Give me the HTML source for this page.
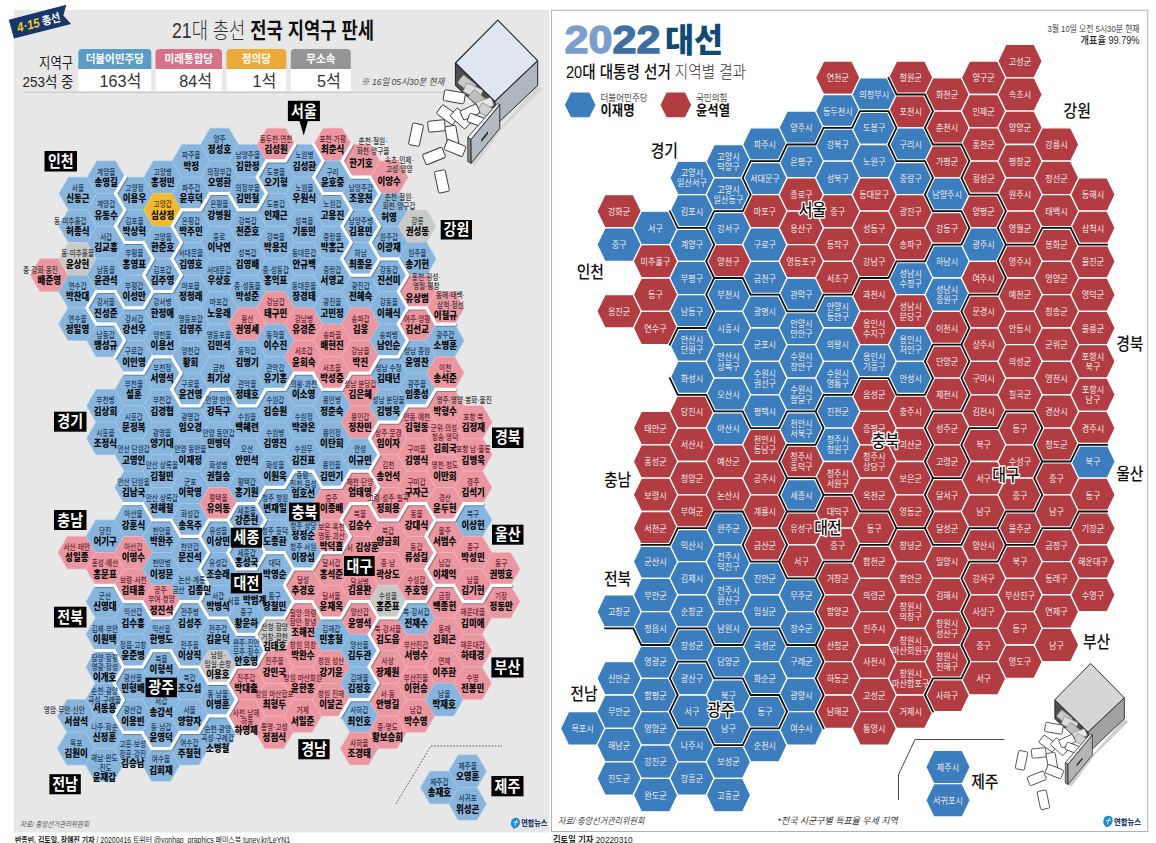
<!DOCTYPE html>
<html lang="ko"><head><meta charset="utf-8"><title>21대 총선 전국 지역구 판세 · 2022 대선 지역별 결과</title>
<style>html,body{margin:0;padding:0;background:#fff}body{width:1156px;height:843px;overflow:hidden;position:relative}svg{display:block;font-family:"Liberation Sans","Noto Sans CJK KR",sans-serif}</style>
</head><body>
<svg width="1156" height="843" viewBox="0 0 1156 843">
<rect width="1156" height="843" fill="#fff"/>
<g id="left">
<rect x="13.8" y="10" width="535.5" height="822.5" fill="#e7e7e7"/>
<g transform="translate(8.8 19.7) rotate(-14.6)">
<polygon points="0,0 59.5,0 53.8,9.8 59.2,19.8 0.3,19.4" fill="#17386d"/>
<text x="6" y="14.6" font-size="13" font-weight="900" fill="#f6c927" font-style="italic" textLength="23" lengthAdjust="spacingAndGlyphs">4·15</text>
<text x="31.5" y="14.3" font-size="11.5" font-weight="700" fill="#fff" textLength="19" lengthAdjust="spacingAndGlyphs">총선</text>
</g>
<text x="172" y="37.5" font-size="21.5" fill="#333" textLength="202" lengthAdjust="spacingAndGlyphs"><tspan font-weight="300">21대 총선 </tspan><tspan font-weight="700" fill="#111">전국 지역구 판세</tspan></text>
<text transform="translate(73.0 67.9) scale(0.82 1)" font-size="15" font-weight="400" fill="#222" text-anchor="end">지역구</text>
<text transform="translate(73.5 86.9) scale(0.9 1)" font-size="15" font-weight="400" fill="#222" text-anchor="end">253석 중</text>
<path d="M78.3 69 V53 a4 4 0 0 1 4 -4 H147.3 a4 4 0 0 1 4 4 V69 Z" fill="#5b9bc6"/>
<rect x="78.3" y="69" width="73.0" height="22" fill="#fff"/>
<text transform="translate(114.8 63.4) scale(0.92 1)" font-size="11.5" font-weight="700" fill="#fff" text-anchor="middle">더불어민주당</text>
<text transform="translate(141.3 86.6) scale(0.95 1)" font-size="17" font-weight="400" fill="#333" text-anchor="end">163석</text>
<path d="M155.5 69 V53 a4 4 0 0 1 4 -4 H218.0 a4 4 0 0 1 4 4 V69 Z" fill="#d7728b"/>
<rect x="155.5" y="69" width="66.5" height="22" fill="#fff"/>
<text transform="translate(188.8 63.4) scale(0.92 1)" font-size="11.5" font-weight="700" fill="#fff" text-anchor="middle">미래통합당</text>
<text transform="translate(212.0 86.6) scale(0.95 1)" font-size="17" font-weight="400" fill="#333" text-anchor="end">84석</text>
<path d="M226.5 69 V53 a4 4 0 0 1 4 -4 H282.3 a4 4 0 0 1 4 4 V69 Z" fill="#eaaa3c"/>
<rect x="226.5" y="69" width="59.8" height="22" fill="#fff"/>
<text transform="translate(256.4 63.4) scale(0.92 1)" font-size="11.5" font-weight="700" fill="#fff" text-anchor="middle">정의당</text>
<text transform="translate(276.3 86.6) scale(0.95 1)" font-size="17" font-weight="400" fill="#333" text-anchor="end">1석</text>
<path d="M290.8 69 V53 a4 4 0 0 1 4 -4 H346.8 a4 4 0 0 1 4 4 V69 Z" fill="#959595"/>
<rect x="290.8" y="69" width="60.0" height="22" fill="#fff"/>
<text transform="translate(320.8 63.4) scale(0.92 1)" font-size="11.5" font-weight="700" fill="#fff" text-anchor="middle">무소속</text>
<text transform="translate(340.8 86.6) scale(0.95 1)" font-size="17" font-weight="400" fill="#333" text-anchor="end">5석</text>
<line x1="24" y1="92.3" x2="443" y2="92.3" stroke="#bdbdbd" stroke-width="0.8"/>
<text transform="translate(361.0 85.4) scale(0.9 1)" font-size="9.5" font-weight="400" fill="#444" text-anchor="start" font-style="italic">※ 16일 05시30분 현재</text>
<g transform="" stroke-linejoin="round">
<polygon points="537.7,85.5 542.5,89 503,128 475,166 471.2,163.3 499.8,128.4" fill="#d6d6d6"/>
<polygon points="455.4,63 494.8,101.3 496,123 455.4,85.5" fill="#4d4d4d" stroke="#222" stroke-width="1"/>
<rect x="458.5" y="79.0" width="17.0" height="10.0" rx="1.2" transform="rotate(38 467.0 84.0)" fill="#c9c9c9" stroke="#777" stroke-width="0.6"/>
<rect x="464.0" y="86.0" width="18.0" height="10.0" rx="1.2" transform="rotate(25 473.0 91.0)" fill="#dcdcdc" stroke="#777" stroke-width="0.6"/>
<rect x="469.0" y="94.0" width="18.0" height="10.0" rx="1.2" transform="rotate(40 478.0 99.0)" fill="#bdbdbd" stroke="#777" stroke-width="0.6"/>
<rect x="477.0" y="99.5" width="16.0" height="9.0" rx="1.2" transform="rotate(-20 485.0 104.0)" fill="#e6e6e6" stroke="#777" stroke-width="0.6"/>
<rect x="478.5" y="106.0" width="17.0" height="10.0" rx="1.2" transform="rotate(30 487.0 111.0)" fill="#d0d0d0" stroke="#777" stroke-width="0.6"/>
<polygon points="537.7,60.7 537.7,85.5 497.5,123.5 494.8,101.3" fill="#aeb6bf" stroke="#222" stroke-width="1"/>
<polygon points="497.8,20.1 537.7,60.7 494.8,101.3 455.4,63" fill="#dfe6f1" stroke="#222" stroke-width="1.1"/>
<rect x="443.8" y="91.3" width="21.0" height="11.0" rx="1.5" transform="rotate(10 454.3 96.8)" fill="#fff" stroke="#333" stroke-width="0.9"/>
<rect x="437.5" y="109.3" width="20.0" height="11.0" rx="1.5" transform="rotate(36 447.5 114.8)" fill="#fff" stroke="#333" stroke-width="0.9"/>
<rect x="451.0" y="113.0" width="20.0" height="11.0" rx="1.5" transform="rotate(42 461.0 118.5)" fill="#fff" stroke="#333" stroke-width="0.9"/>
<rect x="428.0" y="120.5" width="17.0" height="11.0" rx="1.5" transform="rotate(-6 436.5 126.0)" fill="#fff" stroke="#333" stroke-width="0.9"/>
<rect x="446.5" y="125.8" width="11.0" height="21.0" rx="1.5" transform="rotate(-10 452.0 136.3)" fill="#fff" stroke="#333" stroke-width="0.9"/>
<rect x="445.0" y="142.5" width="20.0" height="11.0" rx="1.5" transform="rotate(22 455.0 148.0)" fill="#fff" stroke="#333" stroke-width="0.9"/>
<rect x="410.5" y="123.7" width="11.0" height="22.0" rx="1.5" transform="rotate(12 416.0 134.7)" fill="#fff" stroke="#333" stroke-width="0.9"/>
<rect x="423.5" y="150.5" width="21.0" height="11.0" rx="1.5" transform="rotate(-22 434.0 156.0)" fill="#fff" stroke="#333" stroke-width="0.9"/>
<rect x="436.4" y="170.4" width="11.0" height="22.0" rx="1.5" transform="rotate(-12 441.9 181.4)" fill="#fff" stroke="#333" stroke-width="0.9"/>
<rect x="461.0" y="107.0" width="18.0" height="10.0" rx="1.5" transform="rotate(-25 470.0 112.0)" fill="#fff" stroke="#333" stroke-width="0.9"/>
<rect x="468.0" y="115.5" width="16.0" height="9.0" rx="1.5" transform="rotate(20 476.0 120.0)" fill="#fff" stroke="#333" stroke-width="0.9"/>
<polygon points="467.8,137.4 497.1,103.6 499.8,104.7 471,139.5" fill="#eef1f5" stroke="#222" stroke-width="0.8"/>
<polygon points="467.8,137.4 471,139.5 471.2,163.3 467.8,161.5" fill="#8d8d8d" stroke="#222" stroke-width="0.8"/>
<polygon points="471,139.5 499.8,104.7 499.8,128.4 471.2,163.3" fill="#b3bac2" stroke="#222" stroke-width="0.9"/>
<polygon points="481.3,139.5 488,131.3 488,133.8 481.3,142" fill="#222"/>
</g>
<g stroke-width="0.7">
<polygon points="30.4,275.1 39.9,258.8 58.7,258.8 68.2,275.1 58.7,291.5 39.9,291.5" fill="#ea97a2" stroke="#f4b4bd"/>
<polygon points="59.0,193.6 68.4,177.2 87.3,177.2 96.7,193.6 87.3,209.9 68.4,209.9" fill="#88b5dd" stroke="#a5c9e8"/>
<polygon points="58.9,226.2 68.3,209.9 87.2,209.9 96.6,226.2 87.2,242.5 68.3,242.5" fill="#88b5dd" stroke="#a5c9e8"/>
<polygon points="58.8,258.9 68.2,242.5 87.1,242.5 96.5,258.9 87.1,275.2 68.2,275.2" fill="#c9c9c9" stroke="#d9d9d9"/>
<polygon points="58.7,291.5 68.1,275.2 87.0,275.2 96.4,291.5 87.0,307.8 68.1,307.8" fill="#88b5dd" stroke="#a5c9e8"/>
<polygon points="58.6,324.1 68.0,307.8 86.9,307.8 96.3,324.1 86.9,340.5 68.0,340.5" fill="#88b5dd" stroke="#a5c9e8"/>
<polygon points="57.9,552.7 67.3,536.4 86.2,536.4 95.7,552.7 86.2,569.0 67.3,569.0" fill="#ea97a2" stroke="#f4b4bd"/>
<polygon points="57.4,715.9 66.9,699.6 85.7,699.6 95.2,715.9 85.7,732.3 66.9,732.3" fill="#88b5dd" stroke="#a5c9e8"/>
<polygon points="57.3,748.6 66.8,732.3 85.6,732.3 95.1,748.6 85.6,764.9 66.8,764.9" fill="#88b5dd" stroke="#a5c9e8"/>
<polygon points="87.3,177.2 96.8,160.9 115.6,160.9 125.1,177.2 115.6,193.5 96.8,193.5" fill="#88b5dd" stroke="#a5c9e8"/>
<polygon points="87.2,209.9 96.7,193.5 115.5,193.5 125.0,209.9 115.5,226.2 96.7,226.2" fill="#88b5dd" stroke="#a5c9e8"/>
<polygon points="87.1,242.5 96.6,226.2 115.4,226.2 124.9,242.5 115.4,258.8 96.6,258.8" fill="#88b5dd" stroke="#a5c9e8"/>
<polygon points="87.0,275.1 96.5,258.8 115.3,258.8 124.8,275.1 115.3,291.5 96.5,291.5" fill="#88b5dd" stroke="#a5c9e8"/>
<polygon points="86.9,307.8 96.4,291.5 115.3,291.5 124.7,307.8 115.3,324.1 96.4,324.1" fill="#88b5dd" stroke="#a5c9e8"/>
<polygon points="86.8,340.4 96.3,324.1 115.2,324.1 124.6,340.4 115.2,356.8 96.3,356.8" fill="#88b5dd" stroke="#a5c9e8"/>
<polygon points="86.7,405.8 96.1,389.4 115.0,389.4 124.4,405.8 115.0,422.1 96.1,422.1" fill="#88b5dd" stroke="#a5c9e8"/>
<polygon points="86.6,438.4 96.0,422.1 114.9,422.1 124.3,438.4 114.9,454.7 96.0,454.7" fill="#88b5dd" stroke="#a5c9e8"/>
<polygon points="86.3,536.3 95.7,520.0 114.6,520.0 124.0,536.3 114.6,552.7 95.7,552.7" fill="#88b5dd" stroke="#a5c9e8"/>
<polygon points="86.2,569.0 95.6,552.7 114.5,552.7 123.9,569.0 114.5,585.3 95.6,585.3" fill="#ea97a2" stroke="#f4b4bd"/>
<polygon points="86.1,601.6 95.5,585.3 114.4,585.3 123.8,601.6 114.4,618.0 95.5,618.0" fill="#88b5dd" stroke="#a5c9e8"/>
<polygon points="86.0,634.3 95.4,618.0 114.3,618.0 123.7,634.3 114.3,650.6 95.4,650.6" fill="#88b5dd" stroke="#a5c9e8"/>
<polygon points="85.9,667.0 95.3,650.6 114.2,650.6 123.6,667.0 114.2,683.3 95.3,683.3" fill="#88b5dd" stroke="#a5c9e8"/>
<polygon points="85.8,699.6 95.2,683.3 114.1,683.3 123.5,699.6 114.1,715.9 95.2,715.9" fill="#88b5dd" stroke="#a5c9e8"/>
<polygon points="85.7,732.2 95.1,715.9 114.0,715.9 123.4,732.2 114.0,748.6 95.1,748.6" fill="#88b5dd" stroke="#a5c9e8"/>
<polygon points="85.6,764.9 95.0,748.6 113.9,748.6 123.3,764.9 113.9,781.2 95.0,781.2" fill="#88b5dd" stroke="#a5c9e8"/>
<polygon points="115.6,193.6 125.0,177.2 143.9,177.2 153.3,193.6 143.9,209.9 125.0,209.9" fill="#88b5dd" stroke="#a5c9e8"/>
<polygon points="115.5,226.2 124.9,209.9 143.8,209.9 153.2,226.2 143.8,242.5 124.9,242.5" fill="#88b5dd" stroke="#a5c9e8"/>
<polygon points="115.4,258.9 124.8,242.5 143.7,242.5 153.1,258.9 143.7,275.2 124.8,275.2" fill="#88b5dd" stroke="#a5c9e8"/>
<polygon points="115.3,291.5 124.7,275.2 143.6,275.2 153.0,291.5 143.6,307.8 124.7,307.8" fill="#88b5dd" stroke="#a5c9e8"/>
<polygon points="115.2,324.1 124.6,307.8 143.5,307.8 152.9,324.1 143.5,340.5 124.6,340.5" fill="#88b5dd" stroke="#a5c9e8"/>
<polygon points="115.1,356.8 124.5,340.5 143.4,340.5 152.8,356.8 143.4,373.1 124.5,373.1" fill="#88b5dd" stroke="#a5c9e8"/>
<polygon points="115.0,389.4 124.4,373.1 143.3,373.1 152.7,389.4 143.3,405.8 124.4,405.8" fill="#88b5dd" stroke="#a5c9e8"/>
<polygon points="114.9,422.1 124.3,405.8 143.2,405.8 152.6,422.1 143.2,438.4 124.3,438.4" fill="#88b5dd" stroke="#a5c9e8"/>
<polygon points="114.8,454.8 124.2,438.4 143.1,438.4 152.5,454.8 143.1,471.1 124.2,471.1" fill="#88b5dd" stroke="#a5c9e8"/>
<polygon points="114.7,487.4 124.1,471.1 143.0,471.1 152.4,487.4 143.0,503.7 124.1,503.7" fill="#88b5dd" stroke="#a5c9e8"/>
<polygon points="114.6,520.0 124.0,503.7 142.9,503.7 152.3,520.0 142.9,536.4 124.0,536.4" fill="#88b5dd" stroke="#a5c9e8"/>
<polygon points="114.5,552.7 123.9,536.4 142.8,536.4 152.3,552.7 142.8,569.0 123.9,569.0" fill="#ea97a2" stroke="#f4b4bd"/>
<polygon points="114.4,585.4 123.8,569.0 142.7,569.0 152.2,585.4 142.7,601.7 123.8,601.7" fill="#ea97a2" stroke="#f4b4bd"/>
<polygon points="114.3,618.0 123.8,601.7 142.6,601.7 152.1,618.0 142.6,634.3 123.8,634.3" fill="#88b5dd" stroke="#a5c9e8"/>
<polygon points="114.2,650.6 123.7,634.3 142.5,634.3 152.0,650.6 142.5,667.0 123.7,667.0" fill="#88b5dd" stroke="#a5c9e8"/>
<polygon points="114.1,683.3 123.6,667.0 142.4,667.0 151.9,683.3 142.4,699.6 123.6,699.6" fill="#88b5dd" stroke="#a5c9e8"/>
<polygon points="114.0,715.9 123.5,699.6 142.3,699.6 151.8,715.9 142.3,732.3 123.5,732.3" fill="#88b5dd" stroke="#a5c9e8"/>
<polygon points="113.9,748.6 123.4,732.3 142.2,732.3 151.7,748.6 142.2,764.9 123.4,764.9" fill="#88b5dd" stroke="#a5c9e8"/>
<polygon points="143.9,177.2 153.4,160.9 172.2,160.9 181.7,177.2 172.2,193.5 153.4,193.5" fill="#88b5dd" stroke="#a5c9e8"/>
<polygon points="143.8,209.9 153.3,193.5 172.1,193.5 181.6,209.9 172.1,226.2 153.3,226.2" fill="#f2b92f" stroke="#f6cd68"/>
<polygon points="143.7,242.5 153.2,226.2 172.0,226.2 181.5,242.5 172.0,258.8 153.2,258.8" fill="#88b5dd" stroke="#a5c9e8"/>
<polygon points="143.6,275.1 153.1,258.8 171.9,258.8 181.4,275.1 171.9,291.5 153.1,291.5" fill="#88b5dd" stroke="#a5c9e8"/>
<polygon points="143.5,307.8 153.0,291.5 171.9,291.5 181.3,307.8 171.9,324.1 153.0,324.1" fill="#88b5dd" stroke="#a5c9e8"/>
<polygon points="143.4,340.4 152.9,324.1 171.8,324.1 181.2,340.4 171.8,356.8 152.9,356.8" fill="#88b5dd" stroke="#a5c9e8"/>
<polygon points="143.4,373.1 152.8,356.8 171.7,356.8 181.1,373.1 171.7,389.4 152.8,389.4" fill="#88b5dd" stroke="#a5c9e8"/>
<polygon points="143.3,405.8 152.7,389.4 171.6,389.4 181.0,405.8 171.6,422.1 152.7,422.1" fill="#88b5dd" stroke="#a5c9e8"/>
<polygon points="143.2,438.4 152.6,422.1 171.5,422.1 180.9,438.4 171.5,454.7 152.6,454.7" fill="#88b5dd" stroke="#a5c9e8"/>
<polygon points="143.1,471.1 152.5,454.7 171.4,454.7 180.8,471.1 171.4,487.4 152.5,487.4" fill="#88b5dd" stroke="#a5c9e8"/>
<polygon points="143.0,503.7 152.4,487.4 171.3,487.4 180.7,503.7 171.3,520.0 152.4,520.0" fill="#88b5dd" stroke="#a5c9e8"/>
<polygon points="142.9,536.3 152.3,520.0 171.2,520.0 180.6,536.3 171.2,552.7 152.3,552.7" fill="#88b5dd" stroke="#a5c9e8"/>
<polygon points="142.8,569.0 152.2,552.7 171.1,552.7 180.5,569.0 171.1,585.3 152.2,585.3" fill="#88b5dd" stroke="#a5c9e8"/>
<polygon points="142.7,601.6 152.1,585.3 171.0,585.3 180.4,601.6 171.0,618.0 152.1,618.0" fill="#ea97a2" stroke="#f4b4bd"/>
<polygon points="142.6,634.3 152.0,618.0 170.9,618.0 180.3,634.3 170.9,650.6 152.0,650.6" fill="#88b5dd" stroke="#a5c9e8"/>
<polygon points="142.5,667.0 151.9,650.6 170.8,650.6 180.2,667.0 170.8,683.3 151.9,683.3" fill="#88b5dd" stroke="#a5c9e8"/>
<polygon points="142.4,699.6 151.8,683.3 170.7,683.3 180.1,699.6 170.7,715.9 151.8,715.9" fill="#88b5dd" stroke="#a5c9e8"/>
<polygon points="142.3,732.2 151.7,715.9 170.6,715.9 180.0,732.2 170.6,748.6 151.7,748.6" fill="#88b5dd" stroke="#a5c9e8"/>
<polygon points="142.2,764.9 151.6,748.6 170.5,748.6 179.9,764.9 170.5,781.2 151.6,781.2" fill="#88b5dd" stroke="#a5c9e8"/>
<polygon points="172.3,160.9 181.7,144.6 200.6,144.6 210.0,160.9 200.6,177.2 181.7,177.2" fill="#88b5dd" stroke="#a5c9e8"/>
<polygon points="172.2,193.6 181.6,177.2 200.5,177.2 209.9,193.6 200.5,209.9 181.6,209.9" fill="#88b5dd" stroke="#a5c9e8"/>
<polygon points="172.1,226.2 181.5,209.9 200.4,209.9 209.8,226.2 200.4,242.5 181.5,242.5" fill="#88b5dd" stroke="#a5c9e8"/>
<polygon points="172.0,258.9 181.4,242.5 200.3,242.5 209.7,258.9 200.3,275.2 181.4,275.2" fill="#88b5dd" stroke="#a5c9e8"/>
<polygon points="171.9,291.5 181.3,275.2 200.2,275.2 209.6,291.5 200.2,307.8 181.3,307.8" fill="#88b5dd" stroke="#a5c9e8"/>
<polygon points="171.8,324.1 181.2,307.8 200.1,307.8 209.5,324.1 200.1,340.5 181.2,340.5" fill="#88b5dd" stroke="#a5c9e8"/>
<polygon points="171.7,356.8 181.1,340.5 200.0,340.5 209.4,356.8 200.0,373.1 181.1,373.1" fill="#88b5dd" stroke="#a5c9e8"/>
<polygon points="171.6,389.4 181.0,373.1 199.9,373.1 209.3,389.4 199.9,405.8 181.0,405.8" fill="#88b5dd" stroke="#a5c9e8"/>
<polygon points="171.5,422.1 180.9,405.8 199.8,405.8 209.2,422.1 199.8,438.4 180.9,438.4" fill="#88b5dd" stroke="#a5c9e8"/>
<polygon points="171.4,454.8 180.8,438.4 199.7,438.4 209.1,454.8 199.7,471.1 180.8,471.1" fill="#88b5dd" stroke="#a5c9e8"/>
<polygon points="171.3,487.4 180.7,471.1 199.6,471.1 209.0,487.4 199.6,503.7 180.7,503.7" fill="#88b5dd" stroke="#a5c9e8"/>
<polygon points="171.2,520.0 180.6,503.7 199.5,503.7 208.9,520.0 199.5,536.4 180.6,536.4" fill="#88b5dd" stroke="#a5c9e8"/>
<polygon points="171.1,552.7 180.5,536.4 199.4,536.4 208.9,552.7 199.4,569.0 180.5,569.0" fill="#88b5dd" stroke="#a5c9e8"/>
<polygon points="171.0,585.4 180.4,569.0 199.3,569.0 208.8,585.4 199.3,601.7 180.4,601.7" fill="#88b5dd" stroke="#a5c9e8"/>
<polygon points="170.9,618.0 180.4,601.7 199.2,601.7 208.7,618.0 199.2,634.3 180.4,634.3" fill="#88b5dd" stroke="#a5c9e8"/>
<polygon points="170.8,650.6 180.3,634.3 199.1,634.3 208.6,650.6 199.1,667.0 180.3,667.0" fill="#88b5dd" stroke="#a5c9e8"/>
<polygon points="170.7,683.3 180.2,667.0 199.0,667.0 208.5,683.3 199.0,699.6 180.2,699.6" fill="#88b5dd" stroke="#a5c9e8"/>
<polygon points="170.6,715.9 180.1,699.6 198.9,699.6 208.4,715.9 198.9,732.3 180.1,732.3" fill="#88b5dd" stroke="#a5c9e8"/>
<polygon points="170.5,748.6 180.0,732.3 198.8,732.3 208.3,748.6 198.8,764.9 180.0,764.9" fill="#88b5dd" stroke="#a5c9e8"/>
<polygon points="200.6,144.6 210.1,128.2 228.9,128.2 238.4,144.6 228.9,160.9 210.1,160.9" fill="#88b5dd" stroke="#a5c9e8"/>
<polygon points="200.5,177.2 210.0,160.9 228.8,160.9 238.3,177.2 228.8,193.5 210.0,193.5" fill="#88b5dd" stroke="#a5c9e8"/>
<polygon points="200.4,209.9 209.9,193.5 228.7,193.5 238.2,209.9 228.7,226.2 209.9,226.2" fill="#88b5dd" stroke="#a5c9e8"/>
<polygon points="200.3,242.5 209.8,226.2 228.6,226.2 238.1,242.5 228.6,258.8 209.8,258.8" fill="#88b5dd" stroke="#a5c9e8"/>
<polygon points="200.2,275.1 209.7,258.8 228.5,258.8 238.0,275.1 228.5,291.5 209.7,291.5" fill="#88b5dd" stroke="#a5c9e8"/>
<polygon points="200.1,307.8 209.6,291.5 228.5,291.5 237.9,307.8 228.5,324.1 209.6,324.1" fill="#88b5dd" stroke="#a5c9e8"/>
<polygon points="200.0,340.4 209.5,324.1 228.4,324.1 237.8,340.4 228.4,356.8 209.5,356.8" fill="#88b5dd" stroke="#a5c9e8"/>
<polygon points="200.0,373.1 209.4,356.8 228.3,356.8 237.7,373.1 228.3,389.4 209.4,389.4" fill="#88b5dd" stroke="#a5c9e8"/>
<polygon points="199.9,405.8 209.3,389.4 228.2,389.4 237.6,405.8 228.2,422.1 209.3,422.1" fill="#88b5dd" stroke="#a5c9e8"/>
<polygon points="199.8,438.4 209.2,422.1 228.1,422.1 237.5,438.4 228.1,454.7 209.2,454.7" fill="#88b5dd" stroke="#a5c9e8"/>
<polygon points="199.7,471.1 209.1,454.7 228.0,454.7 237.4,471.1 228.0,487.4 209.1,487.4" fill="#88b5dd" stroke="#a5c9e8"/>
<polygon points="199.6,503.7 209.0,487.4 227.9,487.4 237.3,503.7 227.9,520.0 209.0,520.0" fill="#ea97a2" stroke="#f4b4bd"/>
<polygon points="199.5,536.3 208.9,520.0 227.8,520.0 237.2,536.3 227.8,552.7 208.9,552.7" fill="#88b5dd" stroke="#a5c9e8"/>
<polygon points="199.4,569.0 208.8,552.7 227.7,552.7 237.1,569.0 227.7,585.3 208.8,585.3" fill="#88b5dd" stroke="#a5c9e8"/>
<polygon points="199.3,601.6 208.7,585.3 227.6,585.3 237.0,601.6 227.6,618.0 208.7,618.0" fill="#88b5dd" stroke="#a5c9e8"/>
<polygon points="199.2,634.3 208.6,618.0 227.5,618.0 236.9,634.3 227.5,650.6 208.6,650.6" fill="#88b5dd" stroke="#a5c9e8"/>
<polygon points="199.1,667.0 208.5,650.6 227.4,650.6 236.8,667.0 227.4,683.3 208.5,683.3" fill="#c9c9c9" stroke="#d9d9d9"/>
<polygon points="199.0,699.6 208.4,683.3 227.3,683.3 236.7,699.6 227.3,715.9 208.4,715.9" fill="#88b5dd" stroke="#a5c9e8"/>
<polygon points="198.9,732.2 208.3,715.9 227.2,715.9 236.6,732.2 227.2,748.6 208.3,748.6" fill="#88b5dd" stroke="#a5c9e8"/>
<polygon points="228.9,160.9 238.3,144.6 257.2,144.6 266.6,160.9 257.2,177.2 238.3,177.2" fill="#88b5dd" stroke="#a5c9e8"/>
<polygon points="228.8,193.6 238.2,177.2 257.1,177.2 266.5,193.6 257.1,209.9 238.2,209.9" fill="#88b5dd" stroke="#a5c9e8"/>
<polygon points="228.7,226.2 238.1,209.9 257.0,209.9 266.4,226.2 257.0,242.5 238.1,242.5" fill="#88b5dd" stroke="#a5c9e8"/>
<polygon points="228.6,258.9 238.0,242.5 256.9,242.5 266.3,258.9 256.9,275.2 238.0,275.2" fill="#88b5dd" stroke="#a5c9e8"/>
<polygon points="228.5,291.5 237.9,275.2 256.8,275.2 266.2,291.5 256.8,307.8 237.9,307.8" fill="#88b5dd" stroke="#a5c9e8"/>
<polygon points="228.4,324.1 237.8,307.8 256.7,307.8 266.1,324.1 256.7,340.5 237.8,340.5" fill="#ea97a2" stroke="#f4b4bd"/>
<polygon points="228.3,356.8 237.7,340.5 256.6,340.5 266.0,356.8 256.6,373.1 237.7,373.1" fill="#88b5dd" stroke="#a5c9e8"/>
<polygon points="228.2,389.4 237.6,373.1 256.5,373.1 265.9,389.4 256.5,405.8 237.6,405.8" fill="#88b5dd" stroke="#a5c9e8"/>
<polygon points="228.1,422.1 237.5,405.8 256.4,405.8 265.8,422.1 256.4,438.4 237.5,438.4" fill="#88b5dd" stroke="#a5c9e8"/>
<polygon points="228.0,454.8 237.4,438.4 256.3,438.4 265.7,454.8 256.3,471.1 237.4,471.1" fill="#88b5dd" stroke="#a5c9e8"/>
<polygon points="227.9,487.4 237.3,471.1 256.2,471.1 265.6,487.4 256.2,503.7 237.3,503.7" fill="#88b5dd" stroke="#a5c9e8"/>
<polygon points="227.8,520.0 237.2,503.7 256.1,503.7 265.5,520.0 256.1,536.4 237.2,536.4" fill="#88b5dd" stroke="#a5c9e8"/>
<polygon points="227.7,552.7 237.1,536.4 256.0,536.4 265.5,552.7 256.0,569.0 237.1,569.0" fill="#88b5dd" stroke="#a5c9e8"/>
<polygon points="227.6,585.4 237.0,569.0 255.9,569.0 265.4,585.4 255.9,601.7 237.0,601.7" fill="#88b5dd" stroke="#a5c9e8"/>
<polygon points="227.5,618.0 237.0,601.7 255.8,601.7 265.3,618.0 255.8,634.3 237.0,634.3" fill="#88b5dd" stroke="#a5c9e8"/>
<polygon points="227.4,650.6 236.9,634.3 255.7,634.3 265.2,650.6 255.7,667.0 236.9,667.0" fill="#88b5dd" stroke="#a5c9e8"/>
<polygon points="227.3,683.3 236.8,667.0 255.6,667.0 265.1,683.3 255.6,699.6 236.8,699.6" fill="#ea97a2" stroke="#f4b4bd"/>
<polygon points="227.2,715.9 236.7,699.6 255.5,699.6 265.0,715.9 255.5,732.3 236.7,732.3" fill="#ea97a2" stroke="#f4b4bd"/>
<polygon points="257.2,144.6 266.7,128.2 285.5,128.2 295.0,144.6 285.5,160.9 266.7,160.9" fill="#ea97a2" stroke="#f4b4bd"/>
<polygon points="257.1,177.2 266.6,160.9 285.4,160.9 294.9,177.2 285.4,193.5 266.6,193.5" fill="#88b5dd" stroke="#a5c9e8"/>
<polygon points="257.0,209.9 266.5,193.5 285.3,193.5 294.8,209.9 285.3,226.2 266.5,226.2" fill="#88b5dd" stroke="#a5c9e8"/>
<polygon points="256.9,242.5 266.4,226.2 285.2,226.2 294.7,242.5 285.2,258.8 266.4,258.8" fill="#88b5dd" stroke="#a5c9e8"/>
<polygon points="256.8,275.1 266.3,258.8 285.1,258.8 294.6,275.1 285.1,291.5 266.3,291.5" fill="#88b5dd" stroke="#a5c9e8"/>
<polygon points="256.7,307.8 266.2,291.5 285.1,291.5 294.5,307.8 285.1,324.1 266.2,324.1" fill="#ea97a2" stroke="#f4b4bd"/>
<polygon points="256.6,340.4 266.1,324.1 285.0,324.1 294.4,340.4 285.0,356.8 266.1,356.8" fill="#88b5dd" stroke="#a5c9e8"/>
<polygon points="256.6,373.1 266.0,356.8 284.9,356.8 294.3,373.1 284.9,389.4 266.0,389.4" fill="#88b5dd" stroke="#a5c9e8"/>
<polygon points="256.5,405.8 265.9,389.4 284.8,389.4 294.2,405.8 284.8,422.1 265.9,422.1" fill="#88b5dd" stroke="#a5c9e8"/>
<polygon points="256.4,438.4 265.8,422.1 284.7,422.1 294.1,438.4 284.7,454.7 265.8,454.7" fill="#88b5dd" stroke="#a5c9e8"/>
<polygon points="256.3,471.1 265.7,454.7 284.6,454.7 294.0,471.1 284.6,487.4 265.7,487.4" fill="#88b5dd" stroke="#a5c9e8"/>
<polygon points="256.2,503.7 265.6,487.4 284.5,487.4 293.9,503.7 284.5,520.0 265.6,520.0" fill="#88b5dd" stroke="#a5c9e8"/>
<polygon points="256.1,536.3 265.5,520.0 284.4,520.0 293.8,536.3 284.4,552.7 265.5,552.7" fill="#88b5dd" stroke="#a5c9e8"/>
<polygon points="256.0,569.0 265.4,552.7 284.3,552.7 293.7,569.0 284.3,585.3 265.4,585.3" fill="#88b5dd" stroke="#a5c9e8"/>
<polygon points="255.9,601.6 265.3,585.3 284.2,585.3 293.6,601.6 284.2,618.0 265.3,618.0" fill="#88b5dd" stroke="#a5c9e8"/>
<polygon points="255.8,634.3 265.2,618.0 284.1,618.0 293.5,634.3 284.1,650.6 265.2,650.6" fill="#c9c9c9" stroke="#d9d9d9"/>
<polygon points="255.7,667.0 265.1,650.6 284.0,650.6 293.4,667.0 284.0,683.3 265.1,683.3" fill="#ea97a2" stroke="#f4b4bd"/>
<polygon points="255.6,699.6 265.0,683.3 283.9,683.3 293.3,699.6 283.9,715.9 265.0,715.9" fill="#ea97a2" stroke="#f4b4bd"/>
<polygon points="255.5,732.2 264.9,715.9 283.8,715.9 293.2,732.2 283.8,748.6 264.9,748.6" fill="#ea97a2" stroke="#f4b4bd"/>
<polygon points="285.5,160.9 294.9,144.6 313.8,144.6 323.2,160.9 313.8,177.2 294.9,177.2" fill="#88b5dd" stroke="#a5c9e8"/>
<polygon points="285.4,193.6 294.8,177.2 313.7,177.2 323.1,193.6 313.7,209.9 294.8,209.9" fill="#88b5dd" stroke="#a5c9e8"/>
<polygon points="285.3,226.2 294.7,209.9 313.6,209.9 323.0,226.2 313.6,242.5 294.7,242.5" fill="#88b5dd" stroke="#a5c9e8"/>
<polygon points="285.2,258.9 294.6,242.5 313.5,242.5 322.9,258.9 313.5,275.2 294.6,275.2" fill="#88b5dd" stroke="#a5c9e8"/>
<polygon points="285.1,291.5 294.5,275.2 313.4,275.2 322.8,291.5 313.4,307.8 294.5,307.8" fill="#88b5dd" stroke="#a5c9e8"/>
<polygon points="285.0,324.1 294.4,307.8 313.3,307.8 322.7,324.1 313.3,340.5 294.4,340.5" fill="#ea97a2" stroke="#f4b4bd"/>
<polygon points="284.9,356.8 294.3,340.5 313.2,340.5 322.6,356.8 313.2,373.1 294.3,373.1" fill="#ea97a2" stroke="#f4b4bd"/>
<polygon points="284.8,389.4 294.2,373.1 313.1,373.1 322.5,389.4 313.1,405.8 294.2,405.8" fill="#88b5dd" stroke="#a5c9e8"/>
<polygon points="284.7,422.1 294.1,405.8 313.0,405.8 322.4,422.1 313.0,438.4 294.1,438.4" fill="#88b5dd" stroke="#a5c9e8"/>
<polygon points="284.6,454.8 294.0,438.4 312.9,438.4 322.3,454.8 312.9,471.1 294.0,471.1" fill="#88b5dd" stroke="#a5c9e8"/>
<polygon points="284.5,487.4 293.9,471.1 312.8,471.1 322.2,487.4 312.8,503.7 293.9,503.7" fill="#88b5dd" stroke="#a5c9e8"/>
<polygon points="284.4,520.0 293.8,503.7 312.7,503.7 322.1,520.0 312.7,536.4 293.8,536.4" fill="#88b5dd" stroke="#a5c9e8"/>
<polygon points="284.3,552.7 293.7,536.4 312.6,536.4 322.1,552.7 312.6,569.0 293.7,569.0" fill="#88b5dd" stroke="#a5c9e8"/>
<polygon points="284.2,585.4 293.6,569.0 312.5,569.0 322.0,585.4 312.5,601.7 293.6,601.7" fill="#ea97a2" stroke="#f4b4bd"/>
<polygon points="284.1,618.0 293.6,601.7 312.4,601.7 321.9,618.0 312.4,634.3 293.6,634.3" fill="#ea97a2" stroke="#f4b4bd"/>
<polygon points="284.0,650.6 293.5,634.3 312.3,634.3 321.8,650.6 312.3,667.0 293.5,667.0" fill="#ea97a2" stroke="#f4b4bd"/>
<polygon points="283.9,683.3 293.4,667.0 312.2,667.0 321.7,683.3 312.2,699.6 293.4,699.6" fill="#ea97a2" stroke="#f4b4bd"/>
<polygon points="283.8,715.9 293.3,699.6 312.1,699.6 321.6,715.9 312.1,732.3 293.3,732.3" fill="#ea97a2" stroke="#f4b4bd"/>
<polygon points="313.8,144.6 323.3,128.2 342.1,128.2 351.6,144.6 342.1,160.9 323.3,160.9" fill="#ea97a2" stroke="#f4b4bd"/>
<polygon points="313.7,177.2 323.2,160.9 342.0,160.9 351.5,177.2 342.0,193.5 323.2,193.5" fill="#88b5dd" stroke="#a5c9e8"/>
<polygon points="313.6,209.9 323.1,193.5 341.9,193.5 351.4,209.9 341.9,226.2 323.1,226.2" fill="#88b5dd" stroke="#a5c9e8"/>
<polygon points="313.5,242.5 323.0,226.2 341.8,226.2 351.3,242.5 341.8,258.8 323.0,258.8" fill="#88b5dd" stroke="#a5c9e8"/>
<polygon points="313.4,275.1 322.9,258.8 341.7,258.8 351.2,275.1 341.7,291.5 322.9,291.5" fill="#88b5dd" stroke="#a5c9e8"/>
<polygon points="313.3,307.8 322.8,291.5 341.7,291.5 351.1,307.8 341.7,324.1 322.8,324.1" fill="#88b5dd" stroke="#a5c9e8"/>
<polygon points="313.2,340.4 322.7,324.1 341.6,324.1 351.0,340.4 341.6,356.8 322.7,356.8" fill="#ea97a2" stroke="#f4b4bd"/>
<polygon points="313.2,373.1 322.6,356.8 341.5,356.8 350.9,373.1 341.5,389.4 322.6,389.4" fill="#ea97a2" stroke="#f4b4bd"/>
<polygon points="313.1,405.8 322.5,389.4 341.4,389.4 350.8,405.8 341.4,422.1 322.5,422.1" fill="#88b5dd" stroke="#a5c9e8"/>
<polygon points="313.0,438.4 322.4,422.1 341.3,422.1 350.7,438.4 341.3,454.7 322.4,454.7" fill="#88b5dd" stroke="#a5c9e8"/>
<polygon points="312.9,471.1 322.3,454.7 341.2,454.7 350.6,471.1 341.2,487.4 322.3,487.4" fill="#88b5dd" stroke="#a5c9e8"/>
<polygon points="312.8,503.7 322.2,487.4 341.1,487.4 350.5,503.7 341.1,520.0 322.2,520.0" fill="#ea97a2" stroke="#f4b4bd"/>
<polygon points="312.7,536.3 322.1,520.0 341.0,520.0 350.4,536.3 341.0,552.7 322.1,552.7" fill="#ea97a2" stroke="#f4b4bd"/>
<polygon points="312.6,569.0 322.0,552.7 340.9,552.7 350.3,569.0 340.9,585.3 322.0,585.3" fill="#ea97a2" stroke="#f4b4bd"/>
<polygon points="312.5,601.6 321.9,585.3 340.8,585.3 350.2,601.6 340.8,618.0 321.9,618.0" fill="#ea97a2" stroke="#f4b4bd"/>
<polygon points="312.4,634.3 321.8,618.0 340.7,618.0 350.1,634.3 340.7,650.6 321.8,650.6" fill="#88b5dd" stroke="#a5c9e8"/>
<polygon points="312.3,667.0 321.7,650.6 340.6,650.6 350.0,667.0 340.6,683.3 321.7,683.3" fill="#ea97a2" stroke="#f4b4bd"/>
<polygon points="312.2,699.6 321.6,683.3 340.5,683.3 349.9,699.6 340.5,715.9 321.6,715.9" fill="#ea97a2" stroke="#f4b4bd"/>
<polygon points="342.1,160.9 351.5,144.6 370.4,144.6 379.8,160.9 370.4,177.2 351.5,177.2" fill="#ea97a2" stroke="#f4b4bd"/>
<polygon points="342.0,193.6 351.4,177.2 370.3,177.2 379.7,193.6 370.3,209.9 351.4,209.9" fill="#88b5dd" stroke="#a5c9e8"/>
<polygon points="341.9,226.2 351.3,209.9 370.2,209.9 379.6,226.2 370.2,242.5 351.3,242.5" fill="#88b5dd" stroke="#a5c9e8"/>
<polygon points="341.8,258.9 351.2,242.5 370.1,242.5 379.5,258.9 370.1,275.2 351.2,275.2" fill="#88b5dd" stroke="#a5c9e8"/>
<polygon points="341.7,291.5 351.1,275.2 370.0,275.2 379.4,291.5 370.0,307.8 351.1,307.8" fill="#88b5dd" stroke="#a5c9e8"/>
<polygon points="341.6,324.1 351.0,307.8 369.9,307.8 379.3,324.1 369.9,340.5 351.0,340.5" fill="#ea97a2" stroke="#f4b4bd"/>
<polygon points="341.5,356.8 350.9,340.5 369.8,340.5 379.2,356.8 369.8,373.1 350.9,373.1" fill="#ea97a2" stroke="#f4b4bd"/>
<polygon points="341.4,389.4 350.8,373.1 369.7,373.1 379.1,389.4 369.7,405.8 350.8,405.8" fill="#ea97a2" stroke="#f4b4bd"/>
<polygon points="341.3,422.1 350.7,405.8 369.6,405.8 379.0,422.1 369.6,438.4 350.7,438.4" fill="#ea97a2" stroke="#f4b4bd"/>
<polygon points="341.2,454.8 350.6,438.4 369.5,438.4 378.9,454.8 369.5,471.1 350.6,471.1" fill="#88b5dd" stroke="#a5c9e8"/>
<polygon points="341.1,487.4 350.5,471.1 369.4,471.1 378.8,487.4 369.4,503.7 350.5,503.7" fill="#ea97a2" stroke="#f4b4bd"/>
<polygon points="341.0,520.0 350.4,503.7 369.3,503.7 378.7,520.0 369.3,536.4 350.4,536.4" fill="#ea97a2" stroke="#f4b4bd"/>
<polygon points="340.9,552.7 350.3,536.4 369.2,536.4 378.7,552.7 369.2,569.0 350.3,569.0" fill="#ea97a2" stroke="#f4b4bd"/>
<polygon points="340.8,585.4 350.2,569.0 369.1,569.0 378.6,585.4 369.1,601.7 350.2,601.7" fill="#ea97a2" stroke="#f4b4bd"/>
<polygon points="340.7,618.0 350.2,601.7 369.0,601.7 378.5,618.0 369.0,634.3 350.2,634.3" fill="#ea97a2" stroke="#f4b4bd"/>
<polygon points="340.6,650.6 350.1,634.3 368.9,634.3 378.4,650.6 368.9,667.0 350.1,667.0" fill="#88b5dd" stroke="#a5c9e8"/>
<polygon points="340.5,683.3 350.0,667.0 368.8,667.0 378.3,683.3 368.8,699.6 350.0,699.6" fill="#88b5dd" stroke="#a5c9e8"/>
<polygon points="340.4,715.9 349.9,699.6 368.7,699.6 378.2,715.9 368.7,732.3 349.9,732.3" fill="#88b5dd" stroke="#a5c9e8"/>
<polygon points="340.3,748.6 349.8,732.3 368.6,732.3 378.1,748.6 368.6,764.9 349.8,764.9" fill="#ea97a2" stroke="#f4b4bd"/>
<polygon points="370.3,177.2 379.8,160.9 398.6,160.9 408.1,177.2 398.6,193.5 379.8,193.5" fill="#ea97a2" stroke="#f4b4bd"/>
<polygon points="370.2,209.9 379.7,193.5 398.5,193.5 408.0,209.9 398.5,226.2 379.7,226.2" fill="#88b5dd" stroke="#a5c9e8"/>
<polygon points="370.1,242.5 379.6,226.2 398.4,226.2 407.9,242.5 398.4,258.8 379.6,258.8" fill="#88b5dd" stroke="#a5c9e8"/>
<polygon points="370.0,275.1 379.5,258.8 398.3,258.8 407.8,275.1 398.3,291.5 379.5,291.5" fill="#88b5dd" stroke="#a5c9e8"/>
<polygon points="369.9,307.8 379.4,291.5 398.3,291.5 407.7,307.8 398.3,324.1 379.4,324.1" fill="#88b5dd" stroke="#a5c9e8"/>
<polygon points="369.8,340.4 379.3,324.1 398.2,324.1 407.6,340.4 398.2,356.8 379.3,356.8" fill="#88b5dd" stroke="#a5c9e8"/>
<polygon points="369.8,373.1 379.2,356.8 398.1,356.8 407.5,373.1 398.1,389.4 379.2,389.4" fill="#88b5dd" stroke="#a5c9e8"/>
<polygon points="369.7,405.8 379.1,389.4 398.0,389.4 407.4,405.8 398.0,422.1 379.1,422.1" fill="#88b5dd" stroke="#a5c9e8"/>
<polygon points="369.6,438.4 379.0,422.1 397.9,422.1 407.3,438.4 397.9,454.7 379.0,454.7" fill="#ea97a2" stroke="#f4b4bd"/>
<polygon points="369.5,471.1 378.9,454.7 397.8,454.7 407.2,471.1 397.8,487.4 378.9,487.4" fill="#ea97a2" stroke="#f4b4bd"/>
<polygon points="369.4,503.7 378.8,487.4 397.7,487.4 407.1,503.7 397.7,520.0 378.8,520.0" fill="#ea97a2" stroke="#f4b4bd"/>
<polygon points="369.3,536.3 378.7,520.0 397.6,520.0 407.0,536.3 397.6,552.7 378.7,552.7" fill="#ea97a2" stroke="#f4b4bd"/>
<polygon points="369.2,569.0 378.6,552.7 397.5,552.7 406.9,569.0 397.5,585.3 378.6,585.3" fill="#ea97a2" stroke="#f4b4bd"/>
<polygon points="369.1,601.6 378.5,585.3 397.4,585.3 406.8,601.6 397.4,618.0 378.5,618.0" fill="#c9c9c9" stroke="#d9d9d9"/>
<polygon points="369.0,634.3 378.4,618.0 397.3,618.0 406.7,634.3 397.3,650.6 378.4,650.6" fill="#ea97a2" stroke="#f4b4bd"/>
<polygon points="368.9,667.0 378.3,650.6 397.2,650.6 406.6,667.0 397.2,683.3 378.3,683.3" fill="#ea97a2" stroke="#f4b4bd"/>
<polygon points="368.8,699.6 378.2,683.3 397.1,683.3 406.5,699.6 397.1,715.9 378.2,715.9" fill="#ea97a2" stroke="#f4b4bd"/>
<polygon points="368.7,732.2 378.1,715.9 397.0,715.9 406.4,732.2 397.0,748.6 378.1,748.6" fill="#ea97a2" stroke="#f4b4bd"/>
<polygon points="398.5,226.2 407.9,209.9 426.8,209.9 436.2,226.2 426.8,242.5 407.9,242.5" fill="#c9c9c9" stroke="#d9d9d9"/>
<polygon points="398.4,258.9 407.8,242.5 426.7,242.5 436.1,258.9 426.7,275.2 407.8,275.2" fill="#88b5dd" stroke="#a5c9e8"/>
<polygon points="398.3,291.5 407.7,275.2 426.6,275.2 436.0,291.5 426.6,307.8 407.7,307.8" fill="#ea97a2" stroke="#f4b4bd"/>
<polygon points="398.2,324.1 407.6,307.8 426.5,307.8 435.9,324.1 426.5,340.5 407.6,340.5" fill="#ea97a2" stroke="#f4b4bd"/>
<polygon points="398.1,356.8 407.5,340.5 426.4,340.5 435.8,356.8 426.4,373.1 407.5,373.1" fill="#88b5dd" stroke="#a5c9e8"/>
<polygon points="398.0,389.4 407.4,373.1 426.3,373.1 435.7,389.4 426.3,405.8 407.4,405.8" fill="#88b5dd" stroke="#a5c9e8"/>
<polygon points="397.9,422.1 407.3,405.8 426.2,405.8 435.6,422.1 426.2,438.4 407.3,438.4" fill="#ea97a2" stroke="#f4b4bd"/>
<polygon points="397.8,454.8 407.2,438.4 426.1,438.4 435.5,454.8 426.1,471.1 407.2,471.1" fill="#ea97a2" stroke="#f4b4bd"/>
<polygon points="397.7,487.4 407.1,471.1 426.0,471.1 435.4,487.4 426.0,503.7 407.1,503.7" fill="#ea97a2" stroke="#f4b4bd"/>
<polygon points="397.6,520.0 407.0,503.7 425.9,503.7 435.3,520.0 425.9,536.4 407.0,536.4" fill="#ea97a2" stroke="#f4b4bd"/>
<polygon points="397.5,552.7 406.9,536.4 425.8,536.4 435.3,552.7 425.8,569.0 406.9,569.0" fill="#ea97a2" stroke="#f4b4bd"/>
<polygon points="397.4,585.4 406.8,569.0 425.7,569.0 435.2,585.4 425.7,601.7 406.8,601.7" fill="#ea97a2" stroke="#f4b4bd"/>
<polygon points="397.3,618.0 406.8,601.7 425.6,601.7 435.1,618.0 425.6,634.3 406.8,634.3" fill="#88b5dd" stroke="#a5c9e8"/>
<polygon points="397.2,650.6 406.7,634.3 425.5,634.3 435.0,650.6 425.5,667.0 406.7,667.0" fill="#ea97a2" stroke="#f4b4bd"/>
<polygon points="397.1,683.3 406.6,667.0 425.4,667.0 434.9,683.3 425.4,699.6 406.6,699.6" fill="#ea97a2" stroke="#f4b4bd"/>
<polygon points="397.0,715.9 406.5,699.6 425.3,699.6 434.8,715.9 425.3,732.3 406.5,732.3" fill="#ea97a2" stroke="#f4b4bd"/>
<polygon points="426.5,307.8 436.0,291.5 454.9,291.5 464.3,307.8 454.9,324.1 436.0,324.1" fill="#ea97a2" stroke="#f4b4bd"/>
<polygon points="426.4,340.4 435.9,324.1 454.8,324.1 464.2,340.4 454.8,356.8 435.9,356.8" fill="#88b5dd" stroke="#a5c9e8"/>
<polygon points="426.4,373.1 435.8,356.8 454.7,356.8 464.1,373.1 454.7,389.4 435.8,389.4" fill="#ea97a2" stroke="#f4b4bd"/>
<polygon points="426.3,405.8 435.7,389.4 454.6,389.4 464.0,405.8 454.6,422.1 435.7,422.1" fill="#ea97a2" stroke="#f4b4bd"/>
<polygon points="426.2,438.4 435.6,422.1 454.5,422.1 463.9,438.4 454.5,454.7 435.6,454.7" fill="#ea97a2" stroke="#f4b4bd"/>
<polygon points="426.1,471.1 435.5,454.7 454.4,454.7 463.8,471.1 454.4,487.4 435.5,487.4" fill="#ea97a2" stroke="#f4b4bd"/>
<polygon points="426.0,503.7 435.4,487.4 454.3,487.4 463.7,503.7 454.3,520.0 435.4,520.0" fill="#ea97a2" stroke="#f4b4bd"/>
<polygon points="425.9,536.3 435.3,520.0 454.2,520.0 463.6,536.3 454.2,552.7 435.3,552.7" fill="#ea97a2" stroke="#f4b4bd"/>
<polygon points="425.8,569.0 435.2,552.7 454.1,552.7 463.5,569.0 454.1,585.3 435.2,585.3" fill="#ea97a2" stroke="#f4b4bd"/>
<polygon points="425.7,601.6 435.1,585.3 454.0,585.3 463.4,601.6 454.0,618.0 435.1,618.0" fill="#ea97a2" stroke="#f4b4bd"/>
<polygon points="425.6,634.3 435.0,618.0 453.9,618.0 463.3,634.3 453.9,650.6 435.0,650.6" fill="#ea97a2" stroke="#f4b4bd"/>
<polygon points="425.5,667.0 434.9,650.6 453.8,650.6 463.2,667.0 453.8,683.3 434.9,683.3" fill="#ea97a2" stroke="#f4b4bd"/>
<polygon points="425.4,699.6 434.8,683.3 453.7,683.3 463.1,699.6 453.7,715.9 434.8,715.9" fill="#88b5dd" stroke="#a5c9e8"/>
<polygon points="454.5,422.1 463.9,405.8 482.8,405.8 492.2,422.1 482.8,438.4 463.9,438.4" fill="#ea97a2" stroke="#f4b4bd"/>
<polygon points="454.4,454.8 463.8,438.4 482.7,438.4 492.1,454.8 482.7,471.1 463.8,471.1" fill="#ea97a2" stroke="#f4b4bd"/>
<polygon points="454.3,487.4 463.7,471.1 482.6,471.1 492.0,487.4 482.6,503.7 463.7,503.7" fill="#ea97a2" stroke="#f4b4bd"/>
<polygon points="454.2,520.0 463.6,503.7 482.5,503.7 491.9,520.0 482.5,536.4 463.6,536.4" fill="#88b5dd" stroke="#a5c9e8"/>
<polygon points="454.1,552.7 463.5,536.4 482.4,536.4 491.9,552.7 482.4,569.0 463.5,569.0" fill="#ea97a2" stroke="#f4b4bd"/>
<polygon points="454.0,585.4 463.4,569.0 482.3,569.0 491.8,585.4 482.3,601.7 463.4,601.7" fill="#ea97a2" stroke="#f4b4bd"/>
<polygon points="453.9,618.0 463.4,601.7 482.2,601.7 491.7,618.0 482.2,634.3 463.4,634.3" fill="#ea97a2" stroke="#f4b4bd"/>
<polygon points="453.8,650.6 463.3,634.3 482.1,634.3 491.6,650.6 482.1,667.0 463.3,667.0" fill="#ea97a2" stroke="#f4b4bd"/>
<polygon points="453.7,683.3 463.2,667.0 482.0,667.0 491.5,683.3 482.0,699.6 463.2,699.6" fill="#ea97a2" stroke="#f4b4bd"/>
<polygon points="482.4,569.0 491.8,552.7 510.7,552.7 520.1,569.0 510.7,585.3 491.8,585.3" fill="#ea97a2" stroke="#f4b4bd"/>
<polygon points="482.3,601.6 491.7,585.3 510.6,585.3 520.0,601.6 510.6,618.0 491.7,618.0" fill="#ea97a2" stroke="#f4b4bd"/>
<polygon points="420.5,787.5 430.0,771.2 448.8,771.2 458.3,787.5 448.8,803.8 430.0,803.8" fill="#88b5dd" stroke="#a5c9e8"/>
<polygon points="448.7,771.2 458.2,754.9 477.0,754.9 486.5,771.2 477.0,787.5 458.2,787.5" fill="#88b5dd" stroke="#a5c9e8"/>
<polygon points="448.7,803.8 458.2,787.5 477.0,787.5 486.5,803.8 477.0,820.1 458.2,820.1" fill="#88b5dd" stroke="#a5c9e8"/>
</g>
<g stroke="#fff" stroke-width="3.2" stroke-linecap="round" fill="none">
<path d="M96.4 291.5 L87.0 307.8M86.9 307.8 L96.3 324.1M125.1 177.2 L115.6 193.5M115.5 193.5 L125.0 209.9M125.0 209.9 L115.5 226.2M115.4 226.2 L124.9 242.5M96.5 291.5 L115.3 291.5M96.4 324.1 L115.3 324.1M115.3 291.5 L124.7 307.8M115.2 324.1 L124.6 340.4M124.6 340.4 L115.2 356.8M95.6 585.3 L114.5 585.3M114.4 585.3 L123.8 601.6M95.4 650.6 L114.3 650.6M114.2 650.6 L123.6 667.0M123.6 667.0 L114.2 683.3M114.1 683.3 L123.5 699.6M123.5 699.6 L114.1 715.9M114.0 715.9 L123.4 732.2M124.9 242.5 L143.8 242.5M143.7 242.5 L153.1 258.9M153.1 258.9 L143.7 275.2M124.7 307.8 L143.6 307.8M143.6 275.2 L153.0 291.5M153.0 291.5 L143.6 307.8M124.5 373.1 L143.4 373.1M152.8 356.8 L143.4 373.1M124.1 503.7 L143.0 503.7M142.9 503.7 L152.3 520.0M123.8 601.7 L142.7 601.7M142.6 601.7 L152.1 618.0M123.7 667.0 L142.5 667.0M152.0 650.6 L142.5 667.0M123.5 732.3 L142.3 732.3M142.2 732.3 L151.7 748.6M181.6 209.9 L172.1 226.2M172.0 226.2 L181.5 242.5M181.5 242.5 L172.0 258.8M153.1 291.5 L171.9 291.5M171.9 258.8 L181.4 275.1M181.4 275.1 L171.9 291.5M152.9 356.8 L171.8 356.8M171.7 356.8 L181.1 373.1M181.1 373.1 L171.7 389.4M171.6 389.4 L181.0 405.8M152.4 520.0 L171.3 520.0M171.2 520.0 L180.6 536.3M152.1 618.0 L171.0 618.0M180.4 601.6 L171.0 618.0M152.0 650.6 L170.9 650.6M170.8 650.6 L180.2 667.0M151.7 748.6 L170.6 748.6M180.0 732.2 L170.6 748.6M181.6 209.9 L200.5 209.9M209.9 193.6 L200.5 209.9M181.0 405.8 L199.9 405.8M209.3 389.4 L199.9 405.8M180.6 536.4 L199.5 536.4M208.9 520.0 L199.5 536.4M199.4 536.4 L208.9 552.7M208.9 552.7 L199.4 569.0M180.4 601.7 L199.3 601.7M199.3 569.0 L208.8 585.4M208.8 585.4 L199.3 601.7M199.2 601.7 L208.7 618.0M180.3 667.0 L199.1 667.0M199.0 667.0 L208.5 683.3M180.1 732.3 L198.9 732.3M208.4 715.9 L198.9 732.3M210.0 193.5 L228.8 193.5M228.7 193.5 L238.2 209.9M209.4 389.4 L228.3 389.4M228.2 389.4 L237.6 405.8M209.0 520.0 L227.9 520.0M237.3 503.7 L227.9 520.0M227.8 520.0 L237.2 536.3M237.2 536.3 L227.8 552.7M227.7 552.7 L237.1 569.0M208.7 618.0 L227.6 618.0M227.5 618.0 L236.9 634.3M208.5 683.3 L227.4 683.3M236.8 667.0 L227.4 683.3M208.4 715.9 L227.3 715.9M227.3 683.3 L236.7 699.6M236.7 699.6 L227.3 715.9M227.2 715.9 L236.6 732.2M266.6 160.9 L257.2 177.2M238.2 209.9 L257.1 209.9M257.1 177.2 L266.5 193.6M266.5 193.6 L257.1 209.9M237.6 405.8 L256.5 405.8M265.9 389.4 L256.5 405.8M237.3 503.7 L256.2 503.7M265.6 487.4 L256.2 503.7M256.1 503.7 L265.5 520.0M265.5 520.0 L256.1 536.4M237.1 569.0 L256.0 569.0M256.0 536.4 L265.5 552.7M265.5 552.7 L256.0 569.0M237.0 634.3 L255.8 634.3M265.3 618.0 L255.8 634.3M236.9 667.0 L255.7 667.0M255.7 634.3 L265.2 650.6M265.2 650.6 L255.7 667.0M266.7 160.9 L285.5 160.9M295.0 144.6 L285.5 160.9M266.0 389.4 L284.9 389.4M294.3 373.1 L284.9 389.4M265.7 487.4 L284.6 487.4M294.0 471.1 L284.6 487.4M265.5 552.7 L284.4 552.7M284.3 552.7 L293.7 569.0M293.7 569.0 L284.3 585.3M265.3 618.0 L284.2 618.0M284.2 585.3 L293.6 601.6M293.6 601.6 L284.2 618.0M313.8 144.6 L323.2 160.9M323.2 160.9 L313.8 177.2M313.7 177.2 L323.1 193.6M294.3 373.1 L313.2 373.1M313.1 373.1 L322.5 389.4M294.0 471.1 L312.9 471.1M312.8 471.1 L322.2 487.4M293.7 569.0 L312.6 569.0M322.1 552.7 L312.6 569.0M293.6 601.7 L312.5 601.7M312.4 601.7 L321.9 618.0M351.6 144.6 L342.1 160.9M323.2 193.5 L342.0 193.5M342.0 160.9 L351.5 177.2M341.9 193.5 L351.4 209.9M351.4 209.9 L341.9 226.2M341.8 226.2 L351.3 242.5M351.3 242.5 L341.8 258.8M341.7 258.8 L351.2 275.1M322.6 389.4 L341.5 389.4M350.9 373.1 L341.5 389.4M322.3 487.4 L341.2 487.4M350.6 471.1 L341.2 487.4M350.5 503.7 L341.1 520.0M322.1 552.7 L341.0 552.7M341.0 520.0 L350.4 536.3M350.4 536.3 L341.0 552.7M321.9 618.0 L340.8 618.0M350.2 601.6 L340.8 618.0M349.9 699.6 L340.5 715.9M351.5 177.2 L370.4 177.2M370.3 177.2 L379.7 193.6M379.7 193.6 L370.3 209.9M370.2 209.9 L379.6 226.2M379.6 226.2 L370.2 242.5M351.2 275.2 L370.1 275.2M370.1 242.5 L379.5 258.9M379.5 258.9 L370.1 275.2M350.9 373.1 L369.8 373.1M379.2 356.8 L369.8 373.1M379.0 422.1 L369.6 438.4M350.6 471.1 L369.5 471.1M369.5 438.4 L378.9 454.8M378.9 454.8 L369.5 471.1M350.5 503.7 L369.4 503.7M369.4 471.1 L378.8 487.4M378.8 487.4 L369.4 503.7M369.3 503.7 L378.7 520.0M350.2 601.7 L369.1 601.7M369.0 601.7 L378.5 618.0M378.5 618.0 L369.0 634.3M368.9 634.3 L378.4 650.6M378.4 650.6 L368.9 667.0M350.0 699.6 L368.8 699.6M368.8 667.0 L378.3 683.3M378.3 683.3 L368.8 699.6M379.6 258.8 L398.4 258.8M398.3 258.8 L407.8 275.1M407.8 275.1 L398.3 291.5M398.3 291.5 L407.7 307.8M407.7 307.8 L398.3 324.1M379.3 356.8 L398.2 356.8M398.2 324.1 L407.6 340.4M407.6 340.4 L398.2 356.8M379.1 422.1 L398.0 422.1M407.4 405.8 L398.0 422.1M378.8 520.0 L397.7 520.0M407.1 503.7 L397.7 520.0M378.5 618.0 L397.4 618.0M406.8 601.6 L397.4 618.0M407.7 307.8 L426.6 307.8M426.5 307.8 L435.9 324.1M407.4 405.8 L426.3 405.8M435.7 389.4 L426.3 405.8M407.1 503.7 L426.0 503.7M425.9 503.7 L435.3 520.0M435.3 520.0 L425.9 536.4M425.8 536.4 L435.3 552.7M435.3 552.7 L425.8 569.0M406.8 601.7 L425.7 601.7M425.7 569.0 L435.2 585.4M435.2 585.4 L425.7 601.7M436.0 324.1 L454.9 324.1M435.8 389.4 L454.7 389.4M435.4 520.0 L454.3 520.0M463.7 503.7 L454.3 520.0M435.2 585.3 L454.1 585.3M454.0 585.3 L463.4 601.6M463.7 503.7 L482.6 503.7M463.4 601.7 L482.3 601.7M491.8 585.4 L482.3 601.7M491.8 585.3 L510.7 585.3" stroke="#1d3a5e" stroke-opacity="0.38" stroke-width="3.4" transform="translate(0.9 0.9)"/>
<path d="M96.4 291.5 L87.0 307.8M86.9 307.8 L96.3 324.1M125.1 177.2 L115.6 193.5M115.5 193.5 L125.0 209.9M125.0 209.9 L115.5 226.2M115.4 226.2 L124.9 242.5M96.5 291.5 L115.3 291.5M96.4 324.1 L115.3 324.1M115.3 291.5 L124.7 307.8M115.2 324.1 L124.6 340.4M124.6 340.4 L115.2 356.8M95.6 585.3 L114.5 585.3M114.4 585.3 L123.8 601.6M95.4 650.6 L114.3 650.6M114.2 650.6 L123.6 667.0M123.6 667.0 L114.2 683.3M114.1 683.3 L123.5 699.6M123.5 699.6 L114.1 715.9M114.0 715.9 L123.4 732.2M124.9 242.5 L143.8 242.5M143.7 242.5 L153.1 258.9M153.1 258.9 L143.7 275.2M124.7 307.8 L143.6 307.8M143.6 275.2 L153.0 291.5M153.0 291.5 L143.6 307.8M124.5 373.1 L143.4 373.1M152.8 356.8 L143.4 373.1M124.1 503.7 L143.0 503.7M142.9 503.7 L152.3 520.0M123.8 601.7 L142.7 601.7M142.6 601.7 L152.1 618.0M123.7 667.0 L142.5 667.0M152.0 650.6 L142.5 667.0M123.5 732.3 L142.3 732.3M142.2 732.3 L151.7 748.6M181.6 209.9 L172.1 226.2M172.0 226.2 L181.5 242.5M181.5 242.5 L172.0 258.8M153.1 291.5 L171.9 291.5M171.9 258.8 L181.4 275.1M181.4 275.1 L171.9 291.5M152.9 356.8 L171.8 356.8M171.7 356.8 L181.1 373.1M181.1 373.1 L171.7 389.4M171.6 389.4 L181.0 405.8M152.4 520.0 L171.3 520.0M171.2 520.0 L180.6 536.3M152.1 618.0 L171.0 618.0M180.4 601.6 L171.0 618.0M152.0 650.6 L170.9 650.6M170.8 650.6 L180.2 667.0M151.7 748.6 L170.6 748.6M180.0 732.2 L170.6 748.6M181.6 209.9 L200.5 209.9M209.9 193.6 L200.5 209.9M181.0 405.8 L199.9 405.8M209.3 389.4 L199.9 405.8M180.6 536.4 L199.5 536.4M208.9 520.0 L199.5 536.4M199.4 536.4 L208.9 552.7M208.9 552.7 L199.4 569.0M180.4 601.7 L199.3 601.7M199.3 569.0 L208.8 585.4M208.8 585.4 L199.3 601.7M199.2 601.7 L208.7 618.0M180.3 667.0 L199.1 667.0M199.0 667.0 L208.5 683.3M180.1 732.3 L198.9 732.3M208.4 715.9 L198.9 732.3M210.0 193.5 L228.8 193.5M228.7 193.5 L238.2 209.9M209.4 389.4 L228.3 389.4M228.2 389.4 L237.6 405.8M209.0 520.0 L227.9 520.0M237.3 503.7 L227.9 520.0M227.8 520.0 L237.2 536.3M237.2 536.3 L227.8 552.7M227.7 552.7 L237.1 569.0M208.7 618.0 L227.6 618.0M227.5 618.0 L236.9 634.3M208.5 683.3 L227.4 683.3M236.8 667.0 L227.4 683.3M208.4 715.9 L227.3 715.9M227.3 683.3 L236.7 699.6M236.7 699.6 L227.3 715.9M227.2 715.9 L236.6 732.2M266.6 160.9 L257.2 177.2M238.2 209.9 L257.1 209.9M257.1 177.2 L266.5 193.6M266.5 193.6 L257.1 209.9M237.6 405.8 L256.5 405.8M265.9 389.4 L256.5 405.8M237.3 503.7 L256.2 503.7M265.6 487.4 L256.2 503.7M256.1 503.7 L265.5 520.0M265.5 520.0 L256.1 536.4M237.1 569.0 L256.0 569.0M256.0 536.4 L265.5 552.7M265.5 552.7 L256.0 569.0M237.0 634.3 L255.8 634.3M265.3 618.0 L255.8 634.3M236.9 667.0 L255.7 667.0M255.7 634.3 L265.2 650.6M265.2 650.6 L255.7 667.0M266.7 160.9 L285.5 160.9M295.0 144.6 L285.5 160.9M266.0 389.4 L284.9 389.4M294.3 373.1 L284.9 389.4M265.7 487.4 L284.6 487.4M294.0 471.1 L284.6 487.4M265.5 552.7 L284.4 552.7M284.3 552.7 L293.7 569.0M293.7 569.0 L284.3 585.3M265.3 618.0 L284.2 618.0M284.2 585.3 L293.6 601.6M293.6 601.6 L284.2 618.0M313.8 144.6 L323.2 160.9M323.2 160.9 L313.8 177.2M313.7 177.2 L323.1 193.6M294.3 373.1 L313.2 373.1M313.1 373.1 L322.5 389.4M294.0 471.1 L312.9 471.1M312.8 471.1 L322.2 487.4M293.7 569.0 L312.6 569.0M322.1 552.7 L312.6 569.0M293.6 601.7 L312.5 601.7M312.4 601.7 L321.9 618.0M351.6 144.6 L342.1 160.9M323.2 193.5 L342.0 193.5M342.0 160.9 L351.5 177.2M341.9 193.5 L351.4 209.9M351.4 209.9 L341.9 226.2M341.8 226.2 L351.3 242.5M351.3 242.5 L341.8 258.8M341.7 258.8 L351.2 275.1M322.6 389.4 L341.5 389.4M350.9 373.1 L341.5 389.4M322.3 487.4 L341.2 487.4M350.6 471.1 L341.2 487.4M350.5 503.7 L341.1 520.0M322.1 552.7 L341.0 552.7M341.0 520.0 L350.4 536.3M350.4 536.3 L341.0 552.7M321.9 618.0 L340.8 618.0M350.2 601.6 L340.8 618.0M349.9 699.6 L340.5 715.9M351.5 177.2 L370.4 177.2M370.3 177.2 L379.7 193.6M379.7 193.6 L370.3 209.9M370.2 209.9 L379.6 226.2M379.6 226.2 L370.2 242.5M351.2 275.2 L370.1 275.2M370.1 242.5 L379.5 258.9M379.5 258.9 L370.1 275.2M350.9 373.1 L369.8 373.1M379.2 356.8 L369.8 373.1M379.0 422.1 L369.6 438.4M350.6 471.1 L369.5 471.1M369.5 438.4 L378.9 454.8M378.9 454.8 L369.5 471.1M350.5 503.7 L369.4 503.7M369.4 471.1 L378.8 487.4M378.8 487.4 L369.4 503.7M369.3 503.7 L378.7 520.0M350.2 601.7 L369.1 601.7M369.0 601.7 L378.5 618.0M378.5 618.0 L369.0 634.3M368.9 634.3 L378.4 650.6M378.4 650.6 L368.9 667.0M350.0 699.6 L368.8 699.6M368.8 667.0 L378.3 683.3M378.3 683.3 L368.8 699.6M379.6 258.8 L398.4 258.8M398.3 258.8 L407.8 275.1M407.8 275.1 L398.3 291.5M398.3 291.5 L407.7 307.8M407.7 307.8 L398.3 324.1M379.3 356.8 L398.2 356.8M398.2 324.1 L407.6 340.4M407.6 340.4 L398.2 356.8M379.1 422.1 L398.0 422.1M407.4 405.8 L398.0 422.1M378.8 520.0 L397.7 520.0M407.1 503.7 L397.7 520.0M378.5 618.0 L397.4 618.0M406.8 601.6 L397.4 618.0M407.7 307.8 L426.6 307.8M426.5 307.8 L435.9 324.1M407.4 405.8 L426.3 405.8M435.7 389.4 L426.3 405.8M407.1 503.7 L426.0 503.7M425.9 503.7 L435.3 520.0M435.3 520.0 L425.9 536.4M425.8 536.4 L435.3 552.7M435.3 552.7 L425.8 569.0M406.8 601.7 L425.7 601.7M425.7 569.0 L435.2 585.4M435.2 585.4 L425.7 601.7M436.0 324.1 L454.9 324.1M435.8 389.4 L454.7 389.4M435.4 520.0 L454.3 520.0M463.7 503.7 L454.3 520.0M435.2 585.3 L454.1 585.3M454.0 585.3 L463.4 601.6M463.7 503.7 L482.6 503.7M463.4 601.7 L482.3 601.7M491.8 585.4 L482.3 601.7M491.8 585.3 L510.7 585.3"/>
</g>
<g>
<text transform="translate(40.5 272.5) scale(0.8 1)" font-size="8.3" font-weight="500" fill="#3a3a3a" text-anchor="middle">중·강화·옹진</text>
<text transform="translate(49.3 283.9) scale(0.8 1)" font-size="10.6" font-weight="900" fill="#0a0a0a" text-anchor="middle">배준영</text>
<text transform="translate(77.9 190.9) scale(0.8 1)" font-size="8.3" font-weight="500" fill="#213d5c" text-anchor="middle">서을</text>
<text transform="translate(77.9 202.3) scale(0.8 1)" font-size="10.6" font-weight="900" fill="#0a0a0a" text-anchor="middle">신동근</text>
<text transform="translate(70.3 223.6) scale(0.8 1)" font-size="8.3" font-weight="500" fill="#3a3a3a" text-anchor="middle">동·미추홀갑</text>
<text transform="translate(77.8 234.9) scale(0.8 1)" font-size="10.6" font-weight="900" fill="#0a0a0a" text-anchor="middle">허종식</text>
<text transform="translate(77.7 256.2) scale(0.8 1)" font-size="8.3" font-weight="500" fill="#3f3f3f" text-anchor="middle">동·미추홀을</text>
<text transform="translate(77.7 267.6) scale(0.8 1)" font-size="10.6" font-weight="900" fill="#0a0a0a" text-anchor="middle">윤상현</text>
<text transform="translate(77.6 288.9) scale(0.8 1)" font-size="8.3" font-weight="500" fill="#213d5c" text-anchor="middle">연수갑</text>
<text transform="translate(77.6 300.2) scale(0.8 1)" font-size="10.6" font-weight="900" fill="#0a0a0a" text-anchor="middle">박찬대</text>
<text transform="translate(77.5 321.5) scale(0.8 1)" font-size="8.3" font-weight="500" fill="#213d5c" text-anchor="middle">연수을</text>
<text transform="translate(77.5 332.9) scale(0.8 1)" font-size="10.6" font-weight="900" fill="#0a0a0a" text-anchor="middle">정일영</text>
<text transform="translate(76.8 550.1) scale(0.8 1)" font-size="8.3" font-weight="500" fill="#6e2532" text-anchor="middle">서산·태안</text>
<text transform="translate(76.8 561.4) scale(0.8 1)" font-size="10.6" font-weight="900" fill="#0a0a0a" text-anchor="middle">성일종</text>
<text transform="translate(64.3 713.3) scale(0.8 1)" font-size="8.3" font-weight="500" fill="#3a3a3a" text-anchor="middle">영암·무안·신안</text>
<text transform="translate(76.3 724.7) scale(0.8 1)" font-size="10.6" font-weight="900" fill="#0a0a0a" text-anchor="middle">서삼석</text>
<text transform="translate(76.2 746.0) scale(0.8 1)" font-size="8.3" font-weight="500" fill="#213d5c" text-anchor="middle">목포</text>
<text transform="translate(76.2 757.3) scale(0.8 1)" font-size="10.6" font-weight="900" fill="#0a0a0a" text-anchor="middle">김원이</text>
<text transform="translate(106.2 174.6) scale(0.8 1)" font-size="8.3" font-weight="500" fill="#213d5c" text-anchor="middle">계양을</text>
<text transform="translate(106.2 185.9) scale(0.8 1)" font-size="10.6" font-weight="900" fill="#0a0a0a" text-anchor="middle">송영길</text>
<text transform="translate(106.1 207.2) scale(0.8 1)" font-size="8.3" font-weight="500" fill="#213d5c" text-anchor="middle">계양갑</text>
<text transform="translate(106.1 218.6) scale(0.8 1)" font-size="10.6" font-weight="900" fill="#0a0a0a" text-anchor="middle">유동수</text>
<text transform="translate(106.0 239.9) scale(0.8 1)" font-size="8.3" font-weight="500" fill="#213d5c" text-anchor="middle">서갑</text>
<text transform="translate(106.0 251.2) scale(0.8 1)" font-size="10.6" font-weight="900" fill="#0a0a0a" text-anchor="middle">김교흥</text>
<text transform="translate(105.9 272.5) scale(0.8 1)" font-size="8.3" font-weight="500" fill="#213d5c" text-anchor="middle">남동을</text>
<text transform="translate(105.9 283.9) scale(0.8 1)" font-size="10.6" font-weight="900" fill="#0a0a0a" text-anchor="middle">윤관석</text>
<text transform="translate(105.8 305.2) scale(0.8 1)" font-size="8.3" font-weight="500" fill="#213d5c" text-anchor="middle">강서을</text>
<text transform="translate(105.8 316.5) scale(0.8 1)" font-size="10.6" font-weight="900" fill="#0a0a0a" text-anchor="middle">진성준</text>
<text transform="translate(105.7 337.8) scale(0.8 1)" font-size="8.3" font-weight="500" fill="#213d5c" text-anchor="middle">남동갑</text>
<text transform="translate(105.7 349.2) scale(0.8 1)" font-size="10.6" font-weight="900" fill="#0a0a0a" text-anchor="middle">맹성규</text>
<text transform="translate(105.5 403.1) scale(0.8 1)" font-size="8.3" font-weight="500" fill="#213d5c" text-anchor="middle">부천병</text>
<text transform="translate(105.5 414.5) scale(0.8 1)" font-size="10.6" font-weight="900" fill="#0a0a0a" text-anchor="middle">김상희</text>
<text transform="translate(105.4 435.8) scale(0.8 1)" font-size="8.3" font-weight="500" fill="#213d5c" text-anchor="middle">시흥을</text>
<text transform="translate(105.4 447.1) scale(0.8 1)" font-size="10.6" font-weight="900" fill="#0a0a0a" text-anchor="middle">조정식</text>
<text transform="translate(105.1 533.7) scale(0.8 1)" font-size="8.3" font-weight="500" fill="#213d5c" text-anchor="middle">당진</text>
<text transform="translate(105.1 545.1) scale(0.8 1)" font-size="10.6" font-weight="900" fill="#0a0a0a" text-anchor="middle">어기구</text>
<text transform="translate(105.0 566.4) scale(0.8 1)" font-size="8.3" font-weight="500" fill="#6e2532" text-anchor="middle">홍성·예산</text>
<text transform="translate(105.0 577.7) scale(0.8 1)" font-size="10.6" font-weight="900" fill="#0a0a0a" text-anchor="middle">홍문표</text>
<text transform="translate(104.9 599.0) scale(0.8 1)" font-size="8.3" font-weight="500" fill="#213d5c" text-anchor="middle">군산</text>
<text transform="translate(104.9 610.4) scale(0.8 1)" font-size="10.6" font-weight="900" fill="#0a0a0a" text-anchor="middle">신영대</text>
<text transform="translate(104.8 631.7) scale(0.8 1)" font-size="8.3" font-weight="500" fill="#213d5c" text-anchor="middle">김제·부안</text>
<text transform="translate(104.8 643.0) scale(0.8 1)" font-size="10.6" font-weight="900" fill="#0a0a0a" text-anchor="middle">이원택</text>
<text transform="translate(104.7 661.1) scale(0.8 1)" font-size="8.3" font-weight="500" fill="#213d5c" text-anchor="middle">담양·함평</text>
<text transform="translate(104.7 669.9) scale(0.8 1)" font-size="8.3" font-weight="500" fill="#213d5c" text-anchor="middle">영광·장성</text>
<text transform="translate(104.7 680.8) scale(0.8 1)" font-size="10.6" font-weight="900" fill="#0a0a0a" text-anchor="middle">이개호</text>
<text transform="translate(104.6 693.8) scale(0.8 1)" font-size="8.3" font-weight="500" fill="#213d5c" text-anchor="middle">순천·광양</text>
<text transform="translate(104.6 702.6) scale(0.8 1)" font-size="8.3" font-weight="500" fill="#213d5c" text-anchor="middle">곡성·구례을</text>
<text transform="translate(104.6 711.9) scale(0.8 1)" font-size="10.6" font-weight="900" fill="#0a0a0a" text-anchor="middle">서동용</text>
<text transform="translate(104.5 729.6) scale(0.8 1)" font-size="8.3" font-weight="500" fill="#213d5c" text-anchor="middle">나주·화순</text>
<text transform="translate(104.5 741.0) scale(0.8 1)" font-size="10.6" font-weight="900" fill="#0a0a0a" text-anchor="middle">신정훈</text>
<text transform="translate(104.4 761.4) scale(0.8 1)" font-size="8.3" font-weight="500" fill="#213d5c" text-anchor="middle">해남·완도</text>
<text transform="translate(104.4 770.9) scale(0.8 1)" font-size="8.3" font-weight="500" fill="#213d5c" text-anchor="middle">·진도</text>
<text transform="translate(104.4 780.5) scale(0.8 1)" font-size="10.6" font-weight="900" fill="#0a0a0a" text-anchor="middle">윤재갑</text>
<text transform="translate(134.5 190.9) scale(0.8 1)" font-size="8.3" font-weight="500" fill="#213d5c" text-anchor="middle">고양정</text>
<text transform="translate(134.5 202.3) scale(0.8 1)" font-size="10.6" font-weight="900" fill="#0a0a0a" text-anchor="middle">이용우</text>
<text transform="translate(134.4 223.6) scale(0.8 1)" font-size="8.3" font-weight="500" fill="#213d5c" text-anchor="middle">김포을</text>
<text transform="translate(134.4 234.9) scale(0.8 1)" font-size="10.6" font-weight="900" fill="#0a0a0a" text-anchor="middle">박상혁</text>
<text transform="translate(134.3 256.2) scale(0.8 1)" font-size="8.3" font-weight="500" fill="#213d5c" text-anchor="middle">부평을</text>
<text transform="translate(134.3 267.6) scale(0.8 1)" font-size="10.6" font-weight="900" fill="#0a0a0a" text-anchor="middle">홍영표</text>
<text transform="translate(134.2 288.9) scale(0.8 1)" font-size="8.3" font-weight="500" fill="#213d5c" text-anchor="middle">부평갑</text>
<text transform="translate(134.2 300.2) scale(0.8 1)" font-size="10.6" font-weight="900" fill="#0a0a0a" text-anchor="middle">이성만</text>
<text transform="translate(134.1 321.5) scale(0.8 1)" font-size="8.3" font-weight="500" fill="#213d5c" text-anchor="middle">강서갑</text>
<text transform="translate(134.1 332.9) scale(0.8 1)" font-size="10.6" font-weight="900" fill="#0a0a0a" text-anchor="middle">강선우</text>
<text transform="translate(134.0 354.2) scale(0.8 1)" font-size="8.3" font-weight="500" fill="#213d5c" text-anchor="middle">구로갑</text>
<text transform="translate(134.0 365.5) scale(0.8 1)" font-size="10.6" font-weight="900" fill="#0a0a0a" text-anchor="middle">이인영</text>
<text transform="translate(133.9 386.8) scale(0.8 1)" font-size="8.3" font-weight="500" fill="#213d5c" text-anchor="middle">부천을</text>
<text transform="translate(133.9 398.2) scale(0.8 1)" font-size="10.6" font-weight="900" fill="#0a0a0a" text-anchor="middle">설훈</text>
<text transform="translate(133.8 419.5) scale(0.8 1)" font-size="8.3" font-weight="500" fill="#213d5c" text-anchor="middle">시흥갑</text>
<text transform="translate(133.8 430.8) scale(0.8 1)" font-size="10.6" font-weight="900" fill="#0a0a0a" text-anchor="middle">문정복</text>
<text transform="translate(133.7 452.1) scale(0.8 1)" font-size="8.3" font-weight="500" fill="#213d5c" text-anchor="middle">안산 단원갑</text>
<text transform="translate(133.7 463.5) scale(0.8 1)" font-size="10.6" font-weight="900" fill="#0a0a0a" text-anchor="middle">고영인</text>
<text transform="translate(133.6 484.8) scale(0.8 1)" font-size="8.3" font-weight="500" fill="#213d5c" text-anchor="middle">안산 단원을</text>
<text transform="translate(133.6 496.1) scale(0.8 1)" font-size="10.6" font-weight="900" fill="#0a0a0a" text-anchor="middle">김남국</text>
<text transform="translate(133.5 517.4) scale(0.8 1)" font-size="8.3" font-weight="500" fill="#213d5c" text-anchor="middle">아산을</text>
<text transform="translate(133.5 528.8) scale(0.8 1)" font-size="10.6" font-weight="900" fill="#0a0a0a" text-anchor="middle">강훈식</text>
<text transform="translate(133.4 550.1) scale(0.8 1)" font-size="8.3" font-weight="500" fill="#6e2532" text-anchor="middle">아산갑</text>
<text transform="translate(133.4 561.4) scale(0.8 1)" font-size="10.6" font-weight="900" fill="#0a0a0a" text-anchor="middle">이명수</text>
<text transform="translate(133.3 582.7) scale(0.8 1)" font-size="8.3" font-weight="500" fill="#6e2532" text-anchor="middle">보령·서천</text>
<text transform="translate(133.3 594.1) scale(0.8 1)" font-size="10.6" font-weight="900" fill="#0a0a0a" text-anchor="middle">김태흠</text>
<text transform="translate(133.2 615.4) scale(0.8 1)" font-size="8.3" font-weight="500" fill="#213d5c" text-anchor="middle">익산갑</text>
<text transform="translate(133.2 626.7) scale(0.8 1)" font-size="10.6" font-weight="900" fill="#0a0a0a" text-anchor="middle">김수흥</text>
<text transform="translate(133.1 648.0) scale(0.8 1)" font-size="8.3" font-weight="500" fill="#213d5c" text-anchor="middle">정읍·고창</text>
<text transform="translate(133.1 659.4) scale(0.8 1)" font-size="10.6" font-weight="900" fill="#0a0a0a" text-anchor="middle">윤준병</text>
<text transform="translate(133.0 680.7) scale(0.8 1)" font-size="8.3" font-weight="500" fill="#213d5c" text-anchor="middle">광산을</text>
<text transform="translate(133.0 692.0) scale(0.8 1)" font-size="10.6" font-weight="900" fill="#0a0a0a" text-anchor="middle">민형배</text>
<text transform="translate(132.9 713.3) scale(0.8 1)" font-size="8.3" font-weight="500" fill="#213d5c" text-anchor="middle">광산갑</text>
<text transform="translate(132.9 724.7) scale(0.8 1)" font-size="10.6" font-weight="900" fill="#0a0a0a" text-anchor="middle">이용빈</text>
<text transform="translate(132.8 746.6) scale(0.8 1)" font-size="8.3" font-weight="500" fill="#213d5c" text-anchor="middle">고흥·보성</text>
<text transform="translate(132.8 756.6) scale(0.8 1)" font-size="8.3" font-weight="500" fill="#213d5c" text-anchor="middle">장흥·강진</text>
<text transform="translate(132.8 767.2) scale(0.8 1)" font-size="10.6" font-weight="900" fill="#0a0a0a" text-anchor="middle">김승남</text>
<text transform="translate(162.8 174.6) scale(0.8 1)" font-size="8.3" font-weight="500" fill="#213d5c" text-anchor="middle">고양병</text>
<text transform="translate(162.8 185.9) scale(0.8 1)" font-size="10.6" font-weight="900" fill="#0a0a0a" text-anchor="middle">홍정민</text>
<text transform="translate(162.7 207.2) scale(0.8 1)" font-size="8.3" font-weight="500" fill="#5e440a" text-anchor="middle">고양갑</text>
<text transform="translate(162.7 218.6) scale(0.8 1)" font-size="10.6" font-weight="900" fill="#0a0a0a" text-anchor="middle">심상정</text>
<text transform="translate(162.6 239.9) scale(0.8 1)" font-size="8.3" font-weight="500" fill="#213d5c" text-anchor="middle">고양을</text>
<text transform="translate(162.6 251.2) scale(0.8 1)" font-size="10.6" font-weight="900" fill="#0a0a0a" text-anchor="middle">한준호</text>
<text transform="translate(162.5 272.5) scale(0.8 1)" font-size="8.3" font-weight="500" fill="#213d5c" text-anchor="middle">김포갑</text>
<text transform="translate(162.5 283.9) scale(0.8 1)" font-size="10.6" font-weight="900" fill="#0a0a0a" text-anchor="middle">김주영</text>
<text transform="translate(162.4 305.2) scale(0.8 1)" font-size="8.3" font-weight="500" fill="#213d5c" text-anchor="middle">강서병</text>
<text transform="translate(162.4 316.5) scale(0.8 1)" font-size="10.6" font-weight="900" fill="#0a0a0a" text-anchor="middle">한정애</text>
<text transform="translate(162.3 337.8) scale(0.8 1)" font-size="8.3" font-weight="500" fill="#213d5c" text-anchor="middle">양천을</text>
<text transform="translate(162.3 349.2) scale(0.8 1)" font-size="10.6" font-weight="900" fill="#0a0a0a" text-anchor="middle">이용선</text>
<text transform="translate(162.2 370.5) scale(0.8 1)" font-size="8.3" font-weight="500" fill="#213d5c" text-anchor="middle">부천정</text>
<text transform="translate(162.2 381.8) scale(0.8 1)" font-size="10.6" font-weight="900" fill="#0a0a0a" text-anchor="middle">서영석</text>
<text transform="translate(162.1 403.1) scale(0.8 1)" font-size="8.3" font-weight="500" fill="#213d5c" text-anchor="middle">부천갑</text>
<text transform="translate(162.1 414.5) scale(0.8 1)" font-size="10.6" font-weight="900" fill="#0a0a0a" text-anchor="middle">김경협</text>
<text transform="translate(162.0 435.8) scale(0.8 1)" font-size="8.3" font-weight="500" fill="#213d5c" text-anchor="middle">광명을</text>
<text transform="translate(162.0 447.1) scale(0.8 1)" font-size="10.6" font-weight="900" fill="#0a0a0a" text-anchor="middle">양기대</text>
<text transform="translate(161.9 468.4) scale(0.8 1)" font-size="8.3" font-weight="500" fill="#213d5c" text-anchor="middle">안산 상록을</text>
<text transform="translate(161.9 479.8) scale(0.8 1)" font-size="10.6" font-weight="900" fill="#0a0a0a" text-anchor="middle">김철민</text>
<text transform="translate(161.8 501.1) scale(0.8 1)" font-size="8.3" font-weight="500" fill="#213d5c" text-anchor="middle">안산 상록갑</text>
<text transform="translate(161.8 512.4) scale(0.8 1)" font-size="10.6" font-weight="900" fill="#0a0a0a" text-anchor="middle">전해철</text>
<text transform="translate(161.7 533.7) scale(0.8 1)" font-size="8.3" font-weight="500" fill="#213d5c" text-anchor="middle">천안을</text>
<text transform="translate(161.7 545.1) scale(0.8 1)" font-size="10.6" font-weight="900" fill="#0a0a0a" text-anchor="middle">박완주</text>
<text transform="translate(161.6 566.4) scale(0.8 1)" font-size="8.3" font-weight="500" fill="#213d5c" text-anchor="middle">천안병</text>
<text transform="translate(161.6 577.7) scale(0.8 1)" font-size="10.6" font-weight="900" fill="#0a0a0a" text-anchor="middle">이정문</text>
<text transform="translate(161.5 593.3) scale(0.8 1)" font-size="8.3" font-weight="500" fill="#6e2532" text-anchor="middle">공주·</text>
<text transform="translate(161.5 602.1) scale(0.8 1)" font-size="8.3" font-weight="500" fill="#6e2532" text-anchor="middle">부여·청양</text>
<text transform="translate(161.5 613.5) scale(0.8 1)" font-size="10.6" font-weight="900" fill="#0a0a0a" text-anchor="middle">정진석</text>
<text transform="translate(161.4 631.7) scale(0.8 1)" font-size="8.3" font-weight="500" fill="#213d5c" text-anchor="middle">익산을</text>
<text transform="translate(161.4 643.0) scale(0.8 1)" font-size="10.6" font-weight="900" fill="#0a0a0a" text-anchor="middle">한병도</text>
<text transform="translate(161.3 661.9) scale(0.8 1)" font-size="8.3" font-weight="500" fill="#213d5c" text-anchor="middle">북을</text>
<text transform="translate(161.3 672.8) scale(0.8 1)" font-size="10.6" font-weight="900" fill="#0a0a0a" text-anchor="middle">이형석</text>
<text transform="translate(161.2 704.4) scale(0.8 1)" font-size="8.3" font-weight="500" fill="#213d5c" text-anchor="middle">서갑</text>
<text transform="translate(161.2 716.4) scale(0.8 1)" font-size="10.6" font-weight="900" fill="#0a0a0a" text-anchor="middle">송갑석</text>
<text transform="translate(161.1 729.6) scale(0.8 1)" font-size="8.3" font-weight="500" fill="#213d5c" text-anchor="middle">동·남갑</text>
<text transform="translate(161.1 741.0) scale(0.8 1)" font-size="10.6" font-weight="900" fill="#0a0a0a" text-anchor="middle">윤영덕</text>
<text transform="translate(161.0 762.3) scale(0.8 1)" font-size="8.3" font-weight="500" fill="#213d5c" text-anchor="middle">여수을</text>
<text transform="translate(161.0 773.6) scale(0.8 1)" font-size="10.6" font-weight="900" fill="#0a0a0a" text-anchor="middle">김회재</text>
<text transform="translate(191.2 158.3) scale(0.8 1)" font-size="8.3" font-weight="500" fill="#213d5c" text-anchor="middle">파주을</text>
<text transform="translate(191.2 169.6) scale(0.8 1)" font-size="10.6" font-weight="900" fill="#0a0a0a" text-anchor="middle">박정</text>
<text transform="translate(191.1 190.9) scale(0.8 1)" font-size="8.3" font-weight="500" fill="#213d5c" text-anchor="middle">파주갑</text>
<text transform="translate(191.1 202.3) scale(0.8 1)" font-size="10.6" font-weight="900" fill="#0a0a0a" text-anchor="middle">윤후덕</text>
<text transform="translate(191.0 223.6) scale(0.8 1)" font-size="8.3" font-weight="500" fill="#213d5c" text-anchor="middle">은평갑</text>
<text transform="translate(191.0 234.9) scale(0.8 1)" font-size="10.6" font-weight="900" fill="#0a0a0a" text-anchor="middle">박주민</text>
<text transform="translate(190.9 256.2) scale(0.8 1)" font-size="8.3" font-weight="500" fill="#213d5c" text-anchor="middle">서대문을</text>
<text transform="translate(190.9 267.6) scale(0.8 1)" font-size="10.6" font-weight="900" fill="#0a0a0a" text-anchor="middle">김영호</text>
<text transform="translate(190.8 288.9) scale(0.8 1)" font-size="8.3" font-weight="500" fill="#213d5c" text-anchor="middle">마포을</text>
<text transform="translate(190.8 300.2) scale(0.8 1)" font-size="10.6" font-weight="900" fill="#0a0a0a" text-anchor="middle">정청래</text>
<text transform="translate(190.7 321.5) scale(0.8 1)" font-size="8.3" font-weight="500" fill="#213d5c" text-anchor="middle">영등포갑</text>
<text transform="translate(190.7 332.9) scale(0.8 1)" font-size="10.6" font-weight="900" fill="#0a0a0a" text-anchor="middle">김영주</text>
<text transform="translate(190.6 354.2) scale(0.8 1)" font-size="8.3" font-weight="500" fill="#213d5c" text-anchor="middle">양천갑</text>
<text transform="translate(190.6 365.5) scale(0.8 1)" font-size="10.6" font-weight="900" fill="#0a0a0a" text-anchor="middle">황희</text>
<text transform="translate(190.5 386.8) scale(0.8 1)" font-size="8.3" font-weight="500" fill="#213d5c" text-anchor="middle">구로을</text>
<text transform="translate(190.5 398.2) scale(0.8 1)" font-size="10.6" font-weight="900" fill="#0a0a0a" text-anchor="middle">윤건영</text>
<text transform="translate(190.4 419.5) scale(0.8 1)" font-size="8.3" font-weight="500" fill="#213d5c" text-anchor="middle">광명갑</text>
<text transform="translate(190.4 430.8) scale(0.8 1)" font-size="10.6" font-weight="900" fill="#0a0a0a" text-anchor="middle">임오경</text>
<text transform="translate(190.3 452.1) scale(0.8 1)" font-size="8.3" font-weight="500" fill="#213d5c" text-anchor="middle">안양 동안을</text>
<text transform="translate(190.3 463.5) scale(0.8 1)" font-size="10.6" font-weight="900" fill="#0a0a0a" text-anchor="middle">이재정</text>
<text transform="translate(190.2 484.8) scale(0.8 1)" font-size="8.3" font-weight="500" fill="#213d5c" text-anchor="middle">군포</text>
<text transform="translate(190.2 496.1) scale(0.8 1)" font-size="10.6" font-weight="900" fill="#0a0a0a" text-anchor="middle">이학영</text>
<text transform="translate(190.1 517.4) scale(0.8 1)" font-size="8.3" font-weight="500" fill="#213d5c" text-anchor="middle">화성갑</text>
<text transform="translate(190.1 528.8) scale(0.8 1)" font-size="10.6" font-weight="900" fill="#0a0a0a" text-anchor="middle">송옥주</text>
<text transform="translate(190.0 550.1) scale(0.8 1)" font-size="8.3" font-weight="500" fill="#213d5c" text-anchor="middle">천안갑</text>
<text transform="translate(190.0 561.4) scale(0.8 1)" font-size="10.6" font-weight="900" fill="#0a0a0a" text-anchor="middle">문진석</text>
<text transform="translate(192.9 582.6) scale(0.8 1)" font-size="8.3" font-weight="500" fill="#213d5c" text-anchor="middle">논산·계룡·</text>
<text transform="translate(172.5 593.4) scale(0.8 1)" font-size="8.3" font-weight="500" fill="#213d5c" text-anchor="start">금산</text>
<text transform="translate(187.8 593.5) scale(0.8 1)" font-size="10.6" font-weight="900" fill="#0a0a0a" text-anchor="start">김종민</text>
<text transform="translate(189.8 615.4) scale(0.8 1)" font-size="8.3" font-weight="500" fill="#213d5c" text-anchor="middle">전주병</text>
<text transform="translate(189.8 626.7) scale(0.8 1)" font-size="10.6" font-weight="900" fill="#0a0a0a" text-anchor="middle">김성주</text>
<text transform="translate(189.7 648.0) scale(0.8 1)" font-size="8.3" font-weight="500" fill="#213d5c" text-anchor="middle">전주을</text>
<text transform="translate(189.7 659.4) scale(0.8 1)" font-size="10.6" font-weight="900" fill="#0a0a0a" text-anchor="middle">이상직</text>
<text transform="translate(189.6 680.7) scale(0.8 1)" font-size="8.3" font-weight="500" fill="#213d5c" text-anchor="middle">북갑</text>
<text transform="translate(189.6 692.0) scale(0.8 1)" font-size="10.6" font-weight="900" fill="#0a0a0a" text-anchor="middle">조오섭</text>
<text transform="translate(189.5 713.3) scale(0.8 1)" font-size="8.3" font-weight="500" fill="#213d5c" text-anchor="middle">서을</text>
<text transform="translate(189.5 724.7) scale(0.8 1)" font-size="10.6" font-weight="900" fill="#0a0a0a" text-anchor="middle">양향자</text>
<text transform="translate(189.4 746.0) scale(0.8 1)" font-size="8.3" font-weight="500" fill="#213d5c" text-anchor="middle">여수갑</text>
<text transform="translate(189.4 757.3) scale(0.8 1)" font-size="10.6" font-weight="900" fill="#0a0a0a" text-anchor="middle">주철현</text>
<text transform="translate(219.5 141.9) scale(0.8 1)" font-size="8.3" font-weight="500" fill="#213d5c" text-anchor="middle">양주</text>
<text transform="translate(219.5 153.3) scale(0.8 1)" font-size="10.6" font-weight="900" fill="#0a0a0a" text-anchor="middle">정성호</text>
<text transform="translate(219.4 174.6) scale(0.8 1)" font-size="8.3" font-weight="500" fill="#213d5c" text-anchor="middle">의정부갑</text>
<text transform="translate(219.4 185.9) scale(0.8 1)" font-size="10.6" font-weight="900" fill="#0a0a0a" text-anchor="middle">오영환</text>
<text transform="translate(219.3 207.2) scale(0.8 1)" font-size="8.3" font-weight="500" fill="#213d5c" text-anchor="middle">은평을</text>
<text transform="translate(219.3 218.6) scale(0.8 1)" font-size="10.6" font-weight="900" fill="#0a0a0a" text-anchor="middle">강병원</text>
<text transform="translate(219.2 239.9) scale(0.8 1)" font-size="8.3" font-weight="500" fill="#213d5c" text-anchor="middle">종로</text>
<text transform="translate(219.2 251.2) scale(0.8 1)" font-size="10.6" font-weight="900" fill="#0a0a0a" text-anchor="middle">이낙연</text>
<text transform="translate(219.1 272.5) scale(0.8 1)" font-size="8.3" font-weight="500" fill="#213d5c" text-anchor="middle">서대문갑</text>
<text transform="translate(219.1 283.9) scale(0.8 1)" font-size="10.6" font-weight="900" fill="#0a0a0a" text-anchor="middle">우상호</text>
<text transform="translate(219.0 305.2) scale(0.8 1)" font-size="8.3" font-weight="500" fill="#213d5c" text-anchor="middle">마포갑</text>
<text transform="translate(219.0 316.5) scale(0.8 1)" font-size="10.6" font-weight="900" fill="#0a0a0a" text-anchor="middle">노웅래</text>
<text transform="translate(218.9 337.8) scale(0.8 1)" font-size="8.3" font-weight="500" fill="#213d5c" text-anchor="middle">영등포을</text>
<text transform="translate(218.9 349.2) scale(0.8 1)" font-size="10.6" font-weight="900" fill="#0a0a0a" text-anchor="middle">김민석</text>
<text transform="translate(218.8 370.5) scale(0.8 1)" font-size="8.3" font-weight="500" fill="#213d5c" text-anchor="middle">금천</text>
<text transform="translate(218.8 381.8) scale(0.8 1)" font-size="10.6" font-weight="900" fill="#0a0a0a" text-anchor="middle">최기상</text>
<text transform="translate(218.7 403.1) scale(0.8 1)" font-size="8.3" font-weight="500" fill="#213d5c" text-anchor="middle">안양 만안</text>
<text transform="translate(218.7 414.5) scale(0.8 1)" font-size="10.6" font-weight="900" fill="#0a0a0a" text-anchor="middle">강득구</text>
<text transform="translate(218.6 435.8) scale(0.8 1)" font-size="8.3" font-weight="500" fill="#213d5c" text-anchor="middle">안양 동안갑</text>
<text transform="translate(218.6 447.1) scale(0.8 1)" font-size="10.6" font-weight="900" fill="#0a0a0a" text-anchor="middle">민병덕</text>
<text transform="translate(218.5 468.4) scale(0.8 1)" font-size="8.3" font-weight="500" fill="#213d5c" text-anchor="middle">화성병</text>
<text transform="translate(218.5 479.8) scale(0.8 1)" font-size="10.6" font-weight="900" fill="#0a0a0a" text-anchor="middle">권칠승</text>
<text transform="translate(218.4 501.1) scale(0.8 1)" font-size="8.3" font-weight="500" fill="#6e2532" text-anchor="middle">평택을</text>
<text transform="translate(218.4 512.4) scale(0.8 1)" font-size="10.6" font-weight="900" fill="#0a0a0a" text-anchor="middle">유의동</text>
<text transform="translate(218.3 533.7) scale(0.8 1)" font-size="8.3" font-weight="500" fill="#213d5c" text-anchor="middle">유성을</text>
<text transform="translate(218.3 545.1) scale(0.8 1)" font-size="10.6" font-weight="900" fill="#0a0a0a" text-anchor="middle">이상민</text>
<text transform="translate(218.2 566.4) scale(0.8 1)" font-size="8.3" font-weight="500" fill="#213d5c" text-anchor="middle">유성갑</text>
<text transform="translate(218.2 577.7) scale(0.8 1)" font-size="10.6" font-weight="900" fill="#0a0a0a" text-anchor="middle">조승래</text>
<text transform="translate(218.1 599.0) scale(0.8 1)" font-size="8.3" font-weight="500" fill="#213d5c" text-anchor="middle">서갑</text>
<text transform="translate(218.1 610.4) scale(0.8 1)" font-size="10.6" font-weight="900" fill="#0a0a0a" text-anchor="middle">박병석</text>
<text transform="translate(218.0 631.7) scale(0.8 1)" font-size="8.3" font-weight="500" fill="#213d5c" text-anchor="middle">전주갑</text>
<text transform="translate(218.0 643.0) scale(0.8 1)" font-size="10.6" font-weight="900" fill="#0a0a0a" text-anchor="middle">김윤덕</text>
<text transform="translate(217.9 657.6) scale(0.8 1)" font-size="8.3" font-weight="500" fill="#3f3f3f" text-anchor="middle">남원·</text>
<text transform="translate(217.9 667.4) scale(0.8 1)" font-size="8.3" font-weight="500" fill="#3f3f3f" text-anchor="middle">임실·순창</text>
<text transform="translate(217.9 677.8) scale(0.8 1)" font-size="10.6" font-weight="900" fill="#0a0a0a" text-anchor="middle">이용호</text>
<text transform="translate(217.8 697.0) scale(0.8 1)" font-size="8.3" font-weight="500" fill="#213d5c" text-anchor="middle">동·남을</text>
<text transform="translate(217.8 708.3) scale(0.8 1)" font-size="10.6" font-weight="900" fill="#0a0a0a" text-anchor="middle">이병훈</text>
<text transform="translate(217.7 731.9) scale(0.8 1)" font-size="8.3" font-weight="500" fill="#213d5c" text-anchor="middle">순천·광양</text>
<text transform="translate(217.7 740.7) scale(0.8 1)" font-size="8.3" font-weight="500" fill="#213d5c" text-anchor="middle">곡성·구례갑</text>
<text transform="translate(217.7 751.6) scale(0.8 1)" font-size="10.6" font-weight="900" fill="#0a0a0a" text-anchor="middle">소병철</text>
<text transform="translate(247.8 158.3) scale(0.8 1)" font-size="8.3" font-weight="500" fill="#213d5c" text-anchor="middle">남양주을</text>
<text transform="translate(247.8 169.6) scale(0.8 1)" font-size="10.6" font-weight="900" fill="#0a0a0a" text-anchor="middle">김한정</text>
<text transform="translate(247.7 190.9) scale(0.8 1)" font-size="8.3" font-weight="500" fill="#213d5c" text-anchor="middle">의정부을</text>
<text transform="translate(247.7 202.3) scale(0.8 1)" font-size="10.6" font-weight="900" fill="#0a0a0a" text-anchor="middle">김민철</text>
<text transform="translate(247.6 223.6) scale(0.8 1)" font-size="8.3" font-weight="500" fill="#213d5c" text-anchor="middle">강북갑</text>
<text transform="translate(247.6 234.9) scale(0.8 1)" font-size="10.6" font-weight="900" fill="#0a0a0a" text-anchor="middle">천준호</text>
<text transform="translate(247.5 256.2) scale(0.8 1)" font-size="8.3" font-weight="500" fill="#213d5c" text-anchor="middle">성북갑</text>
<text transform="translate(247.5 267.6) scale(0.8 1)" font-size="10.6" font-weight="900" fill="#0a0a0a" text-anchor="middle">김영배</text>
<text transform="translate(247.4 288.9) scale(0.8 1)" font-size="8.3" font-weight="500" fill="#213d5c" text-anchor="middle">중·성동을</text>
<text transform="translate(247.4 300.2) scale(0.8 1)" font-size="10.6" font-weight="900" fill="#0a0a0a" text-anchor="middle">박성준</text>
<text transform="translate(247.3 321.5) scale(0.8 1)" font-size="8.3" font-weight="500" fill="#6e2532" text-anchor="middle">용산</text>
<text transform="translate(247.3 332.9) scale(0.8 1)" font-size="10.6" font-weight="900" fill="#0a0a0a" text-anchor="middle">권영세</text>
<text transform="translate(247.2 354.2) scale(0.8 1)" font-size="8.3" font-weight="500" fill="#213d5c" text-anchor="middle">동작갑</text>
<text transform="translate(247.2 365.5) scale(0.8 1)" font-size="10.6" font-weight="900" fill="#0a0a0a" text-anchor="middle">김병기</text>
<text transform="translate(247.1 386.8) scale(0.8 1)" font-size="8.3" font-weight="500" fill="#213d5c" text-anchor="middle">관악을</text>
<text transform="translate(247.1 398.2) scale(0.8 1)" font-size="10.6" font-weight="900" fill="#0a0a0a" text-anchor="middle">정태호</text>
<text transform="translate(247.0 419.5) scale(0.8 1)" font-size="8.3" font-weight="500" fill="#213d5c" text-anchor="middle">수원을</text>
<text transform="translate(247.0 430.8) scale(0.8 1)" font-size="10.6" font-weight="900" fill="#0a0a0a" text-anchor="middle">백혜련</text>
<text transform="translate(246.9 452.1) scale(0.8 1)" font-size="8.3" font-weight="500" fill="#213d5c" text-anchor="middle">오산</text>
<text transform="translate(246.9 463.5) scale(0.8 1)" font-size="10.6" font-weight="900" fill="#0a0a0a" text-anchor="middle">안민석</text>
<text transform="translate(246.8 484.8) scale(0.8 1)" font-size="8.3" font-weight="500" fill="#213d5c" text-anchor="middle">평택갑</text>
<text transform="translate(246.8 496.1) scale(0.8 1)" font-size="10.6" font-weight="900" fill="#0a0a0a" text-anchor="middle">홍기원</text>
<text transform="translate(246.7 514.4) scale(0.8 1)" font-size="8.3" font-weight="500" fill="#213d5c" text-anchor="middle">세종을</text>
<text transform="translate(246.7 523.8) scale(0.8 1)" font-size="10.6" font-weight="900" fill="#0a0a0a" text-anchor="middle">강준현</text>
<text transform="translate(246.6 556.4) scale(0.8 1)" font-size="8.3" font-weight="500" fill="#213d5c" text-anchor="middle">세종갑</text>
<text transform="translate(246.6 565.8) scale(0.8 1)" font-size="10.6" font-weight="900" fill="#0a0a0a" text-anchor="middle">홍성국</text>
<text transform="translate(227.6 604.3) scale(0.8 1)" font-size="8.3" font-weight="500" fill="#213d5c" text-anchor="start">서을</text>
<text transform="translate(242.9 604.4) scale(0.8 1)" font-size="10.6" font-weight="900" fill="#0a0a0a" text-anchor="start">박범계</text>
<text transform="translate(246.4 615.4) scale(0.8 1)" font-size="8.3" font-weight="500" fill="#213d5c" text-anchor="middle">중구</text>
<text transform="translate(246.4 626.7) scale(0.8 1)" font-size="10.6" font-weight="900" fill="#0a0a0a" text-anchor="middle">황운하</text>
<text transform="translate(246.3 646.1) scale(0.8 1)" font-size="8.3" font-weight="500" fill="#213d5c" text-anchor="middle">완주·진안</text>
<text transform="translate(246.3 654.9) scale(0.8 1)" font-size="8.3" font-weight="500" fill="#213d5c" text-anchor="middle">무주·장수</text>
<text transform="translate(246.3 665.0) scale(0.8 1)" font-size="10.6" font-weight="900" fill="#0a0a0a" text-anchor="middle">안호영</text>
<text transform="translate(246.2 680.7) scale(0.8 1)" font-size="8.3" font-weight="500" fill="#6e2532" text-anchor="middle">진주갑</text>
<text transform="translate(246.2 692.0) scale(0.8 1)" font-size="10.6" font-weight="900" fill="#0a0a0a" text-anchor="middle">박대출</text>
<text transform="translate(246.1 715.6) scale(0.8 1)" font-size="8.3" font-weight="500" fill="#6e2532" text-anchor="middle">사천·남해</text>
<text transform="translate(246.1 723.9) scale(0.8 1)" font-size="8.3" font-weight="500" fill="#6e2532" text-anchor="middle">·하동</text>
<text transform="translate(246.1 734.1) scale(0.8 1)" font-size="10.6" font-weight="900" fill="#0a0a0a" text-anchor="middle">하영제</text>
<text transform="translate(276.1 141.9) scale(0.8 1)" font-size="8.3" font-weight="500" fill="#6e2532" text-anchor="middle">동두천·연천</text>
<text transform="translate(276.1 153.3) scale(0.8 1)" font-size="10.6" font-weight="900" fill="#0a0a0a" text-anchor="middle">김성원</text>
<text transform="translate(276.0 174.6) scale(0.8 1)" font-size="8.3" font-weight="500" fill="#213d5c" text-anchor="middle">도봉을</text>
<text transform="translate(276.0 185.9) scale(0.8 1)" font-size="10.6" font-weight="900" fill="#0a0a0a" text-anchor="middle">오기형</text>
<text transform="translate(275.9 207.2) scale(0.8 1)" font-size="8.3" font-weight="500" fill="#213d5c" text-anchor="middle">도봉갑</text>
<text transform="translate(275.9 218.6) scale(0.8 1)" font-size="10.6" font-weight="900" fill="#0a0a0a" text-anchor="middle">인재근</text>
<text transform="translate(275.8 239.9) scale(0.8 1)" font-size="8.3" font-weight="500" fill="#213d5c" text-anchor="middle">강북을</text>
<text transform="translate(275.8 251.2) scale(0.8 1)" font-size="10.6" font-weight="900" fill="#0a0a0a" text-anchor="middle">박용진</text>
<text transform="translate(275.7 272.5) scale(0.8 1)" font-size="8.3" font-weight="500" fill="#213d5c" text-anchor="middle">중·성동갑</text>
<text transform="translate(275.7 283.9) scale(0.8 1)" font-size="10.6" font-weight="900" fill="#0a0a0a" text-anchor="middle">홍익표</text>
<text transform="translate(275.6 305.2) scale(0.8 1)" font-size="8.3" font-weight="500" fill="#6e2532" text-anchor="middle">강남갑</text>
<text transform="translate(275.6 316.5) scale(0.8 1)" font-size="10.6" font-weight="900" fill="#0a0a0a" text-anchor="middle">태구민</text>
<text transform="translate(275.5 337.8) scale(0.8 1)" font-size="8.3" font-weight="500" fill="#213d5c" text-anchor="middle">동작을</text>
<text transform="translate(275.5 349.2) scale(0.8 1)" font-size="10.6" font-weight="900" fill="#0a0a0a" text-anchor="middle">이수진</text>
<text transform="translate(275.4 370.5) scale(0.8 1)" font-size="8.3" font-weight="500" fill="#213d5c" text-anchor="middle">관악갑</text>
<text transform="translate(275.4 381.8) scale(0.8 1)" font-size="10.6" font-weight="900" fill="#0a0a0a" text-anchor="middle">유기홍</text>
<text transform="translate(275.3 403.1) scale(0.8 1)" font-size="8.3" font-weight="500" fill="#213d5c" text-anchor="middle">수원갑</text>
<text transform="translate(275.3 414.5) scale(0.8 1)" font-size="10.6" font-weight="900" fill="#0a0a0a" text-anchor="middle">김승원</text>
<text transform="translate(275.2 435.8) scale(0.8 1)" font-size="8.3" font-weight="500" fill="#213d5c" text-anchor="middle">수원병</text>
<text transform="translate(275.2 447.1) scale(0.8 1)" font-size="10.6" font-weight="900" fill="#0a0a0a" text-anchor="middle">김영진</text>
<text transform="translate(275.1 468.4) scale(0.8 1)" font-size="8.3" font-weight="500" fill="#213d5c" text-anchor="middle">화성을</text>
<text transform="translate(275.1 479.8) scale(0.8 1)" font-size="10.6" font-weight="900" fill="#0a0a0a" text-anchor="middle">이원욱</text>
<text transform="translate(275.0 501.1) scale(0.8 1)" font-size="8.3" font-weight="500" fill="#213d5c" text-anchor="middle">청주 청원</text>
<text transform="translate(275.0 512.4) scale(0.8 1)" font-size="10.6" font-weight="900" fill="#0a0a0a" text-anchor="middle">변재일</text>
<text transform="translate(274.9 533.7) scale(0.8 1)" font-size="8.3" font-weight="500" fill="#213d5c" text-anchor="middle">청주 흥덕</text>
<text transform="translate(274.9 545.1) scale(0.8 1)" font-size="10.6" font-weight="900" fill="#0a0a0a" text-anchor="middle">도종환</text>
<text transform="translate(274.8 566.4) scale(0.8 1)" font-size="8.3" font-weight="500" fill="#213d5c" text-anchor="middle">대덕</text>
<text transform="translate(274.8 577.7) scale(0.8 1)" font-size="10.6" font-weight="900" fill="#0a0a0a" text-anchor="middle">박영순</text>
<text transform="translate(274.7 599.0) scale(0.8 1)" font-size="8.3" font-weight="500" fill="#213d5c" text-anchor="middle">동구</text>
<text transform="translate(274.7 610.4) scale(0.8 1)" font-size="10.6" font-weight="900" fill="#0a0a0a" text-anchor="middle">장철민</text>
<text transform="translate(274.6 629.8) scale(0.8 1)" font-size="8.3" font-weight="500" fill="#3f3f3f" text-anchor="middle">산청·함양</text>
<text transform="translate(274.6 639.8) scale(0.8 1)" font-size="8.3" font-weight="500" fill="#3f3f3f" text-anchor="middle">거창·합천</text>
<text transform="translate(274.6 649.9) scale(0.8 1)" font-size="10.6" font-weight="900" fill="#0a0a0a" text-anchor="middle">김태호</text>
<text transform="translate(274.5 664.3) scale(0.8 1)" font-size="8.3" font-weight="500" fill="#6e2532" text-anchor="middle">진주을</text>
<text transform="translate(274.5 675.7) scale(0.8 1)" font-size="10.6" font-weight="900" fill="#0a0a0a" text-anchor="middle">강민국</text>
<text transform="translate(274.4 697.0) scale(0.8 1)" font-size="8.3" font-weight="500" fill="#6e2532" text-anchor="middle">창원 마산합포</text>
<text transform="translate(274.4 708.3) scale(0.8 1)" font-size="10.6" font-weight="900" fill="#0a0a0a" text-anchor="middle">최형두</text>
<text transform="translate(274.3 729.6) scale(0.8 1)" font-size="8.3" font-weight="500" fill="#6e2532" text-anchor="middle">통영·고성</text>
<text transform="translate(274.3 741.0) scale(0.8 1)" font-size="10.6" font-weight="900" fill="#0a0a0a" text-anchor="middle">정점식</text>
<text transform="translate(304.4 158.3) scale(0.8 1)" font-size="8.3" font-weight="500" fill="#213d5c" text-anchor="middle">노원병</text>
<text transform="translate(304.4 169.6) scale(0.8 1)" font-size="10.6" font-weight="900" fill="#0a0a0a" text-anchor="middle">김성환</text>
<text transform="translate(304.3 190.9) scale(0.8 1)" font-size="8.3" font-weight="500" fill="#213d5c" text-anchor="middle">노원을</text>
<text transform="translate(304.3 202.3) scale(0.8 1)" font-size="10.6" font-weight="900" fill="#0a0a0a" text-anchor="middle">우원식</text>
<text transform="translate(304.2 223.6) scale(0.8 1)" font-size="8.3" font-weight="500" fill="#213d5c" text-anchor="middle">성북을</text>
<text transform="translate(304.2 234.9) scale(0.8 1)" font-size="10.6" font-weight="900" fill="#0a0a0a" text-anchor="middle">기동민</text>
<text transform="translate(304.1 256.2) scale(0.8 1)" font-size="8.3" font-weight="500" fill="#213d5c" text-anchor="middle">동대문갑</text>
<text transform="translate(304.1 267.6) scale(0.8 1)" font-size="10.6" font-weight="900" fill="#0a0a0a" text-anchor="middle">안규백</text>
<text transform="translate(304.0 288.9) scale(0.8 1)" font-size="8.3" font-weight="500" fill="#213d5c" text-anchor="middle">동대문을</text>
<text transform="translate(304.0 300.2) scale(0.8 1)" font-size="10.6" font-weight="900" fill="#0a0a0a" text-anchor="middle">장경태</text>
<text transform="translate(303.9 321.5) scale(0.8 1)" font-size="8.3" font-weight="500" fill="#6e2532" text-anchor="middle">강남병</text>
<text transform="translate(303.9 332.9) scale(0.8 1)" font-size="10.6" font-weight="900" fill="#0a0a0a" text-anchor="middle">유경준</text>
<text transform="translate(303.8 354.2) scale(0.8 1)" font-size="8.3" font-weight="500" fill="#6e2532" text-anchor="middle">서초갑</text>
<text transform="translate(303.8 365.5) scale(0.8 1)" font-size="10.6" font-weight="900" fill="#0a0a0a" text-anchor="middle">윤희숙</text>
<text transform="translate(303.7 386.8) scale(0.8 1)" font-size="8.3" font-weight="500" fill="#213d5c" text-anchor="middle">의왕·과천</text>
<text transform="translate(303.7 398.2) scale(0.8 1)" font-size="10.6" font-weight="900" fill="#0a0a0a" text-anchor="middle">이소영</text>
<text transform="translate(303.6 419.5) scale(0.8 1)" font-size="8.3" font-weight="500" fill="#213d5c" text-anchor="middle">수원정</text>
<text transform="translate(303.6 430.8) scale(0.8 1)" font-size="10.6" font-weight="900" fill="#0a0a0a" text-anchor="middle">박광온</text>
<text transform="translate(303.5 452.1) scale(0.8 1)" font-size="8.3" font-weight="500" fill="#213d5c" text-anchor="middle">수원무</text>
<text transform="translate(303.5 463.5) scale(0.8 1)" font-size="10.6" font-weight="900" fill="#0a0a0a" text-anchor="middle">김진표</text>
<text transform="translate(303.4 477.9) scale(0.8 1)" font-size="8.3" font-weight="500" fill="#213d5c" text-anchor="middle">증평·</text>
<text transform="translate(303.4 486.9) scale(0.8 1)" font-size="8.3" font-weight="500" fill="#213d5c" text-anchor="middle">진천·음성</text>
<text transform="translate(303.4 496.5) scale(0.8 1)" font-size="10.6" font-weight="900" fill="#0a0a0a" text-anchor="middle">임호선</text>
<text transform="translate(303.3 529.3) scale(0.8 1)" font-size="8.3" font-weight="500" fill="#213d5c" text-anchor="middle">청주 상당</text>
<text transform="translate(303.3 538.9) scale(0.8 1)" font-size="10.6" font-weight="900" fill="#0a0a0a" text-anchor="middle">정정순</text>
<text transform="translate(303.2 550.1) scale(0.8 1)" font-size="8.3" font-weight="500" fill="#213d5c" text-anchor="middle">청주 서원</text>
<text transform="translate(303.2 561.4) scale(0.8 1)" font-size="10.6" font-weight="900" fill="#0a0a0a" text-anchor="middle">이장섭</text>
<text transform="translate(303.1 582.7) scale(0.8 1)" font-size="8.3" font-weight="500" fill="#6e2532" text-anchor="middle">달성</text>
<text transform="translate(303.1 594.1) scale(0.8 1)" font-size="10.6" font-weight="900" fill="#0a0a0a" text-anchor="middle">추경호</text>
<text transform="translate(303.0 616.0) scale(0.8 1)" font-size="8.3" font-weight="500" fill="#6e2532" text-anchor="middle">밀양·의령</text>
<text transform="translate(303.0 624.8) scale(0.8 1)" font-size="8.3" font-weight="500" fill="#6e2532" text-anchor="middle">함안·창녕</text>
<text transform="translate(303.0 635.6) scale(0.8 1)" font-size="10.6" font-weight="900" fill="#0a0a0a" text-anchor="middle">조해진</text>
<text transform="translate(302.9 648.0) scale(0.8 1)" font-size="8.3" font-weight="500" fill="#6e2532" text-anchor="middle">창원 의창</text>
<text transform="translate(302.9 659.4) scale(0.8 1)" font-size="10.6" font-weight="900" fill="#0a0a0a" text-anchor="middle">박완수</text>
<text transform="translate(302.8 680.7) scale(0.8 1)" font-size="8.3" font-weight="500" fill="#6e2532" text-anchor="middle">창원 마산회원</text>
<text transform="translate(302.8 692.0) scale(0.8 1)" font-size="10.6" font-weight="900" fill="#0a0a0a" text-anchor="middle">윤한홍</text>
<text transform="translate(302.7 713.3) scale(0.8 1)" font-size="8.3" font-weight="500" fill="#6e2532" text-anchor="middle">거제</text>
<text transform="translate(302.7 724.7) scale(0.8 1)" font-size="10.6" font-weight="900" fill="#0a0a0a" text-anchor="middle">서일준</text>
<text transform="translate(332.7 141.9) scale(0.8 1)" font-size="8.3" font-weight="500" fill="#6e2532" text-anchor="middle">포천·가평</text>
<text transform="translate(332.7 153.3) scale(0.8 1)" font-size="10.6" font-weight="900" fill="#0a0a0a" text-anchor="middle">최춘식</text>
<text transform="translate(332.6 174.6) scale(0.8 1)" font-size="8.3" font-weight="500" fill="#213d5c" text-anchor="middle">구리</text>
<text transform="translate(332.6 185.9) scale(0.8 1)" font-size="10.6" font-weight="900" fill="#0a0a0a" text-anchor="middle">윤호중</text>
<text transform="translate(332.5 207.2) scale(0.8 1)" font-size="8.3" font-weight="500" fill="#213d5c" text-anchor="middle">노원갑</text>
<text transform="translate(332.5 218.6) scale(0.8 1)" font-size="10.6" font-weight="900" fill="#0a0a0a" text-anchor="middle">고용진</text>
<text transform="translate(332.4 239.9) scale(0.8 1)" font-size="8.3" font-weight="500" fill="#213d5c" text-anchor="middle">중랑을</text>
<text transform="translate(332.4 251.2) scale(0.8 1)" font-size="10.6" font-weight="900" fill="#0a0a0a" text-anchor="middle">박홍근</text>
<text transform="translate(332.3 272.5) scale(0.8 1)" font-size="8.3" font-weight="500" fill="#213d5c" text-anchor="middle">중랑갑</text>
<text transform="translate(332.3 283.9) scale(0.8 1)" font-size="10.6" font-weight="900" fill="#0a0a0a" text-anchor="middle">서영교</text>
<text transform="translate(332.2 305.2) scale(0.8 1)" font-size="8.3" font-weight="500" fill="#213d5c" text-anchor="middle">광진을</text>
<text transform="translate(332.2 316.5) scale(0.8 1)" font-size="10.6" font-weight="900" fill="#0a0a0a" text-anchor="middle">고민정</text>
<text transform="translate(332.1 337.8) scale(0.8 1)" font-size="8.3" font-weight="500" fill="#6e2532" text-anchor="middle">송파을</text>
<text transform="translate(332.1 349.2) scale(0.8 1)" font-size="10.6" font-weight="900" fill="#0a0a0a" text-anchor="middle">배현진</text>
<text transform="translate(332.0 370.5) scale(0.8 1)" font-size="8.3" font-weight="500" fill="#6e2532" text-anchor="middle">서초을</text>
<text transform="translate(332.0 381.8) scale(0.8 1)" font-size="10.6" font-weight="900" fill="#0a0a0a" text-anchor="middle">박성중</text>
<text transform="translate(331.9 403.1) scale(0.8 1)" font-size="8.3" font-weight="500" fill="#213d5c" text-anchor="middle">용인병</text>
<text transform="translate(331.9 414.5) scale(0.8 1)" font-size="10.6" font-weight="900" fill="#0a0a0a" text-anchor="middle">정춘숙</text>
<text transform="translate(331.8 435.8) scale(0.8 1)" font-size="8.3" font-weight="500" fill="#213d5c" text-anchor="middle">용인정</text>
<text transform="translate(331.8 447.1) scale(0.8 1)" font-size="10.6" font-weight="900" fill="#0a0a0a" text-anchor="middle">이탄희</text>
<text transform="translate(331.7 468.4) scale(0.8 1)" font-size="8.3" font-weight="500" fill="#213d5c" text-anchor="middle">용인을</text>
<text transform="translate(331.7 479.8) scale(0.8 1)" font-size="10.6" font-weight="900" fill="#0a0a0a" text-anchor="middle">김민기</text>
<text transform="translate(331.6 501.1) scale(0.8 1)" font-size="8.3" font-weight="500" fill="#6e2532" text-anchor="middle">충주</text>
<text transform="translate(331.6 512.4) scale(0.8 1)" font-size="10.6" font-weight="900" fill="#0a0a0a" text-anchor="middle">이종배</text>
<text transform="translate(331.5 529.8) scale(0.8 1)" font-size="8.3" font-weight="500" fill="#6e2532" text-anchor="middle">보은·옥천</text>
<text transform="translate(331.5 539.3) scale(0.8 1)" font-size="8.3" font-weight="500" fill="#6e2532" text-anchor="middle">영동·괴산</text>
<text transform="translate(331.5 550.2) scale(0.8 1)" font-size="10.6" font-weight="900" fill="#0a0a0a" text-anchor="middle">박덕흠</text>
<text transform="translate(331.4 566.4) scale(0.8 1)" font-size="8.3" font-weight="500" fill="#6e2532" text-anchor="middle">달서갑</text>
<text transform="translate(331.4 577.7) scale(0.8 1)" font-size="10.6" font-weight="900" fill="#0a0a0a" text-anchor="middle">홍석준</text>
<text transform="translate(331.3 599.0) scale(0.8 1)" font-size="8.3" font-weight="500" fill="#6e2532" text-anchor="middle">달서을</text>
<text transform="translate(331.3 610.4) scale(0.8 1)" font-size="10.6" font-weight="900" fill="#0a0a0a" text-anchor="middle">윤재옥</text>
<text transform="translate(331.2 631.7) scale(0.8 1)" font-size="8.3" font-weight="500" fill="#213d5c" text-anchor="middle">김해갑</text>
<text transform="translate(331.2 643.0) scale(0.8 1)" font-size="10.6" font-weight="900" fill="#0a0a0a" text-anchor="middle">민홍철</text>
<text transform="translate(331.1 664.3) scale(0.8 1)" font-size="8.3" font-weight="500" fill="#6e2532" text-anchor="middle">창원 성산</text>
<text transform="translate(331.1 675.7) scale(0.8 1)" font-size="10.6" font-weight="900" fill="#0a0a0a" text-anchor="middle">강기윤</text>
<text transform="translate(331.0 697.0) scale(0.8 1)" font-size="8.3" font-weight="500" fill="#6e2532" text-anchor="middle">창원 진해</text>
<text transform="translate(331.0 708.3) scale(0.8 1)" font-size="10.6" font-weight="900" fill="#0a0a0a" text-anchor="middle">이달곤</text>
<text transform="translate(373.0 144.3) scale(0.8 1)" font-size="8.3" font-weight="500" fill="#3a3a3a" text-anchor="middle">춘천·철원·</text>
<text transform="translate(373.0 154.4) scale(0.8 1)" font-size="8.3" font-weight="500" fill="#3a3a3a" text-anchor="middle">화천·양구을</text>
<text transform="translate(361.0 166.5) scale(0.8 1)" font-size="10.6" font-weight="900" fill="#0a0a0a" text-anchor="middle">한기호</text>
<text transform="translate(360.9 190.9) scale(0.8 1)" font-size="8.3" font-weight="500" fill="#213d5c" text-anchor="middle">남양주갑</text>
<text transform="translate(360.9 202.3) scale(0.8 1)" font-size="10.6" font-weight="900" fill="#0a0a0a" text-anchor="middle">조응천</text>
<text transform="translate(360.8 223.6) scale(0.8 1)" font-size="8.3" font-weight="500" fill="#213d5c" text-anchor="middle">남양주병</text>
<text transform="translate(360.8 234.9) scale(0.8 1)" font-size="10.6" font-weight="900" fill="#0a0a0a" text-anchor="middle">김용민</text>
<text transform="translate(360.7 256.2) scale(0.8 1)" font-size="8.3" font-weight="500" fill="#213d5c" text-anchor="middle">하남</text>
<text transform="translate(360.7 267.6) scale(0.8 1)" font-size="10.6" font-weight="900" fill="#0a0a0a" text-anchor="middle">최종윤</text>
<text transform="translate(360.6 288.9) scale(0.8 1)" font-size="8.3" font-weight="500" fill="#213d5c" text-anchor="middle">광진갑</text>
<text transform="translate(360.6 300.2) scale(0.8 1)" font-size="10.6" font-weight="900" fill="#0a0a0a" text-anchor="middle">전혜숙</text>
<text transform="translate(360.5 321.5) scale(0.8 1)" font-size="8.3" font-weight="500" fill="#6e2532" text-anchor="middle">송파갑</text>
<text transform="translate(360.5 332.9) scale(0.8 1)" font-size="10.6" font-weight="900" fill="#0a0a0a" text-anchor="middle">김웅</text>
<text transform="translate(360.4 354.2) scale(0.8 1)" font-size="8.3" font-weight="500" fill="#6e2532" text-anchor="middle">강남을</text>
<text transform="translate(360.4 365.5) scale(0.8 1)" font-size="10.6" font-weight="900" fill="#0a0a0a" text-anchor="middle">박진</text>
<text transform="translate(360.3 386.8) scale(0.8 1)" font-size="8.3" font-weight="500" fill="#6e2532" text-anchor="middle">성남 분당갑</text>
<text transform="translate(360.3 398.2) scale(0.8 1)" font-size="10.6" font-weight="900" fill="#0a0a0a" text-anchor="middle">김은혜</text>
<text transform="translate(360.2 419.5) scale(0.8 1)" font-size="8.3" font-weight="500" fill="#6e2532" text-anchor="middle">용인갑</text>
<text transform="translate(360.2 430.8) scale(0.8 1)" font-size="10.6" font-weight="900" fill="#0a0a0a" text-anchor="middle">정찬민</text>
<text transform="translate(360.1 452.1) scale(0.8 1)" font-size="8.3" font-weight="500" fill="#213d5c" text-anchor="middle">안성</text>
<text transform="translate(360.1 463.5) scale(0.8 1)" font-size="10.6" font-weight="900" fill="#0a0a0a" text-anchor="middle">이규민</text>
<text transform="translate(360.0 484.8) scale(0.8 1)" font-size="8.3" font-weight="500" fill="#6e2532" text-anchor="middle">제천·단양</text>
<text transform="translate(360.0 496.1) scale(0.8 1)" font-size="10.6" font-weight="900" fill="#0a0a0a" text-anchor="middle">엄태영</text>
<text transform="translate(359.9 517.4) scale(0.8 1)" font-size="8.3" font-weight="500" fill="#6e2532" text-anchor="middle">북을</text>
<text transform="translate(359.9 528.8) scale(0.8 1)" font-size="10.6" font-weight="900" fill="#0a0a0a" text-anchor="middle">김승수</text>
<text transform="translate(346.7 551.0) scale(0.8 1)" font-size="8.3" font-weight="500" fill="#6e2532" text-anchor="start">서</text>
<text transform="translate(355.4 551.0) scale(0.8 1)" font-size="10.6" font-weight="900" fill="#0a0a0a" text-anchor="start">김상훈</text>
<text transform="translate(359.7 585.3) scale(0.8 1)" font-size="8.3" font-weight="500" fill="#6e2532" text-anchor="middle">달서병</text>
<text transform="translate(359.7 594.1) scale(0.8 1)" font-size="10.6" font-weight="900" fill="#0a0a0a" text-anchor="middle">김용판</text>
<text transform="translate(359.6 615.4) scale(0.8 1)" font-size="8.3" font-weight="500" fill="#6e2532" text-anchor="middle">양산갑</text>
<text transform="translate(359.6 626.7) scale(0.8 1)" font-size="10.6" font-weight="900" fill="#0a0a0a" text-anchor="middle">윤영석</text>
<text transform="translate(359.5 648.0) scale(0.8 1)" font-size="8.3" font-weight="500" fill="#213d5c" text-anchor="middle">양산을</text>
<text transform="translate(359.5 659.4) scale(0.8 1)" font-size="10.6" font-weight="900" fill="#0a0a0a" text-anchor="middle">김두관</text>
<text transform="translate(359.4 680.7) scale(0.8 1)" font-size="8.3" font-weight="500" fill="#213d5c" text-anchor="middle">김해을</text>
<text transform="translate(359.4 692.0) scale(0.8 1)" font-size="10.6" font-weight="900" fill="#0a0a0a" text-anchor="middle">김정호</text>
<text transform="translate(359.3 713.3) scale(0.8 1)" font-size="8.3" font-weight="500" fill="#213d5c" text-anchor="middle">사하갑</text>
<text transform="translate(359.3 724.7) scale(0.8 1)" font-size="10.6" font-weight="900" fill="#0a0a0a" text-anchor="middle">최인호</text>
<text transform="translate(359.2 746.0) scale(0.8 1)" font-size="8.3" font-weight="500" fill="#6e2532" text-anchor="middle">사하을</text>
<text transform="translate(359.2 757.3) scale(0.8 1)" font-size="10.6" font-weight="900" fill="#0a0a0a" text-anchor="middle">조경태</text>
<text transform="translate(399.2 163.2) scale(0.8 1)" font-size="8.3" font-weight="500" fill="#3a3a3a" text-anchor="middle">속초·인제·</text>
<text transform="translate(399.2 172.4) scale(0.8 1)" font-size="8.3" font-weight="500" fill="#3a3a3a" text-anchor="middle">고성·양양</text>
<text transform="translate(389.2 184.5) scale(0.8 1)" font-size="10.6" font-weight="900" fill="#0a0a0a" text-anchor="middle">이양수</text>
<text transform="translate(399.1 199.5) scale(0.8 1)" font-size="8.3" font-weight="500" fill="#3a3a3a" text-anchor="middle">춘천·철원·</text>
<text transform="translate(399.1 209.0) scale(0.8 1)" font-size="8.3" font-weight="500" fill="#3a3a3a" text-anchor="middle">화천·양구갑</text>
<text transform="translate(389.1 221.2) scale(0.8 1)" font-size="10.6" font-weight="900" fill="#0a0a0a" text-anchor="middle">허영</text>
<text transform="translate(389.0 239.9) scale(0.8 1)" font-size="8.3" font-weight="500" fill="#213d5c" text-anchor="middle">원주갑</text>
<text transform="translate(389.0 251.2) scale(0.8 1)" font-size="10.6" font-weight="900" fill="#0a0a0a" text-anchor="middle">이광재</text>
<text transform="translate(388.9 272.5) scale(0.8 1)" font-size="8.3" font-weight="500" fill="#213d5c" text-anchor="middle">강동갑</text>
<text transform="translate(388.9 283.9) scale(0.8 1)" font-size="10.6" font-weight="900" fill="#0a0a0a" text-anchor="middle">진선미</text>
<text transform="translate(388.8 305.2) scale(0.8 1)" font-size="8.3" font-weight="500" fill="#213d5c" text-anchor="middle">강동을</text>
<text transform="translate(388.8 316.5) scale(0.8 1)" font-size="10.6" font-weight="900" fill="#0a0a0a" text-anchor="middle">이해식</text>
<text transform="translate(388.7 337.8) scale(0.8 1)" font-size="8.3" font-weight="500" fill="#213d5c" text-anchor="middle">송파병</text>
<text transform="translate(388.7 349.2) scale(0.8 1)" font-size="10.6" font-weight="900" fill="#0a0a0a" text-anchor="middle">남인순</text>
<text transform="translate(388.6 370.5) scale(0.8 1)" font-size="8.3" font-weight="500" fill="#213d5c" text-anchor="middle">성남 수정</text>
<text transform="translate(388.6 381.8) scale(0.8 1)" font-size="10.6" font-weight="900" fill="#0a0a0a" text-anchor="middle">김태년</text>
<text transform="translate(388.5 403.1) scale(0.8 1)" font-size="8.3" font-weight="500" fill="#213d5c" text-anchor="middle">성남 분당을</text>
<text transform="translate(388.5 414.5) scale(0.8 1)" font-size="10.6" font-weight="900" fill="#0a0a0a" text-anchor="middle">김병욱</text>
<text transform="translate(388.4 435.8) scale(0.8 1)" font-size="8.3" font-weight="500" fill="#6e2532" text-anchor="middle">상주·문경</text>
<text transform="translate(388.4 447.1) scale(0.8 1)" font-size="10.6" font-weight="900" fill="#0a0a0a" text-anchor="middle">임이자</text>
<text transform="translate(388.3 468.4) scale(0.8 1)" font-size="8.3" font-weight="500" fill="#6e2532" text-anchor="middle">김천</text>
<text transform="translate(388.3 479.8) scale(0.8 1)" font-size="10.6" font-weight="900" fill="#0a0a0a" text-anchor="middle">송언석</text>
<text transform="translate(388.2 501.1) scale(0.8 1)" font-size="8.3" font-weight="500" fill="#6e2532" text-anchor="middle">고령·성주·칠곡</text>
<text transform="translate(388.2 512.4) scale(0.8 1)" font-size="10.6" font-weight="900" fill="#0a0a0a" text-anchor="middle">정희용</text>
<text transform="translate(388.1 533.7) scale(0.8 1)" font-size="8.3" font-weight="500" fill="#6e2532" text-anchor="middle">북갑</text>
<text transform="translate(388.1 545.1) scale(0.8 1)" font-size="10.6" font-weight="900" fill="#0a0a0a" text-anchor="middle">양금희</text>
<text transform="translate(388.0 566.4) scale(0.8 1)" font-size="8.3" font-weight="500" fill="#6e2532" text-anchor="middle">중·남</text>
<text transform="translate(388.0 577.7) scale(0.8 1)" font-size="10.6" font-weight="900" fill="#0a0a0a" text-anchor="middle">곽상도</text>
<text transform="translate(387.9 599.0) scale(0.8 1)" font-size="8.3" font-weight="500" fill="#3f3f3f" text-anchor="middle">수성을</text>
<text transform="translate(387.9 610.4) scale(0.8 1)" font-size="10.6" font-weight="900" fill="#0a0a0a" text-anchor="middle">홍준표</text>
<text transform="translate(387.8 631.7) scale(0.8 1)" font-size="8.3" font-weight="500" fill="#6e2532" text-anchor="middle">북·강서을</text>
<text transform="translate(387.8 643.0) scale(0.8 1)" font-size="10.6" font-weight="900" fill="#0a0a0a" text-anchor="middle">김도읍</text>
<text transform="translate(387.7 664.3) scale(0.8 1)" font-size="8.3" font-weight="500" fill="#6e2532" text-anchor="middle">사상</text>
<text transform="translate(387.7 675.7) scale(0.8 1)" font-size="10.6" font-weight="900" fill="#0a0a0a" text-anchor="middle">장제원</text>
<text transform="translate(387.6 697.0) scale(0.8 1)" font-size="8.3" font-weight="500" fill="#6e2532" text-anchor="middle">서·동</text>
<text transform="translate(387.6 708.3) scale(0.8 1)" font-size="10.6" font-weight="900" fill="#0a0a0a" text-anchor="middle">안병길</text>
<text transform="translate(387.5 729.6) scale(0.8 1)" font-size="8.3" font-weight="500" fill="#6e2532" text-anchor="middle">중·영도</text>
<text transform="translate(387.5 741.0) scale(0.8 1)" font-size="10.6" font-weight="900" fill="#0a0a0a" text-anchor="middle">황보승희</text>
<text transform="translate(417.4 223.6) scale(0.8 1)" font-size="8.3" font-weight="500" fill="#3f3f3f" text-anchor="middle">강릉</text>
<text transform="translate(417.4 234.9) scale(0.8 1)" font-size="10.6" font-weight="900" fill="#0a0a0a" text-anchor="middle">권성동</text>
<text transform="translate(417.3 256.2) scale(0.8 1)" font-size="8.3" font-weight="500" fill="#213d5c" text-anchor="middle">원주을</text>
<text transform="translate(417.3 267.6) scale(0.8 1)" font-size="10.6" font-weight="900" fill="#0a0a0a" text-anchor="middle">송기헌</text>
<text transform="translate(426.2 280.0) scale(0.8 1)" font-size="8.3" font-weight="500" fill="#3a3a3a" text-anchor="middle">홍천·횡성·</text>
<text transform="translate(426.2 289.2) scale(0.8 1)" font-size="8.3" font-weight="500" fill="#3a3a3a" text-anchor="middle">영월·평창</text>
<text transform="translate(417.2 302.1) scale(0.8 1)" font-size="10.6" font-weight="900" fill="#0a0a0a" text-anchor="middle">유상범</text>
<text transform="translate(417.1 321.5) scale(0.8 1)" font-size="8.3" font-weight="500" fill="#6e2532" text-anchor="middle">여주·양평</text>
<text transform="translate(417.1 332.9) scale(0.8 1)" font-size="10.6" font-weight="900" fill="#0a0a0a" text-anchor="middle">김선교</text>
<text transform="translate(417.0 354.2) scale(0.8 1)" font-size="8.3" font-weight="500" fill="#213d5c" text-anchor="middle">성남 중원</text>
<text transform="translate(417.0 365.5) scale(0.8 1)" font-size="10.6" font-weight="900" fill="#0a0a0a" text-anchor="middle">윤영찬</text>
<text transform="translate(416.9 386.8) scale(0.8 1)" font-size="8.3" font-weight="500" fill="#213d5c" text-anchor="middle">광주을</text>
<text transform="translate(416.9 398.2) scale(0.8 1)" font-size="10.6" font-weight="900" fill="#0a0a0a" text-anchor="middle">임종성</text>
<text transform="translate(416.8 419.5) scale(0.8 1)" font-size="8.3" font-weight="500" fill="#6e2532" text-anchor="middle">안동·예천</text>
<text transform="translate(416.8 430.8) scale(0.8 1)" font-size="10.6" font-weight="900" fill="#0a0a0a" text-anchor="middle">김형동</text>
<text transform="translate(416.7 452.1) scale(0.8 1)" font-size="8.3" font-weight="500" fill="#6e2532" text-anchor="middle">구미을</text>
<text transform="translate(416.7 463.5) scale(0.8 1)" font-size="10.6" font-weight="900" fill="#0a0a0a" text-anchor="middle">김영식</text>
<text transform="translate(416.6 484.8) scale(0.8 1)" font-size="8.3" font-weight="500" fill="#6e2532" text-anchor="middle">구미갑</text>
<text transform="translate(416.6 496.1) scale(0.8 1)" font-size="10.6" font-weight="900" fill="#0a0a0a" text-anchor="middle">구자근</text>
<text transform="translate(416.5 517.4) scale(0.8 1)" font-size="8.3" font-weight="500" fill="#6e2532" text-anchor="middle">동을</text>
<text transform="translate(416.5 528.8) scale(0.8 1)" font-size="10.6" font-weight="900" fill="#0a0a0a" text-anchor="middle">강대식</text>
<text transform="translate(416.4 550.1) scale(0.8 1)" font-size="8.3" font-weight="500" fill="#6e2532" text-anchor="middle">동갑</text>
<text transform="translate(416.4 561.4) scale(0.8 1)" font-size="10.6" font-weight="900" fill="#0a0a0a" text-anchor="middle">류성걸</text>
<text transform="translate(416.3 582.7) scale(0.8 1)" font-size="8.3" font-weight="500" fill="#6e2532" text-anchor="middle">수성갑</text>
<text transform="translate(416.3 594.1) scale(0.8 1)" font-size="10.6" font-weight="900" fill="#0a0a0a" text-anchor="middle">주호영</text>
<text transform="translate(416.2 615.4) scale(0.8 1)" font-size="8.3" font-weight="500" fill="#213d5c" text-anchor="middle">북·강서갑</text>
<text transform="translate(416.2 626.7) scale(0.8 1)" font-size="10.6" font-weight="900" fill="#0a0a0a" text-anchor="middle">전재수</text>
<text transform="translate(416.1 648.0) scale(0.8 1)" font-size="8.3" font-weight="500" fill="#6e2532" text-anchor="middle">부산진갑</text>
<text transform="translate(416.1 659.4) scale(0.8 1)" font-size="10.6" font-weight="900" fill="#0a0a0a" text-anchor="middle">서병수</text>
<text transform="translate(416.0 680.7) scale(0.8 1)" font-size="8.3" font-weight="500" fill="#6e2532" text-anchor="middle">부산진을</text>
<text transform="translate(416.0 692.0) scale(0.8 1)" font-size="10.6" font-weight="900" fill="#0a0a0a" text-anchor="middle">이헌승</text>
<text transform="translate(415.9 713.3) scale(0.8 1)" font-size="8.3" font-weight="500" fill="#6e2532" text-anchor="middle">남갑</text>
<text transform="translate(415.9 724.7) scale(0.8 1)" font-size="10.6" font-weight="900" fill="#0a0a0a" text-anchor="middle">박수영</text>
<text transform="translate(450.4 298.0) scale(0.8 1)" font-size="8.3" font-weight="500" fill="#3a3a3a" text-anchor="middle">동해·태백·</text>
<text transform="translate(450.4 307.5) scale(0.8 1)" font-size="8.3" font-weight="500" fill="#3a3a3a" text-anchor="middle">삼척·정선</text>
<text transform="translate(445.4 318.9) scale(0.8 1)" font-size="10.6" font-weight="900" fill="#0a0a0a" text-anchor="middle">이철규</text>
<text transform="translate(445.3 337.8) scale(0.8 1)" font-size="8.3" font-weight="500" fill="#213d5c" text-anchor="middle">광주갑</text>
<text transform="translate(445.3 349.2) scale(0.8 1)" font-size="10.6" font-weight="900" fill="#0a0a0a" text-anchor="middle">소병훈</text>
<text transform="translate(445.2 370.5) scale(0.8 1)" font-size="8.3" font-weight="500" fill="#6e2532" text-anchor="middle">이천</text>
<text transform="translate(445.2 381.8) scale(0.8 1)" font-size="10.6" font-weight="900" fill="#0a0a0a" text-anchor="middle">송석준</text>
<text transform="translate(464.1 403.1) scale(0.8 1)" font-size="8.3" font-weight="500" fill="#3a3a3a" text-anchor="middle">영주·영양·봉화·울진</text>
<text transform="translate(445.1 414.5) scale(0.8 1)" font-size="10.6" font-weight="900" fill="#0a0a0a" text-anchor="middle">박형수</text>
<text transform="translate(445.0 431.1) scale(0.8 1)" font-size="8.3" font-weight="500" fill="#6e2532" text-anchor="middle">군위·의성·</text>
<text transform="translate(445.0 439.9) scale(0.8 1)" font-size="8.3" font-weight="500" fill="#6e2532" text-anchor="middle">청송·영덕</text>
<text transform="translate(445.0 452.0) scale(0.8 1)" font-size="10.6" font-weight="900" fill="#0a0a0a" text-anchor="middle">김희국</text>
<text transform="translate(444.9 468.4) scale(0.8 1)" font-size="8.3" font-weight="500" fill="#6e2532" text-anchor="middle">영천·청도</text>
<text transform="translate(444.9 479.8) scale(0.8 1)" font-size="10.6" font-weight="900" fill="#0a0a0a" text-anchor="middle">이만희</text>
<text transform="translate(444.8 501.1) scale(0.8 1)" font-size="8.3" font-weight="500" fill="#6e2532" text-anchor="middle">경산</text>
<text transform="translate(444.8 512.4) scale(0.8 1)" font-size="10.6" font-weight="900" fill="#0a0a0a" text-anchor="middle">윤두현</text>
<text transform="translate(444.7 533.7) scale(0.8 1)" font-size="8.3" font-weight="500" fill="#6e2532" text-anchor="middle">울주</text>
<text transform="translate(444.7 545.1) scale(0.8 1)" font-size="10.6" font-weight="900" fill="#0a0a0a" text-anchor="middle">서범수</text>
<text transform="translate(444.6 566.4) scale(0.8 1)" font-size="8.3" font-weight="500" fill="#6e2532" text-anchor="middle">남갑</text>
<text transform="translate(444.6 577.7) scale(0.8 1)" font-size="10.6" font-weight="900" fill="#0a0a0a" text-anchor="middle">이채익</text>
<text transform="translate(444.5 599.0) scale(0.8 1)" font-size="8.3" font-weight="500" fill="#6e2532" text-anchor="middle">금정</text>
<text transform="translate(444.5 610.4) scale(0.8 1)" font-size="10.6" font-weight="900" fill="#0a0a0a" text-anchor="middle">백종헌</text>
<text transform="translate(444.4 631.7) scale(0.8 1)" font-size="8.3" font-weight="500" fill="#6e2532" text-anchor="middle">동래</text>
<text transform="translate(444.4 643.0) scale(0.8 1)" font-size="10.6" font-weight="900" fill="#0a0a0a" text-anchor="middle">김희곤</text>
<text transform="translate(444.3 664.3) scale(0.8 1)" font-size="8.3" font-weight="500" fill="#6e2532" text-anchor="middle">연제</text>
<text transform="translate(444.3 675.7) scale(0.8 1)" font-size="10.6" font-weight="900" fill="#0a0a0a" text-anchor="middle">이주환</text>
<text transform="translate(444.2 697.0) scale(0.8 1)" font-size="8.3" font-weight="500" fill="#213d5c" text-anchor="middle">남을</text>
<text transform="translate(444.2 708.3) scale(0.8 1)" font-size="10.6" font-weight="900" fill="#0a0a0a" text-anchor="middle">박재호</text>
<text transform="translate(473.4 419.5) scale(0.8 1)" font-size="8.3" font-weight="500" fill="#6e2532" text-anchor="middle">포항 북</text>
<text transform="translate(473.4 430.8) scale(0.8 1)" font-size="10.6" font-weight="900" fill="#0a0a0a" text-anchor="middle">김정재</text>
<text transform="translate(473.3 452.1) scale(0.8 1)" font-size="8.3" font-weight="500" fill="#6e2532" text-anchor="middle">포항 남·울릉</text>
<text transform="translate(473.3 463.5) scale(0.8 1)" font-size="10.6" font-weight="900" fill="#0a0a0a" text-anchor="middle">김병욱</text>
<text transform="translate(473.2 484.8) scale(0.8 1)" font-size="8.3" font-weight="500" fill="#6e2532" text-anchor="middle">경주</text>
<text transform="translate(473.2 496.1) scale(0.8 1)" font-size="10.6" font-weight="900" fill="#0a0a0a" text-anchor="middle">김석기</text>
<text transform="translate(473.1 517.4) scale(0.8 1)" font-size="8.3" font-weight="500" fill="#213d5c" text-anchor="middle">북구</text>
<text transform="translate(473.1 528.8) scale(0.8 1)" font-size="10.6" font-weight="900" fill="#0a0a0a" text-anchor="middle">이상헌</text>
<text transform="translate(473.0 550.1) scale(0.8 1)" font-size="8.3" font-weight="500" fill="#6e2532" text-anchor="middle">중구</text>
<text transform="translate(473.0 561.4) scale(0.8 1)" font-size="10.6" font-weight="900" fill="#0a0a0a" text-anchor="middle">박성민</text>
<text transform="translate(472.9 582.7) scale(0.8 1)" font-size="8.3" font-weight="500" fill="#6e2532" text-anchor="middle">남을</text>
<text transform="translate(472.9 594.1) scale(0.8 1)" font-size="10.6" font-weight="900" fill="#0a0a0a" text-anchor="middle">김기현</text>
<text transform="translate(472.8 615.4) scale(0.8 1)" font-size="8.3" font-weight="500" fill="#6e2532" text-anchor="middle">해운대을</text>
<text transform="translate(472.8 626.7) scale(0.8 1)" font-size="10.6" font-weight="900" fill="#0a0a0a" text-anchor="middle">김미애</text>
<text transform="translate(472.7 648.0) scale(0.8 1)" font-size="8.3" font-weight="500" fill="#6e2532" text-anchor="middle">해운대갑</text>
<text transform="translate(472.7 659.4) scale(0.8 1)" font-size="10.6" font-weight="900" fill="#0a0a0a" text-anchor="middle">하태경</text>
<text transform="translate(472.6 680.7) scale(0.8 1)" font-size="8.3" font-weight="500" fill="#6e2532" text-anchor="middle">수영</text>
<text transform="translate(472.6 692.0) scale(0.8 1)" font-size="10.6" font-weight="900" fill="#0a0a0a" text-anchor="middle">전봉민</text>
<text transform="translate(501.2 566.4) scale(0.8 1)" font-size="8.3" font-weight="500" fill="#6e2532" text-anchor="middle">동구</text>
<text transform="translate(501.2 577.7) scale(0.8 1)" font-size="10.6" font-weight="900" fill="#0a0a0a" text-anchor="middle">권명호</text>
<text transform="translate(501.1 599.0) scale(0.8 1)" font-size="8.3" font-weight="500" fill="#6e2532" text-anchor="middle">기장</text>
<text transform="translate(501.1 610.4) scale(0.8 1)" font-size="10.6" font-weight="900" fill="#0a0a0a" text-anchor="middle">정동만</text>
<text transform="translate(439.4 784.9) scale(0.8 1)" font-size="8.3" font-weight="500" fill="#213d5c" text-anchor="middle">제주갑</text>
<text transform="translate(439.4 796.2) scale(0.8 1)" font-size="10.6" font-weight="900" fill="#0a0a0a" text-anchor="middle">송재호</text>
<text transform="translate(467.6 768.6) scale(0.8 1)" font-size="8.3" font-weight="500" fill="#213d5c" text-anchor="middle">제주을</text>
<text transform="translate(467.6 779.9) scale(0.8 1)" font-size="10.6" font-weight="900" fill="#0a0a0a" text-anchor="middle">오영훈</text>
<text transform="translate(467.6 801.2) scale(0.8 1)" font-size="8.3" font-weight="500" fill="#213d5c" text-anchor="middle">서귀포</text>
<text transform="translate(467.6 812.5) scale(0.8 1)" font-size="10.6" font-weight="900" fill="#0a0a0a" text-anchor="middle">위성곤</text>
</g>
<polyline points="396,803.6 431,746 502,746" fill="none" stroke="#444" stroke-width="0.9" stroke-dasharray="1.6 1.6"/>
<rect x="44.5" y="151.0" width="32.5" height="20.5" fill="#000"/>
<text transform="translate(60.8 166.8) scale(0.9 1)" font-size="15.5" font-weight="700" fill="#fff" text-anchor="middle">인천</text>
<rect x="287.9" y="100.8" width="32.0" height="20.3" fill="#000"/>
<text transform="translate(303.9 116.5) scale(0.9 1)" font-size="15.5" font-weight="700" fill="#fff" text-anchor="middle">서울</text>
<polygon points="299.4,120.8 308,120.8 303.7,135.4" fill="#000"/>
<rect x="440.7" y="220.0" width="31.3" height="19.5" fill="#000"/>
<text transform="translate(456.4 235.3) scale(0.9 1)" font-size="15.5" font-weight="700" fill="#fff" text-anchor="middle">강원</text>
<rect x="54.0" y="411.7" width="32.5" height="20.0" fill="#000"/>
<text transform="translate(70.2 427.3) scale(0.9 1)" font-size="15.5" font-weight="700" fill="#fff" text-anchor="middle">경기</text>
<rect x="492.0" y="427.5" width="31.5" height="20.5" fill="#000"/>
<text transform="translate(507.8 443.3) scale(0.9 1)" font-size="15.5" font-weight="700" fill="#fff" text-anchor="middle">경북</text>
<rect x="54.0" y="510.0" width="32.5" height="20.0" fill="#000"/>
<text transform="translate(70.2 525.6) scale(0.9 1)" font-size="15.5" font-weight="700" fill="#fff" text-anchor="middle">충남</text>
<rect x="54.0" y="606.7" width="32.5" height="20.8" fill="#000"/>
<text transform="translate(70.2 622.7) scale(0.9 1)" font-size="15.5" font-weight="700" fill="#fff" text-anchor="middle">전북</text>
<rect x="230.8" y="527.7" width="31.2" height="20.0" fill="#000"/>
<text transform="translate(246.4 543.3) scale(0.9 1)" font-size="15.5" font-weight="700" fill="#fff" text-anchor="middle">세종</text>
<rect x="230.8" y="573.0" width="31.2" height="20.4" fill="#000"/>
<text transform="translate(246.4 588.8) scale(0.9 1)" font-size="15.5" font-weight="700" fill="#fff" text-anchor="middle">대전</text>
<rect x="289.0" y="502.6" width="30.7" height="18.8" fill="#000"/>
<text transform="translate(304.4 517.6) scale(0.9 1)" font-size="15.5" font-weight="700" fill="#fff" text-anchor="middle">충북</text>
<rect x="344.0" y="556.0" width="30.7" height="20.0" fill="#000"/>
<text transform="translate(359.4 571.6) scale(0.9 1)" font-size="15.5" font-weight="700" fill="#fff" text-anchor="middle">대구</text>
<rect x="492.0" y="524.7" width="31.5" height="20.0" fill="#000"/>
<text transform="translate(507.8 540.3) scale(0.9 1)" font-size="15.5" font-weight="700" fill="#fff" text-anchor="middle">울산</text>
<rect x="491.4" y="657.4" width="32.1" height="20.1" fill="#000"/>
<text transform="translate(507.4 673.0) scale(0.9 1)" font-size="15.5" font-weight="700" fill="#fff" text-anchor="middle">부산</text>
<rect x="145.5" y="677.6" width="31.5" height="19.6" fill="#000"/>
<text transform="translate(161.2 693.0) scale(0.9 1)" font-size="15.5" font-weight="700" fill="#fff" text-anchor="middle">광주</text>
<rect x="49.4" y="774.2" width="31.4" height="20.1" fill="#000"/>
<text transform="translate(65.1 789.8) scale(0.9 1)" font-size="15.5" font-weight="700" fill="#fff" text-anchor="middle">전남</text>
<rect x="298.3" y="739.2" width="31.3" height="20.1" fill="#000"/>
<text transform="translate(314.0 754.8) scale(0.9 1)" font-size="15.5" font-weight="700" fill="#fff" text-anchor="middle">경남</text>
<rect x="491.4" y="776.0" width="32.1" height="20.3" fill="#000"/>
<text transform="translate(507.4 791.7) scale(0.9 1)" font-size="15.5" font-weight="700" fill="#fff" text-anchor="middle">제주</text>
<text transform="translate(20.0 827.2) scale(0.85 1)" font-size="7.6" font-weight="400" fill="#555" text-anchor="start" font-style="italic">자료/ 중앙선거관리위원회</text>
<g transform="translate(515.4 823.0) scale(1)">
<path d="M0.6 -5.3 C3.6 -5.3 5 -2.6 4.4 0.4 C3.8 3.4 1.2 5 -1.2 5.6 C-2.2 5.9 -3 5.4 -2.4 4.6 C-4.6 3.4 -5 0.4 -4 -2.2 C-3.2 -4.2 -1.4 -5.3 0.6 -5.3 Z" fill="#1f8bd0"/>
<path d="M1.4 -2.8 L-0.6 2.6 M-1.6 -0.6 L2.2 -1.2" stroke="#e9f4fb" stroke-width="0.9" fill="none" stroke-linecap="round"/>
<text x="5.8" y="3.4" font-size="7.7" font-weight="900" fill="#1d3d6e" textLength="26" lengthAdjust="spacingAndGlyphs">연합뉴스</text>
</g>
</g>
<text x="15" y="842.6" font-size="8.4" fill="#222" transform="scale(0.824 1)" style="transform-origin:15px 841px"><tspan font-weight="700">반종빈, 김토일, 장예진 기자</tspan> / 20200416 트위터 @yonhap_graphics  페이스북 tuney.kr/LeYN1</text>
<g id="right">
<rect x="551.6" y="10.2" width="596.2" height="821.3" fill="#fff" stroke="#a9a9a9" stroke-width="0.9"/>
<text x="564.5" y="52.6" font-size="39.5" font-weight="700" textLength="96" lengthAdjust="spacingAndGlyphs"><tspan fill="#7b9fcc" stroke="#7b9fcc" stroke-width="1.3">20</tspan><tspan fill="#3f6ea2" stroke="#3f6ea2" stroke-width="1.3">22</tspan></text>
<text x="665" y="52" font-size="33" font-weight="900" fill="#0e4a73" textLength="58" lengthAdjust="spacingAndGlyphs">대선</text>
<text x="566" y="77.6" font-size="16.5" fill="#111" textLength="180" lengthAdjust="spacingAndGlyphs"><tspan font-weight="500">20대 대통령 선거 </tspan><tspan font-weight="300" fill="#333">지역별 결과</tspan></text>
<polygon points="564.9,104.9 571.0,92.6 589.4,92.6 595.5,104.9 589.4,117.2 571.0,117.2" fill="#3b7dbd"/>
<polygon points="660.5,104.9 666.6,92.6 685.0,92.6 691.1,104.9 685.0,117.2 666.6,117.2" fill="#b13d42"/>
<text transform="translate(600.5 100.5) scale(0.92 1)" font-size="9.3" font-weight="400" fill="#444" text-anchor="start">더불어민주당</text>
<text transform="translate(600.5 115.3) scale(0.88 1)" font-size="14" font-weight="700" fill="#111" text-anchor="start">이재명</text>
<text transform="translate(696.0 100.5) scale(0.92 1)" font-size="9.3" font-weight="400" fill="#444" text-anchor="start">국민의힘</text>
<text transform="translate(696.0 115.3) scale(0.88 1)" font-size="14" font-weight="700" fill="#111" text-anchor="start">윤석열</text>
<text transform="translate(1139.5 32.3) scale(0.85 1)" font-size="9.2" font-weight="400" fill="#444" text-anchor="end">3월 10일 오전 5시30분 현재</text>
<text transform="translate(1139.5 44.1) scale(0.9 1)" font-size="10.2" font-weight="500" fill="#222" text-anchor="end">개표율 99.79%</text>
<g stroke="#fff" stroke-width="1.3" stroke-linejoin="round">
<polygon points="560.4,728.4 568.4,711.7 596.9,711.7 604.9,728.4 596.9,745.1 568.4,745.1" fill="#3b7dbd"/>
<polygon points="596.9,211.2 604.9,194.6 633.3,194.6 641.4,211.2 633.3,227.9 604.9,227.9" fill="#b13d42"/>
<polygon points="596.9,244.6 604.9,227.9 633.3,227.9 641.4,244.6 633.3,261.3 604.9,261.3" fill="#3b7dbd"/>
<polygon points="596.9,311.3 604.9,294.7 633.3,294.7 641.4,311.3 633.3,328.0 604.9,328.0" fill="#b13d42"/>
<polygon points="596.9,611.6 604.9,594.9 633.3,594.9 641.4,611.6 633.3,628.3 604.9,628.3" fill="#3b7dbd"/>
<polygon points="596.9,678.4 604.9,661.7 633.3,661.7 641.4,678.4 633.3,695.0 604.9,695.0" fill="#3b7dbd"/>
<polygon points="596.9,711.7 604.9,695.0 633.3,695.0 641.4,711.7 633.3,728.4 604.9,728.4" fill="#3b7dbd"/>
<polygon points="596.9,745.1 604.9,728.4 633.3,728.4 641.4,745.1 633.3,761.8 604.9,761.8" fill="#3b7dbd"/>
<polygon points="596.9,778.4 604.9,761.8 633.3,761.8 641.4,778.4 633.3,795.1 604.9,795.1" fill="#3b7dbd"/>
<polygon points="633.3,227.9 641.3,211.2 669.8,211.2 677.8,227.9 669.8,244.6 641.3,244.6" fill="#3b7dbd"/>
<polygon points="633.3,261.3 641.3,244.6 669.8,244.6 677.8,261.3 669.8,278.0 641.3,278.0" fill="#b13d42"/>
<polygon points="633.3,294.7 641.3,278.0 669.8,278.0 677.8,294.7 669.8,311.3 641.3,311.3" fill="#b13d42"/>
<polygon points="633.3,328.0 641.3,311.3 669.8,311.3 677.8,328.0 669.8,344.7 641.3,344.7" fill="#b13d42"/>
<polygon points="633.3,428.1 641.3,411.4 669.8,411.4 677.8,428.1 669.8,444.8 641.3,444.8" fill="#b13d42"/>
<polygon points="633.3,461.5 641.3,444.8 669.8,444.8 677.8,461.5 669.8,478.2 641.3,478.2" fill="#b13d42"/>
<polygon points="633.3,494.8 641.3,478.2 669.8,478.2 677.8,494.8 669.8,511.5 641.3,511.5" fill="#b13d42"/>
<polygon points="633.3,528.2 641.3,511.5 669.8,511.5 677.8,528.2 669.8,544.9 641.3,544.9" fill="#b13d42"/>
<polygon points="633.3,561.6 641.3,544.9 669.8,544.9 677.8,561.6 669.8,578.3 641.3,578.3" fill="#3b7dbd"/>
<polygon points="633.3,594.9 641.3,578.3 669.8,578.3 677.8,594.9 669.8,611.6 641.3,611.6" fill="#3b7dbd"/>
<polygon points="633.3,628.3 641.3,611.6 669.8,611.6 677.8,628.3 669.8,645.0 641.3,645.0" fill="#3b7dbd"/>
<polygon points="633.3,661.7 641.3,645.0 669.8,645.0 677.8,661.7 669.8,678.4 641.3,678.4" fill="#3b7dbd"/>
<polygon points="633.3,695.0 641.3,678.4 669.8,678.4 677.8,695.0 669.8,711.7 641.3,711.7" fill="#3b7dbd"/>
<polygon points="633.3,728.4 641.3,711.7 669.8,711.7 677.8,728.4 669.8,745.1 641.3,745.1" fill="#3b7dbd"/>
<polygon points="633.3,761.8 641.3,745.1 669.8,745.1 677.8,761.8 669.8,778.4 641.3,778.4" fill="#3b7dbd"/>
<polygon points="633.3,795.1 641.3,778.4 669.8,778.4 677.8,795.1 669.8,811.8 641.3,811.8" fill="#3b7dbd"/>
<polygon points="669.8,177.9 677.8,161.2 706.2,161.2 714.2,177.9 706.2,194.6 677.8,194.6" fill="#3b7dbd"/>
<polygon points="669.8,211.2 677.8,194.6 706.2,194.6 714.2,211.2 706.2,227.9 677.8,227.9" fill="#3b7dbd"/>
<polygon points="669.8,244.6 677.8,227.9 706.2,227.9 714.2,244.6 706.2,261.3 677.8,261.3" fill="#3b7dbd"/>
<polygon points="669.8,278.0 677.8,261.3 706.2,261.3 714.2,278.0 706.2,294.7 677.8,294.7" fill="#3b7dbd"/>
<polygon points="669.8,311.3 677.8,294.7 706.2,294.7 714.2,311.3 706.2,328.0 677.8,328.0" fill="#3b7dbd"/>
<polygon points="669.8,344.7 677.8,328.0 706.2,328.0 714.2,344.7 706.2,361.4 677.8,361.4" fill="#3b7dbd"/>
<polygon points="669.8,378.1 677.8,361.4 706.2,361.4 714.2,378.1 706.2,394.8 677.8,394.8" fill="#3b7dbd"/>
<polygon points="669.8,411.4 677.8,394.8 706.2,394.8 714.2,411.4 706.2,428.1 677.8,428.1" fill="#b13d42"/>
<polygon points="669.8,444.8 677.8,428.1 706.2,428.1 714.2,444.8 706.2,461.5 677.8,461.5" fill="#b13d42"/>
<polygon points="669.8,478.2 677.8,461.5 706.2,461.5 714.2,478.2 706.2,494.8 677.8,494.8" fill="#b13d42"/>
<polygon points="669.8,511.5 677.8,494.8 706.2,494.8 714.2,511.5 706.2,528.2 677.8,528.2" fill="#b13d42"/>
<polygon points="669.8,544.9 677.8,528.2 706.2,528.2 714.2,544.9 706.2,561.6 677.8,561.6" fill="#3b7dbd"/>
<polygon points="669.8,578.3 677.8,561.6 706.2,561.6 714.2,578.3 706.2,594.9 677.8,594.9" fill="#3b7dbd"/>
<polygon points="669.8,611.6 677.8,594.9 706.2,594.9 714.2,611.6 706.2,628.3 677.8,628.3" fill="#3b7dbd"/>
<polygon points="669.8,645.0 677.8,628.3 706.2,628.3 714.2,645.0 706.2,661.7 677.8,661.7" fill="#3b7dbd"/>
<polygon points="669.8,678.4 677.8,661.7 706.2,661.7 714.2,678.4 706.2,695.0 677.8,695.0" fill="#3b7dbd"/>
<polygon points="669.8,711.7 677.8,695.0 706.2,695.0 714.2,711.7 706.2,728.4 677.8,728.4" fill="#3b7dbd"/>
<polygon points="669.8,745.1 677.8,728.4 706.2,728.4 714.2,745.1 706.2,761.8 677.8,761.8" fill="#3b7dbd"/>
<polygon points="669.8,778.4 677.8,761.8 706.2,761.8 714.2,778.4 706.2,795.1 677.8,795.1" fill="#3b7dbd"/>
<polygon points="706.2,161.2 714.2,144.5 742.7,144.5 750.7,161.2 742.7,177.9 714.2,177.9" fill="#3b7dbd"/>
<polygon points="706.2,194.6 714.2,177.9 742.7,177.9 750.7,194.6 742.7,211.2 714.2,211.2" fill="#3b7dbd"/>
<polygon points="706.2,227.9 714.2,211.2 742.7,211.2 750.7,227.9 742.7,244.6 714.2,244.6" fill="#3b7dbd"/>
<polygon points="706.2,261.3 714.2,244.6 742.7,244.6 750.7,261.3 742.7,278.0 714.2,278.0" fill="#b13d42"/>
<polygon points="706.2,294.7 714.2,278.0 742.7,278.0 750.7,294.7 742.7,311.3 714.2,311.3" fill="#3b7dbd"/>
<polygon points="706.2,328.0 714.2,311.3 742.7,311.3 750.7,328.0 742.7,344.7 714.2,344.7" fill="#3b7dbd"/>
<polygon points="706.2,361.4 714.2,344.7 742.7,344.7 750.7,361.4 742.7,378.1 714.2,378.1" fill="#3b7dbd"/>
<polygon points="706.2,394.8 714.2,378.1 742.7,378.1 750.7,394.8 742.7,411.4 714.2,411.4" fill="#3b7dbd"/>
<polygon points="706.2,428.1 714.2,411.4 742.7,411.4 750.7,428.1 742.7,444.8 714.2,444.8" fill="#3b7dbd"/>
<polygon points="706.2,461.5 714.2,444.8 742.7,444.8 750.7,461.5 742.7,478.2 714.2,478.2" fill="#b13d42"/>
<polygon points="706.2,494.8 714.2,478.2 742.7,478.2 750.7,494.8 742.7,511.5 714.2,511.5" fill="#b13d42"/>
<polygon points="706.2,528.2 714.2,511.5 742.7,511.5 750.7,528.2 742.7,544.9 714.2,544.9" fill="#3b7dbd"/>
<polygon points="706.2,561.6 714.2,544.9 742.7,544.9 750.7,561.6 742.7,578.3 714.2,578.3" fill="#3b7dbd"/>
<polygon points="706.2,594.9 714.2,578.3 742.7,578.3 750.7,594.9 742.7,611.6 714.2,611.6" fill="#3b7dbd"/>
<polygon points="706.2,628.3 714.2,611.6 742.7,611.6 750.7,628.3 742.7,645.0 714.2,645.0" fill="#3b7dbd"/>
<polygon points="706.2,661.7 714.2,645.0 742.7,645.0 750.7,661.7 742.7,678.4 714.2,678.4" fill="#3b7dbd"/>
<polygon points="706.2,695.0 714.2,678.4 742.7,678.4 750.7,695.0 742.7,711.7 714.2,711.7" fill="#3b7dbd"/>
<polygon points="706.2,728.4 714.2,711.7 742.7,711.7 750.7,728.4 742.7,745.1 714.2,745.1" fill="#3b7dbd"/>
<polygon points="706.2,761.8 714.2,745.1 742.7,745.1 750.7,761.8 742.7,778.4 714.2,778.4" fill="#3b7dbd"/>
<polygon points="706.2,795.1 714.2,778.4 742.7,778.4 750.7,795.1 742.7,811.8 714.2,811.8" fill="#3b7dbd"/>
<polygon points="742.6,144.5 750.7,127.8 779.1,127.8 787.1,144.5 779.1,161.2 750.7,161.2" fill="#3b7dbd"/>
<polygon points="742.6,177.9 750.7,161.2 779.1,161.2 787.1,177.9 779.1,194.6 750.7,194.6" fill="#3b7dbd"/>
<polygon points="742.6,211.2 750.7,194.6 779.1,194.6 787.1,211.2 779.1,227.9 750.7,227.9" fill="#b13d42"/>
<polygon points="742.6,244.6 750.7,227.9 779.1,227.9 787.1,244.6 779.1,261.3 750.7,261.3" fill="#3b7dbd"/>
<polygon points="742.6,278.0 750.7,261.3 779.1,261.3 787.1,278.0 779.1,294.7 750.7,294.7" fill="#3b7dbd"/>
<polygon points="742.6,311.3 750.7,294.7 779.1,294.7 787.1,311.3 779.1,328.0 750.7,328.0" fill="#3b7dbd"/>
<polygon points="742.6,344.7 750.7,328.0 779.1,328.0 787.1,344.7 779.1,361.4 750.7,361.4" fill="#3b7dbd"/>
<polygon points="742.6,378.1 750.7,361.4 779.1,361.4 787.1,378.1 779.1,394.8 750.7,394.8" fill="#3b7dbd"/>
<polygon points="742.6,411.4 750.7,394.8 779.1,394.8 787.1,411.4 779.1,428.1 750.7,428.1" fill="#3b7dbd"/>
<polygon points="742.6,444.8 750.7,428.1 779.1,428.1 787.1,444.8 779.1,461.5 750.7,461.5" fill="#b13d42"/>
<polygon points="742.6,478.2 750.7,461.5 779.1,461.5 787.1,478.2 779.1,494.8 750.7,494.8" fill="#b13d42"/>
<polygon points="742.6,511.5 750.7,494.8 779.1,494.8 787.1,511.5 779.1,528.2 750.7,528.2" fill="#b13d42"/>
<polygon points="742.6,544.9 750.7,528.2 779.1,528.2 787.1,544.9 779.1,561.6 750.7,561.6" fill="#b13d42"/>
<polygon points="742.6,578.3 750.7,561.6 779.1,561.6 787.1,578.3 779.1,594.9 750.7,594.9" fill="#3b7dbd"/>
<polygon points="742.6,611.6 750.7,594.9 779.1,594.9 787.1,611.6 779.1,628.3 750.7,628.3" fill="#3b7dbd"/>
<polygon points="742.6,645.0 750.7,628.3 779.1,628.3 787.1,645.0 779.1,661.7 750.7,661.7" fill="#3b7dbd"/>
<polygon points="742.6,678.4 750.7,661.7 779.1,661.7 787.1,678.4 779.1,695.0 750.7,695.0" fill="#3b7dbd"/>
<polygon points="742.6,711.7 750.7,695.0 779.1,695.0 787.1,711.7 779.1,728.4 750.7,728.4" fill="#3b7dbd"/>
<polygon points="742.6,745.1 750.7,728.4 779.1,728.4 787.1,745.1 779.1,761.8 750.7,761.8" fill="#3b7dbd"/>
<polygon points="779.1,127.8 787.1,111.1 815.6,111.1 823.6,127.8 815.6,144.5 787.1,144.5" fill="#3b7dbd"/>
<polygon points="779.1,161.2 787.1,144.5 815.6,144.5 823.6,161.2 815.6,177.9 787.1,177.9" fill="#3b7dbd"/>
<polygon points="779.1,194.6 787.1,177.9 815.6,177.9 823.6,194.6 815.6,211.2 787.1,211.2" fill="#b13d42"/>
<polygon points="779.1,227.9 787.1,211.2 815.6,211.2 823.6,227.9 815.6,244.6 787.1,244.6" fill="#b13d42"/>
<polygon points="779.1,261.3 787.1,244.6 815.6,244.6 823.6,261.3 815.6,278.0 787.1,278.0" fill="#b13d42"/>
<polygon points="779.1,294.7 787.1,278.0 815.6,278.0 823.6,294.7 815.6,311.3 787.1,311.3" fill="#3b7dbd"/>
<polygon points="779.1,328.0 787.1,311.3 815.6,311.3 823.6,328.0 815.6,344.7 787.1,344.7" fill="#3b7dbd"/>
<polygon points="779.1,361.4 787.1,344.7 815.6,344.7 823.6,361.4 815.6,378.1 787.1,378.1" fill="#3b7dbd"/>
<polygon points="779.1,394.8 787.1,378.1 815.6,378.1 823.6,394.8 815.6,411.4 787.1,411.4" fill="#3b7dbd"/>
<polygon points="779.1,428.1 787.1,411.4 815.6,411.4 823.6,428.1 815.6,444.8 787.1,444.8" fill="#3b7dbd"/>
<polygon points="779.1,461.5 787.1,444.8 815.6,444.8 823.6,461.5 815.6,478.2 787.1,478.2" fill="#b13d42"/>
<polygon points="779.1,494.8 787.1,478.2 815.6,478.2 823.6,494.8 815.6,511.5 787.1,511.5" fill="#3b7dbd"/>
<polygon points="779.1,528.2 787.1,511.5 815.6,511.5 823.6,528.2 815.6,544.9 787.1,544.9" fill="#b13d42"/>
<polygon points="779.1,561.6 787.1,544.9 815.6,544.9 823.6,561.6 815.6,578.3 787.1,578.3" fill="#b13d42"/>
<polygon points="779.1,594.9 787.1,578.3 815.6,578.3 823.6,594.9 815.6,611.6 787.1,611.6" fill="#3b7dbd"/>
<polygon points="779.1,628.3 787.1,611.6 815.6,611.6 823.6,628.3 815.6,645.0 787.1,645.0" fill="#3b7dbd"/>
<polygon points="779.1,661.7 787.1,645.0 815.6,645.0 823.6,661.7 815.6,678.4 787.1,678.4" fill="#3b7dbd"/>
<polygon points="779.1,695.0 787.1,678.4 815.6,678.4 823.6,695.0 815.6,711.7 787.1,711.7" fill="#3b7dbd"/>
<polygon points="779.1,728.4 787.1,711.7 815.6,711.7 823.6,728.4 815.6,745.1 787.1,745.1" fill="#3b7dbd"/>
<polygon points="815.5,77.8 823.6,61.1 852.0,61.1 860.0,77.8 852.0,94.5 823.6,94.5" fill="#b13d42"/>
<polygon points="815.5,111.1 823.6,94.5 852.0,94.5 860.0,111.1 852.0,127.8 823.6,127.8" fill="#3b7dbd"/>
<polygon points="815.5,144.5 823.6,127.8 852.0,127.8 860.0,144.5 852.0,161.2 823.6,161.2" fill="#3b7dbd"/>
<polygon points="815.5,177.9 823.6,161.2 852.0,161.2 860.0,177.9 852.0,194.6 823.6,194.6" fill="#3b7dbd"/>
<polygon points="815.5,211.2 823.6,194.6 852.0,194.6 860.0,211.2 852.0,227.9 823.6,227.9" fill="#b13d42"/>
<polygon points="815.5,244.6 823.6,227.9 852.0,227.9 860.0,244.6 852.0,261.3 823.6,261.3" fill="#b13d42"/>
<polygon points="815.5,278.0 823.6,261.3 852.0,261.3 860.0,278.0 852.0,294.7 823.6,294.7" fill="#b13d42"/>
<polygon points="815.5,311.3 823.6,294.7 852.0,294.7 860.0,311.3 852.0,328.0 823.6,328.0" fill="#3b7dbd"/>
<polygon points="815.5,344.7 823.6,328.0 852.0,328.0 860.0,344.7 852.0,361.4 823.6,361.4" fill="#3b7dbd"/>
<polygon points="815.5,378.1 823.6,361.4 852.0,361.4 860.0,378.1 852.0,394.8 823.6,394.8" fill="#3b7dbd"/>
<polygon points="815.5,411.4 823.6,394.8 852.0,394.8 860.0,411.4 852.0,428.1 823.6,428.1" fill="#3b7dbd"/>
<polygon points="815.5,444.8 823.6,428.1 852.0,428.1 860.0,444.8 852.0,461.5 823.6,461.5" fill="#3b7dbd"/>
<polygon points="815.5,478.2 823.6,461.5 852.0,461.5 860.0,478.2 852.0,494.8 823.6,494.8" fill="#b13d42"/>
<polygon points="815.5,511.5 823.6,494.8 852.0,494.8 860.0,511.5 852.0,528.2 823.6,528.2" fill="#b13d42"/>
<polygon points="815.5,544.9 823.6,528.2 852.0,528.2 860.0,544.9 852.0,561.6 823.6,561.6" fill="#b13d42"/>
<polygon points="815.5,578.3 823.6,561.6 852.0,561.6 860.0,578.3 852.0,594.9 823.6,594.9" fill="#b13d42"/>
<polygon points="815.5,611.6 823.6,594.9 852.0,594.9 860.0,611.6 852.0,628.3 823.6,628.3" fill="#b13d42"/>
<polygon points="815.5,645.0 823.6,628.3 852.0,628.3 860.0,645.0 852.0,661.7 823.6,661.7" fill="#b13d42"/>
<polygon points="815.5,678.4 823.6,661.7 852.0,661.7 860.0,678.4 852.0,695.0 823.6,695.0" fill="#b13d42"/>
<polygon points="815.5,711.7 823.6,695.0 852.0,695.0 860.0,711.7 852.0,728.4 823.6,728.4" fill="#b13d42"/>
<polygon points="852.0,94.5 860.0,77.8 888.5,77.8 896.5,94.5 888.5,111.1 860.0,111.1" fill="#3b7dbd"/>
<polygon points="852.0,127.8 860.0,111.1 888.5,111.1 896.5,127.8 888.5,144.5 860.0,144.5" fill="#3b7dbd"/>
<polygon points="852.0,161.2 860.0,144.5 888.5,144.5 896.5,161.2 888.5,177.9 860.0,177.9" fill="#3b7dbd"/>
<polygon points="852.0,194.6 860.0,177.9 888.5,177.9 896.5,194.6 888.5,211.2 860.0,211.2" fill="#b13d42"/>
<polygon points="852.0,227.9 860.0,211.2 888.5,211.2 896.5,227.9 888.5,244.6 860.0,244.6" fill="#b13d42"/>
<polygon points="852.0,261.3 860.0,244.6 888.5,244.6 896.5,261.3 888.5,278.0 860.0,278.0" fill="#b13d42"/>
<polygon points="852.0,294.7 860.0,278.0 888.5,278.0 896.5,294.7 888.5,311.3 860.0,311.3" fill="#b13d42"/>
<polygon points="852.0,328.0 860.0,311.3 888.5,311.3 896.5,328.0 888.5,344.7 860.0,344.7" fill="#b13d42"/>
<polygon points="852.0,361.4 860.0,344.7 888.5,344.7 896.5,361.4 888.5,378.1 860.0,378.1" fill="#3b7dbd"/>
<polygon points="852.0,394.8 860.0,378.1 888.5,378.1 896.5,394.8 888.5,411.4 860.0,411.4" fill="#b13d42"/>
<polygon points="852.0,428.1 860.0,411.4 888.5,411.4 896.5,428.1 888.5,444.8 860.0,444.8" fill="#b13d42"/>
<polygon points="852.0,461.5 860.0,444.8 888.5,444.8 896.5,461.5 888.5,478.2 860.0,478.2" fill="#b13d42"/>
<polygon points="852.0,494.8 860.0,478.2 888.5,478.2 896.5,494.8 888.5,511.5 860.0,511.5" fill="#b13d42"/>
<polygon points="852.0,528.2 860.0,511.5 888.5,511.5 896.5,528.2 888.5,544.9 860.0,544.9" fill="#b13d42"/>
<polygon points="852.0,561.6 860.0,544.9 888.5,544.9 896.5,561.6 888.5,578.3 860.0,578.3" fill="#b13d42"/>
<polygon points="852.0,594.9 860.0,578.3 888.5,578.3 896.5,594.9 888.5,611.6 860.0,611.6" fill="#b13d42"/>
<polygon points="852.0,628.3 860.0,611.6 888.5,611.6 896.5,628.3 888.5,645.0 860.0,645.0" fill="#b13d42"/>
<polygon points="852.0,661.7 860.0,645.0 888.5,645.0 896.5,661.7 888.5,678.4 860.0,678.4" fill="#b13d42"/>
<polygon points="852.0,695.0 860.0,678.4 888.5,678.4 896.5,695.0 888.5,711.7 860.0,711.7" fill="#b13d42"/>
<polygon points="852.0,728.4 860.0,711.7 888.5,711.7 896.5,728.4 888.5,745.1 860.0,745.1" fill="#b13d42"/>
<polygon points="888.5,77.8 896.5,61.1 924.9,61.1 933.0,77.8 924.9,94.5 896.5,94.5" fill="#b13d42"/>
<polygon points="888.5,111.1 896.5,94.5 924.9,94.5 933.0,111.1 924.9,127.8 896.5,127.8" fill="#b13d42"/>
<polygon points="888.5,144.5 896.5,127.8 924.9,127.8 933.0,144.5 924.9,161.2 896.5,161.2" fill="#3b7dbd"/>
<polygon points="888.5,177.9 896.5,161.2 924.9,161.2 933.0,177.9 924.9,194.6 896.5,194.6" fill="#3b7dbd"/>
<polygon points="888.5,211.2 896.5,194.6 924.9,194.6 933.0,211.2 924.9,227.9 896.5,227.9" fill="#b13d42"/>
<polygon points="888.5,244.6 896.5,227.9 924.9,227.9 933.0,244.6 924.9,261.3 896.5,261.3" fill="#b13d42"/>
<polygon points="888.5,278.0 896.5,261.3 924.9,261.3 933.0,278.0 924.9,294.7 896.5,294.7" fill="#3b7dbd"/>
<polygon points="888.5,311.3 896.5,294.7 924.9,294.7 933.0,311.3 924.9,328.0 896.5,328.0" fill="#b13d42"/>
<polygon points="888.5,344.7 896.5,328.0 924.9,328.0 933.0,344.7 924.9,361.4 896.5,361.4" fill="#3b7dbd"/>
<polygon points="888.5,378.1 896.5,361.4 924.9,361.4 933.0,378.1 924.9,394.8 896.5,394.8" fill="#3b7dbd"/>
<polygon points="888.5,411.4 896.5,394.8 924.9,394.8 933.0,411.4 924.9,428.1 896.5,428.1" fill="#b13d42"/>
<polygon points="888.5,444.8 896.5,428.1 924.9,428.1 933.0,444.8 924.9,461.5 896.5,461.5" fill="#b13d42"/>
<polygon points="888.5,478.2 896.5,461.5 924.9,461.5 933.0,478.2 924.9,494.8 896.5,494.8" fill="#b13d42"/>
<polygon points="888.5,511.5 896.5,494.8 924.9,494.8 933.0,511.5 924.9,528.2 896.5,528.2" fill="#b13d42"/>
<polygon points="888.5,544.9 896.5,528.2 924.9,528.2 933.0,544.9 924.9,561.6 896.5,561.6" fill="#b13d42"/>
<polygon points="888.5,578.3 896.5,561.6 924.9,561.6 933.0,578.3 924.9,594.9 896.5,594.9" fill="#b13d42"/>
<polygon points="888.5,611.6 896.5,594.9 924.9,594.9 933.0,611.6 924.9,628.3 896.5,628.3" fill="#b13d42"/>
<polygon points="888.5,645.0 896.5,628.3 924.9,628.3 933.0,645.0 924.9,661.7 896.5,661.7" fill="#b13d42"/>
<polygon points="888.5,678.4 896.5,661.7 924.9,661.7 933.0,678.4 924.9,695.0 896.5,695.0" fill="#b13d42"/>
<polygon points="888.5,711.7 896.5,695.0 924.9,695.0 933.0,711.7 924.9,728.4 896.5,728.4" fill="#b13d42"/>
<polygon points="924.9,94.5 932.9,77.8 961.4,77.8 969.4,94.5 961.4,111.1 932.9,111.1" fill="#b13d42"/>
<polygon points="924.9,127.8 932.9,111.1 961.4,111.1 969.4,127.8 961.4,144.5 932.9,144.5" fill="#b13d42"/>
<polygon points="924.9,161.2 932.9,144.5 961.4,144.5 969.4,161.2 961.4,177.9 932.9,177.9" fill="#b13d42"/>
<polygon points="924.9,194.6 932.9,177.9 961.4,177.9 969.4,194.6 961.4,211.2 932.9,211.2" fill="#3b7dbd"/>
<polygon points="924.9,227.9 932.9,211.2 961.4,211.2 969.4,227.9 961.4,244.6 932.9,244.6" fill="#b13d42"/>
<polygon points="924.9,261.3 932.9,244.6 961.4,244.6 969.4,261.3 961.4,278.0 932.9,278.0" fill="#3b7dbd"/>
<polygon points="924.9,294.7 932.9,278.0 961.4,278.0 969.4,294.7 961.4,311.3 932.9,311.3" fill="#3b7dbd"/>
<polygon points="924.9,328.0 932.9,311.3 961.4,311.3 969.4,328.0 961.4,344.7 932.9,344.7" fill="#b13d42"/>
<polygon points="924.9,361.4 932.9,344.7 961.4,344.7 969.4,361.4 961.4,378.1 932.9,378.1" fill="#b13d42"/>
<polygon points="924.9,394.8 932.9,378.1 961.4,378.1 969.4,394.8 961.4,411.4 932.9,411.4" fill="#b13d42"/>
<polygon points="924.9,428.1 932.9,411.4 961.4,411.4 969.4,428.1 961.4,444.8 932.9,444.8" fill="#b13d42"/>
<polygon points="924.9,461.5 932.9,444.8 961.4,444.8 969.4,461.5 961.4,478.2 932.9,478.2" fill="#b13d42"/>
<polygon points="924.9,494.8 932.9,478.2 961.4,478.2 969.4,494.8 961.4,511.5 932.9,511.5" fill="#b13d42"/>
<polygon points="924.9,528.2 932.9,511.5 961.4,511.5 969.4,528.2 961.4,544.9 932.9,544.9" fill="#b13d42"/>
<polygon points="924.9,561.6 932.9,544.9 961.4,544.9 969.4,561.6 961.4,578.3 932.9,578.3" fill="#b13d42"/>
<polygon points="924.9,594.9 932.9,578.3 961.4,578.3 969.4,594.9 961.4,611.6 932.9,611.6" fill="#b13d42"/>
<polygon points="924.9,628.3 932.9,611.6 961.4,611.6 969.4,628.3 961.4,645.0 932.9,645.0" fill="#b13d42"/>
<polygon points="924.9,661.7 932.9,645.0 961.4,645.0 969.4,661.7 961.4,678.4 932.9,678.4" fill="#b13d42"/>
<polygon points="924.9,695.0 932.9,678.4 961.4,678.4 969.4,695.0 961.4,711.7 932.9,711.7" fill="#b13d42"/>
<polygon points="961.4,77.8 969.4,61.1 997.8,61.1 1005.9,77.8 997.8,94.5 969.4,94.5" fill="#b13d42"/>
<polygon points="961.4,111.1 969.4,94.5 997.8,94.5 1005.9,111.1 997.8,127.8 969.4,127.8" fill="#b13d42"/>
<polygon points="961.4,144.5 969.4,127.8 997.8,127.8 1005.9,144.5 997.8,161.2 969.4,161.2" fill="#b13d42"/>
<polygon points="961.4,177.9 969.4,161.2 997.8,161.2 1005.9,177.9 997.8,194.6 969.4,194.6" fill="#b13d42"/>
<polygon points="961.4,211.2 969.4,194.6 997.8,194.6 1005.9,211.2 997.8,227.9 969.4,227.9" fill="#b13d42"/>
<polygon points="961.4,244.6 969.4,227.9 997.8,227.9 1005.9,244.6 997.8,261.3 969.4,261.3" fill="#3b7dbd"/>
<polygon points="961.4,278.0 969.4,261.3 997.8,261.3 1005.9,278.0 997.8,294.7 969.4,294.7" fill="#b13d42"/>
<polygon points="961.4,311.3 969.4,294.7 997.8,294.7 1005.9,311.3 997.8,328.0 969.4,328.0" fill="#b13d42"/>
<polygon points="961.4,344.7 969.4,328.0 997.8,328.0 1005.9,344.7 997.8,361.4 969.4,361.4" fill="#b13d42"/>
<polygon points="961.4,378.1 969.4,361.4 997.8,361.4 1005.9,378.1 997.8,394.8 969.4,394.8" fill="#b13d42"/>
<polygon points="961.4,411.4 969.4,394.8 997.8,394.8 1005.9,411.4 997.8,428.1 969.4,428.1" fill="#b13d42"/>
<polygon points="961.4,444.8 969.4,428.1 997.8,428.1 1005.9,444.8 997.8,461.5 969.4,461.5" fill="#b13d42"/>
<polygon points="961.4,478.2 969.4,461.5 997.8,461.5 1005.9,478.2 997.8,494.8 969.4,494.8" fill="#b13d42"/>
<polygon points="961.4,511.5 969.4,494.8 997.8,494.8 1005.9,511.5 997.8,528.2 969.4,528.2" fill="#b13d42"/>
<polygon points="961.4,544.9 969.4,528.2 997.8,528.2 1005.9,544.9 997.8,561.6 969.4,561.6" fill="#b13d42"/>
<polygon points="961.4,578.3 969.4,561.6 997.8,561.6 1005.9,578.3 997.8,594.9 969.4,594.9" fill="#b13d42"/>
<polygon points="961.4,611.6 969.4,594.9 997.8,594.9 1005.9,611.6 997.8,628.3 969.4,628.3" fill="#b13d42"/>
<polygon points="961.4,645.0 969.4,628.3 997.8,628.3 1005.9,645.0 997.8,661.7 969.4,661.7" fill="#b13d42"/>
<polygon points="961.4,678.4 969.4,661.7 997.8,661.7 1005.9,678.4 997.8,695.0 969.4,695.0" fill="#b13d42"/>
<polygon points="997.8,61.1 1005.8,44.4 1034.2,44.4 1042.3,61.1 1034.2,77.8 1005.8,77.8" fill="#b13d42"/>
<polygon points="997.8,94.5 1005.8,77.8 1034.2,77.8 1042.3,94.5 1034.2,111.1 1005.8,111.1" fill="#b13d42"/>
<polygon points="997.8,127.8 1005.8,111.1 1034.2,111.1 1042.3,127.8 1034.2,144.5 1005.8,144.5" fill="#b13d42"/>
<polygon points="997.8,161.2 1005.8,144.5 1034.2,144.5 1042.3,161.2 1034.2,177.9 1005.8,177.9" fill="#b13d42"/>
<polygon points="997.8,194.6 1005.8,177.9 1034.2,177.9 1042.3,194.6 1034.2,211.2 1005.8,211.2" fill="#b13d42"/>
<polygon points="997.8,227.9 1005.8,211.2 1034.2,211.2 1042.3,227.9 1034.2,244.6 1005.8,244.6" fill="#b13d42"/>
<polygon points="997.8,261.3 1005.8,244.6 1034.2,244.6 1042.3,261.3 1034.2,278.0 1005.8,278.0" fill="#b13d42"/>
<polygon points="997.8,294.7 1005.8,278.0 1034.2,278.0 1042.3,294.7 1034.2,311.3 1005.8,311.3" fill="#b13d42"/>
<polygon points="997.8,328.0 1005.8,311.3 1034.2,311.3 1042.3,328.0 1034.2,344.7 1005.8,344.7" fill="#b13d42"/>
<polygon points="997.8,361.4 1005.8,344.7 1034.2,344.7 1042.3,361.4 1034.2,378.1 1005.8,378.1" fill="#b13d42"/>
<polygon points="997.8,394.8 1005.8,378.1 1034.2,378.1 1042.3,394.8 1034.2,411.4 1005.8,411.4" fill="#b13d42"/>
<polygon points="997.8,428.1 1005.8,411.4 1034.2,411.4 1042.3,428.1 1034.2,444.8 1005.8,444.8" fill="#b13d42"/>
<polygon points="997.8,461.5 1005.8,444.8 1034.2,444.8 1042.3,461.5 1034.2,478.2 1005.8,478.2" fill="#b13d42"/>
<polygon points="997.8,494.8 1005.8,478.2 1034.2,478.2 1042.3,494.8 1034.2,511.5 1005.8,511.5" fill="#b13d42"/>
<polygon points="997.8,528.2 1005.8,511.5 1034.2,511.5 1042.3,528.2 1034.2,544.9 1005.8,544.9" fill="#b13d42"/>
<polygon points="997.8,561.6 1005.8,544.9 1034.2,544.9 1042.3,561.6 1034.2,578.3 1005.8,578.3" fill="#b13d42"/>
<polygon points="997.8,594.9 1005.8,578.3 1034.2,578.3 1042.3,594.9 1034.2,611.6 1005.8,611.6" fill="#b13d42"/>
<polygon points="997.8,628.3 1005.8,611.6 1034.2,611.6 1042.3,628.3 1034.2,645.0 1005.8,645.0" fill="#b13d42"/>
<polygon points="997.8,661.7 1005.8,645.0 1034.2,645.0 1042.3,661.7 1034.2,678.4 1005.8,678.4" fill="#b13d42"/>
<polygon points="1034.2,144.5 1042.3,127.8 1070.7,127.8 1078.8,144.5 1070.7,161.2 1042.3,161.2" fill="#b13d42"/>
<polygon points="1034.2,177.9 1042.3,161.2 1070.7,161.2 1078.8,177.9 1070.7,194.6 1042.3,194.6" fill="#b13d42"/>
<polygon points="1034.2,211.2 1042.3,194.6 1070.7,194.6 1078.8,211.2 1070.7,227.9 1042.3,227.9" fill="#b13d42"/>
<polygon points="1034.2,244.6 1042.3,227.9 1070.7,227.9 1078.8,244.6 1070.7,261.3 1042.3,261.3" fill="#b13d42"/>
<polygon points="1034.2,278.0 1042.3,261.3 1070.7,261.3 1078.8,278.0 1070.7,294.7 1042.3,294.7" fill="#b13d42"/>
<polygon points="1034.2,311.3 1042.3,294.7 1070.7,294.7 1078.8,311.3 1070.7,328.0 1042.3,328.0" fill="#b13d42"/>
<polygon points="1034.2,344.7 1042.3,328.0 1070.7,328.0 1078.8,344.7 1070.7,361.4 1042.3,361.4" fill="#b13d42"/>
<polygon points="1034.2,378.1 1042.3,361.4 1070.7,361.4 1078.8,378.1 1070.7,394.8 1042.3,394.8" fill="#b13d42"/>
<polygon points="1034.2,411.4 1042.3,394.8 1070.7,394.8 1078.8,411.4 1070.7,428.1 1042.3,428.1" fill="#b13d42"/>
<polygon points="1034.2,444.8 1042.3,428.1 1070.7,428.1 1078.8,444.8 1070.7,461.5 1042.3,461.5" fill="#b13d42"/>
<polygon points="1034.2,478.2 1042.3,461.5 1070.7,461.5 1078.8,478.2 1070.7,494.8 1042.3,494.8" fill="#b13d42"/>
<polygon points="1034.2,511.5 1042.3,494.8 1070.7,494.8 1078.8,511.5 1070.7,528.2 1042.3,528.2" fill="#b13d42"/>
<polygon points="1034.2,544.9 1042.3,528.2 1070.7,528.2 1078.8,544.9 1070.7,561.6 1042.3,561.6" fill="#b13d42"/>
<polygon points="1034.2,578.3 1042.3,561.6 1070.7,561.6 1078.8,578.3 1070.7,594.9 1042.3,594.9" fill="#b13d42"/>
<polygon points="1034.2,611.6 1042.3,594.9 1070.7,594.9 1078.8,611.6 1070.7,628.3 1042.3,628.3" fill="#b13d42"/>
<polygon points="1034.2,645.0 1042.3,628.3 1070.7,628.3 1078.8,645.0 1070.7,661.7 1042.3,661.7" fill="#b13d42"/>
<polygon points="1070.7,194.6 1078.8,177.9 1107.2,177.9 1115.2,194.6 1107.2,211.2 1078.8,211.2" fill="#b13d42"/>
<polygon points="1070.7,227.9 1078.8,211.2 1107.2,211.2 1115.2,227.9 1107.2,244.6 1078.8,244.6" fill="#b13d42"/>
<polygon points="1070.7,261.3 1078.8,244.6 1107.2,244.6 1115.2,261.3 1107.2,278.0 1078.8,278.0" fill="#b13d42"/>
<polygon points="1070.7,294.7 1078.8,278.0 1107.2,278.0 1115.2,294.7 1107.2,311.3 1078.8,311.3" fill="#b13d42"/>
<polygon points="1070.7,328.0 1078.8,311.3 1107.2,311.3 1115.2,328.0 1107.2,344.7 1078.8,344.7" fill="#b13d42"/>
<polygon points="1070.7,361.4 1078.8,344.7 1107.2,344.7 1115.2,361.4 1107.2,378.1 1078.8,378.1" fill="#b13d42"/>
<polygon points="1070.7,394.8 1078.8,378.1 1107.2,378.1 1115.2,394.8 1107.2,411.4 1078.8,411.4" fill="#b13d42"/>
<polygon points="1070.7,428.1 1078.8,411.4 1107.2,411.4 1115.2,428.1 1107.2,444.8 1078.8,444.8" fill="#b13d42"/>
<polygon points="1070.7,461.5 1078.8,444.8 1107.2,444.8 1115.2,461.5 1107.2,478.2 1078.8,478.2" fill="#3b7dbd"/>
<polygon points="1070.7,494.8 1078.8,478.2 1107.2,478.2 1115.2,494.8 1107.2,511.5 1078.8,511.5" fill="#b13d42"/>
<polygon points="1070.7,528.2 1078.8,511.5 1107.2,511.5 1115.2,528.2 1107.2,544.9 1078.8,544.9" fill="#b13d42"/>
<polygon points="1070.7,561.6 1078.8,544.9 1107.2,544.9 1115.2,561.6 1107.2,578.3 1078.8,578.3" fill="#b13d42"/>
<polygon points="1070.7,594.9 1078.8,578.3 1107.2,578.3 1115.2,594.9 1107.2,611.6 1078.8,611.6" fill="#b13d42"/>
<polygon points="925.8,767.0 933.8,750.3 962.2,750.3 970.2,767.0 962.2,783.7 933.8,783.7" fill="#3b7dbd"/>
<polygon points="925.8,800.3 933.8,783.6 962.2,783.6 970.2,800.3 962.2,817.0 933.8,817.0" fill="#3b7dbd"/>
</g>
<path d="M669.8 211.2 L677.8 227.9M677.8 328.0 L669.8 344.7M641.3 544.9 L669.8 544.9M677.8 528.2 L669.8 544.9M641.3 645.0 L669.8 645.0M677.8 628.3 L669.8 645.0M677.8 661.7 L669.8 678.4M669.8 678.4 L677.8 695.0M677.8 695.0 L669.8 711.7M669.8 711.7 L677.8 728.4M677.8 227.9 L706.2 227.9M714.2 211.2 L706.2 227.9M706.2 227.9 L714.2 244.6M714.2 244.6 L706.2 261.3M706.2 261.3 L714.2 278.0M714.2 278.0 L706.2 294.7M677.8 328.0 L706.2 328.0M706.2 294.7 L714.2 311.3M714.2 311.3 L706.2 328.0M677.8 394.8 L706.2 394.8M706.2 394.8 L714.2 411.4M677.8 528.2 L706.2 528.2M714.2 511.5 L706.2 528.2M677.8 628.3 L706.2 628.3M677.8 661.7 L706.2 661.7M706.2 628.3 L714.2 645.0M706.2 661.7 L714.2 678.4M677.8 728.4 L706.2 728.4M706.2 728.4 L714.2 745.1M750.7 161.2 L742.7 177.9M714.2 211.2 L742.7 211.2M742.7 177.9 L750.7 194.6M750.7 194.6 L742.7 211.2M714.2 278.0 L742.7 278.0M742.7 278.0 L750.7 294.7M714.2 411.4 L742.7 411.4M742.7 411.4 L750.7 428.1M714.2 511.5 L742.7 511.5M742.7 511.5 L750.7 528.2M750.7 528.2 L742.7 544.9M742.7 544.9 L750.7 561.6M714.2 645.0 L742.7 645.0M750.7 628.3 L742.7 645.0M714.2 678.4 L742.7 678.4M742.7 678.4 L750.7 695.0M714.2 745.1 L742.7 745.1M750.7 728.4 L742.7 745.1M750.7 161.2 L779.1 161.2M787.1 144.5 L779.1 161.2M750.7 294.7 L779.1 294.7M779.1 294.7 L787.1 311.3M750.7 428.1 L779.1 428.1M787.1 411.4 L779.1 428.1M787.1 444.8 L779.1 461.5M779.1 461.5 L787.1 478.2M787.1 478.2 L779.1 494.8M779.1 494.8 L787.1 511.5M787.1 511.5 L779.1 528.2M750.7 561.6 L779.1 561.6M779.1 528.2 L787.1 544.9M787.1 544.9 L779.1 561.6M779.1 561.6 L787.1 578.3M750.7 628.3 L779.1 628.3M779.1 628.3 L787.1 645.0M750.7 695.0 L779.1 695.0M750.7 728.4 L779.1 728.4M779.1 695.0 L787.1 711.7M787.1 711.7 L779.1 728.4M787.1 144.5 L815.6 144.5M823.6 127.8 L815.6 144.5M787.1 311.3 L815.6 311.3M823.6 294.7 L815.6 311.3M787.1 411.4 L815.6 411.4M823.6 394.8 L815.6 411.4M787.1 444.8 L815.6 444.8M815.6 411.4 L823.6 428.1M823.6 428.1 L815.6 444.8M787.1 478.2 L815.6 478.2M787.1 511.5 L815.6 511.5M815.6 478.2 L823.6 494.8M823.6 494.8 L815.6 511.5M787.1 578.3 L815.6 578.3M823.6 561.6 L815.6 578.3M815.6 578.3 L823.6 594.9M823.6 594.9 L815.6 611.6M787.1 645.0 L815.6 645.0M815.6 611.6 L823.6 628.3M823.6 628.3 L815.6 645.0M815.6 645.0 L823.6 661.7M823.6 661.7 L815.6 678.4M815.6 678.4 L823.6 695.0M823.6 695.0 L815.6 711.7M815.6 711.7 L823.6 728.4M823.6 127.8 L852.0 127.8M860.0 111.1 L852.0 127.8M823.6 294.7 L852.0 294.7M860.0 278.0 L852.0 294.7M823.6 394.8 L852.0 394.8M860.0 378.1 L852.0 394.8M823.6 494.8 L852.0 494.8M852.0 494.8 L860.0 511.5M823.6 561.6 L852.0 561.6M860.0 544.9 L852.0 561.6M860.0 111.1 L888.5 111.1M888.5 77.8 L896.5 94.5M888.5 111.1 L896.5 127.8M896.5 127.8 L888.5 144.5M888.5 144.5 L896.5 161.2M860.0 278.0 L888.5 278.0M896.5 261.3 L888.5 278.0M860.0 378.1 L888.5 378.1M888.5 378.1 L896.5 394.8M860.0 511.5 L888.5 511.5M860.0 544.9 L888.5 544.9M888.5 511.5 L896.5 528.2M896.5 528.2 L888.5 544.9M896.5 94.5 L924.9 94.5M924.9 94.5 L933.0 111.1M933.0 111.1 L924.9 127.8M896.5 161.2 L924.9 161.2M924.9 127.8 L933.0 144.5M924.9 161.2 L933.0 177.9M933.0 177.9 L924.9 194.6M924.9 194.6 L933.0 211.2M896.5 261.3 L924.9 261.3M933.0 244.6 L924.9 261.3M933.0 344.7 L924.9 361.4M896.5 394.8 L924.9 394.8M924.9 361.4 L933.0 378.1M933.0 378.1 L924.9 394.8M933.0 411.4 L924.9 428.1M924.9 428.1 L933.0 444.8M933.0 444.8 L924.9 461.5M924.9 461.5 L933.0 478.2M933.0 478.2 L924.9 494.8M896.5 528.2 L924.9 528.2M924.9 494.8 L933.0 511.5M933.0 511.5 L924.9 528.2M924.9 528.2 L933.0 544.9M933.0 678.4 L924.9 695.0M924.9 695.0 L933.0 711.7M932.9 144.5 L961.4 144.5M961.4 144.5 L969.4 161.2M969.4 161.2 L961.4 177.9M932.9 211.2 L961.4 211.2M961.4 177.9 L969.4 194.6M932.9 244.6 L961.4 244.6M961.4 211.2 L969.4 227.9M969.4 227.9 L961.4 244.6M969.4 294.7 L961.4 311.3M932.9 344.7 L961.4 344.7M961.4 311.3 L969.4 328.0M969.4 328.0 L961.4 344.7M961.4 344.7 L969.4 361.4M969.4 361.4 L961.4 378.1M932.9 411.4 L961.4 411.4M961.4 378.1 L969.4 394.8M969.4 394.8 L961.4 411.4M969.4 428.1 L961.4 444.8M932.9 478.2 L961.4 478.2M961.4 444.8 L969.4 461.5M969.4 461.5 L961.4 478.2M932.9 544.9 L961.4 544.9M969.4 528.2 L961.4 544.9M969.4 561.6 L961.4 578.3M961.4 578.3 L969.4 594.9M969.4 594.9 L961.4 611.6M961.4 611.6 L969.4 628.3M969.4 628.3 L961.4 645.0M932.9 678.4 L961.4 678.4M961.4 645.0 L969.4 661.7M969.4 661.7 L961.4 678.4M969.4 194.6 L997.8 194.6M997.8 194.6 L1005.9 211.2M1005.9 211.2 L997.8 227.9M997.8 227.9 L1005.9 244.6M1005.9 244.6 L997.8 261.3M969.4 294.7 L997.8 294.7M997.8 261.3 L1005.9 278.0M1005.9 278.0 L997.8 294.7M969.4 428.1 L997.8 428.1M1005.9 411.4 L997.8 428.1M969.4 528.2 L997.8 528.2M1005.9 511.5 L997.8 528.2M969.4 561.6 L997.8 561.6M997.8 528.2 L1005.9 544.9M1005.9 544.9 L997.8 561.6M1005.8 244.6 L1034.2 244.6M1042.3 227.9 L1034.2 244.6M1005.8 411.4 L1034.2 411.4M1034.2 411.4 L1042.3 428.1M1042.3 428.1 L1034.2 444.8M1034.2 444.8 L1042.3 461.5M1042.3 461.5 L1034.2 478.2M1005.8 511.5 L1034.2 511.5M1034.2 478.2 L1042.3 494.8M1042.3 494.8 L1034.2 511.5M1005.8 544.9 L1034.2 544.9M1042.3 528.2 L1034.2 544.9M1042.3 227.9 L1070.7 227.9M1070.7 227.9 L1078.8 244.6M1042.3 461.5 L1070.7 461.5M1078.8 444.8 L1070.7 461.5M1042.3 528.2 L1070.7 528.2M1078.8 511.5 L1070.7 528.2M1078.8 244.6 L1107.2 244.6M1078.8 444.8 L1107.2 444.8M1078.8 511.5 L1107.2 511.5M669.8 378.1 L677.8 394.8M604.9 628.3 L633.3 628.3M633.3 628.3 L641.3 645.0" stroke="#fff" stroke-width="4.0" stroke-linecap="round" fill="none"/>
<path d="M669.8 211.2 L677.8 227.9M677.8 328.0 L669.8 344.7M641.3 544.9 L669.8 544.9M677.8 528.2 L669.8 544.9M641.3 645.0 L669.8 645.0M677.8 628.3 L669.8 645.0M677.8 661.7 L669.8 678.4M669.8 678.4 L677.8 695.0M677.8 695.0 L669.8 711.7M669.8 711.7 L677.8 728.4M677.8 227.9 L706.2 227.9M714.2 211.2 L706.2 227.9M706.2 227.9 L714.2 244.6M714.2 244.6 L706.2 261.3M706.2 261.3 L714.2 278.0M714.2 278.0 L706.2 294.7M677.8 328.0 L706.2 328.0M706.2 294.7 L714.2 311.3M714.2 311.3 L706.2 328.0M677.8 394.8 L706.2 394.8M706.2 394.8 L714.2 411.4M677.8 528.2 L706.2 528.2M714.2 511.5 L706.2 528.2M677.8 628.3 L706.2 628.3M677.8 661.7 L706.2 661.7M706.2 628.3 L714.2 645.0M706.2 661.7 L714.2 678.4M677.8 728.4 L706.2 728.4M706.2 728.4 L714.2 745.1M750.7 161.2 L742.7 177.9M714.2 211.2 L742.7 211.2M742.7 177.9 L750.7 194.6M750.7 194.6 L742.7 211.2M714.2 278.0 L742.7 278.0M742.7 278.0 L750.7 294.7M714.2 411.4 L742.7 411.4M742.7 411.4 L750.7 428.1M714.2 511.5 L742.7 511.5M742.7 511.5 L750.7 528.2M750.7 528.2 L742.7 544.9M742.7 544.9 L750.7 561.6M714.2 645.0 L742.7 645.0M750.7 628.3 L742.7 645.0M714.2 678.4 L742.7 678.4M742.7 678.4 L750.7 695.0M714.2 745.1 L742.7 745.1M750.7 728.4 L742.7 745.1M750.7 161.2 L779.1 161.2M787.1 144.5 L779.1 161.2M750.7 294.7 L779.1 294.7M779.1 294.7 L787.1 311.3M750.7 428.1 L779.1 428.1M787.1 411.4 L779.1 428.1M787.1 444.8 L779.1 461.5M779.1 461.5 L787.1 478.2M787.1 478.2 L779.1 494.8M779.1 494.8 L787.1 511.5M787.1 511.5 L779.1 528.2M750.7 561.6 L779.1 561.6M779.1 528.2 L787.1 544.9M787.1 544.9 L779.1 561.6M779.1 561.6 L787.1 578.3M750.7 628.3 L779.1 628.3M779.1 628.3 L787.1 645.0M750.7 695.0 L779.1 695.0M750.7 728.4 L779.1 728.4M779.1 695.0 L787.1 711.7M787.1 711.7 L779.1 728.4M787.1 144.5 L815.6 144.5M823.6 127.8 L815.6 144.5M787.1 311.3 L815.6 311.3M823.6 294.7 L815.6 311.3M787.1 411.4 L815.6 411.4M823.6 394.8 L815.6 411.4M787.1 444.8 L815.6 444.8M815.6 411.4 L823.6 428.1M823.6 428.1 L815.6 444.8M787.1 478.2 L815.6 478.2M787.1 511.5 L815.6 511.5M815.6 478.2 L823.6 494.8M823.6 494.8 L815.6 511.5M787.1 578.3 L815.6 578.3M823.6 561.6 L815.6 578.3M815.6 578.3 L823.6 594.9M823.6 594.9 L815.6 611.6M787.1 645.0 L815.6 645.0M815.6 611.6 L823.6 628.3M823.6 628.3 L815.6 645.0M815.6 645.0 L823.6 661.7M823.6 661.7 L815.6 678.4M815.6 678.4 L823.6 695.0M823.6 695.0 L815.6 711.7M815.6 711.7 L823.6 728.4M823.6 127.8 L852.0 127.8M860.0 111.1 L852.0 127.8M823.6 294.7 L852.0 294.7M860.0 278.0 L852.0 294.7M823.6 394.8 L852.0 394.8M860.0 378.1 L852.0 394.8M823.6 494.8 L852.0 494.8M852.0 494.8 L860.0 511.5M823.6 561.6 L852.0 561.6M860.0 544.9 L852.0 561.6M860.0 111.1 L888.5 111.1M888.5 77.8 L896.5 94.5M888.5 111.1 L896.5 127.8M896.5 127.8 L888.5 144.5M888.5 144.5 L896.5 161.2M860.0 278.0 L888.5 278.0M896.5 261.3 L888.5 278.0M860.0 378.1 L888.5 378.1M888.5 378.1 L896.5 394.8M860.0 511.5 L888.5 511.5M860.0 544.9 L888.5 544.9M888.5 511.5 L896.5 528.2M896.5 528.2 L888.5 544.9M896.5 94.5 L924.9 94.5M924.9 94.5 L933.0 111.1M933.0 111.1 L924.9 127.8M896.5 161.2 L924.9 161.2M924.9 127.8 L933.0 144.5M924.9 161.2 L933.0 177.9M933.0 177.9 L924.9 194.6M924.9 194.6 L933.0 211.2M896.5 261.3 L924.9 261.3M933.0 244.6 L924.9 261.3M933.0 344.7 L924.9 361.4M896.5 394.8 L924.9 394.8M924.9 361.4 L933.0 378.1M933.0 378.1 L924.9 394.8M933.0 411.4 L924.9 428.1M924.9 428.1 L933.0 444.8M933.0 444.8 L924.9 461.5M924.9 461.5 L933.0 478.2M933.0 478.2 L924.9 494.8M896.5 528.2 L924.9 528.2M924.9 494.8 L933.0 511.5M933.0 511.5 L924.9 528.2M924.9 528.2 L933.0 544.9M933.0 678.4 L924.9 695.0M924.9 695.0 L933.0 711.7M932.9 144.5 L961.4 144.5M961.4 144.5 L969.4 161.2M969.4 161.2 L961.4 177.9M932.9 211.2 L961.4 211.2M961.4 177.9 L969.4 194.6M932.9 244.6 L961.4 244.6M961.4 211.2 L969.4 227.9M969.4 227.9 L961.4 244.6M969.4 294.7 L961.4 311.3M932.9 344.7 L961.4 344.7M961.4 311.3 L969.4 328.0M969.4 328.0 L961.4 344.7M961.4 344.7 L969.4 361.4M969.4 361.4 L961.4 378.1M932.9 411.4 L961.4 411.4M961.4 378.1 L969.4 394.8M969.4 394.8 L961.4 411.4M969.4 428.1 L961.4 444.8M932.9 478.2 L961.4 478.2M961.4 444.8 L969.4 461.5M969.4 461.5 L961.4 478.2M932.9 544.9 L961.4 544.9M969.4 528.2 L961.4 544.9M969.4 561.6 L961.4 578.3M961.4 578.3 L969.4 594.9M969.4 594.9 L961.4 611.6M961.4 611.6 L969.4 628.3M969.4 628.3 L961.4 645.0M932.9 678.4 L961.4 678.4M961.4 645.0 L969.4 661.7M969.4 661.7 L961.4 678.4M969.4 194.6 L997.8 194.6M997.8 194.6 L1005.9 211.2M1005.9 211.2 L997.8 227.9M997.8 227.9 L1005.9 244.6M1005.9 244.6 L997.8 261.3M969.4 294.7 L997.8 294.7M997.8 261.3 L1005.9 278.0M1005.9 278.0 L997.8 294.7M969.4 428.1 L997.8 428.1M1005.9 411.4 L997.8 428.1M969.4 528.2 L997.8 528.2M1005.9 511.5 L997.8 528.2M969.4 561.6 L997.8 561.6M997.8 528.2 L1005.9 544.9M1005.9 544.9 L997.8 561.6M1005.8 244.6 L1034.2 244.6M1042.3 227.9 L1034.2 244.6M1005.8 411.4 L1034.2 411.4M1034.2 411.4 L1042.3 428.1M1042.3 428.1 L1034.2 444.8M1034.2 444.8 L1042.3 461.5M1042.3 461.5 L1034.2 478.2M1005.8 511.5 L1034.2 511.5M1034.2 478.2 L1042.3 494.8M1042.3 494.8 L1034.2 511.5M1005.8 544.9 L1034.2 544.9M1042.3 528.2 L1034.2 544.9M1042.3 227.9 L1070.7 227.9M1070.7 227.9 L1078.8 244.6M1042.3 461.5 L1070.7 461.5M1078.8 444.8 L1070.7 461.5M1042.3 528.2 L1070.7 528.2M1078.8 511.5 L1070.7 528.2M1078.8 244.6 L1107.2 244.6M1078.8 444.8 L1107.2 444.8M1078.8 511.5 L1107.2 511.5M669.8 378.1 L677.8 394.8M604.9 628.3 L633.3 628.3M633.3 628.3 L641.3 645.0" stroke="#111" stroke-width="1.8" stroke-linecap="round" fill="none"/>
<g>
<text transform="translate(582.6 732.0) scale(0.88 1)" font-size="9.2" font-weight="400" fill="#f3e9ea" text-anchor="middle">목포시</text>
<text transform="translate(619.1 214.9) scale(0.88 1)" font-size="9.2" font-weight="400" fill="#f3e9ea" text-anchor="middle">강화군</text>
<text transform="translate(619.1 248.2) scale(0.88 1)" font-size="9.2" font-weight="400" fill="#f3e9ea" text-anchor="middle">중구</text>
<text transform="translate(619.1 314.9) scale(0.88 1)" font-size="9.2" font-weight="400" fill="#f3e9ea" text-anchor="middle">옹진군</text>
<text transform="translate(619.1 615.2) scale(0.88 1)" font-size="9.2" font-weight="400" fill="#f3e9ea" text-anchor="middle">고창군</text>
<text transform="translate(619.1 682.0) scale(0.88 1)" font-size="9.2" font-weight="400" fill="#f3e9ea" text-anchor="middle">신안군</text>
<text transform="translate(619.1 715.3) scale(0.88 1)" font-size="9.2" font-weight="400" fill="#f3e9ea" text-anchor="middle">무안군</text>
<text transform="translate(619.1 748.7) scale(0.88 1)" font-size="9.2" font-weight="400" fill="#f3e9ea" text-anchor="middle">해남군</text>
<text transform="translate(619.1 782.1) scale(0.88 1)" font-size="9.2" font-weight="400" fill="#f3e9ea" text-anchor="middle">진도군</text>
<text transform="translate(655.5 231.5) scale(0.88 1)" font-size="9.2" font-weight="400" fill="#f3e9ea" text-anchor="middle">서구</text>
<text transform="translate(655.5 264.9) scale(0.88 1)" font-size="9.2" font-weight="400" fill="#f3e9ea" text-anchor="middle">미추홀구</text>
<text transform="translate(655.5 298.3) scale(0.88 1)" font-size="9.2" font-weight="400" fill="#f3e9ea" text-anchor="middle">동구</text>
<text transform="translate(655.5 331.6) scale(0.88 1)" font-size="9.2" font-weight="400" fill="#f3e9ea" text-anchor="middle">연수구</text>
<text transform="translate(655.5 431.7) scale(0.88 1)" font-size="9.2" font-weight="400" fill="#f3e9ea" text-anchor="middle">태안군</text>
<text transform="translate(655.5 465.1) scale(0.88 1)" font-size="9.2" font-weight="400" fill="#f3e9ea" text-anchor="middle">홍성군</text>
<text transform="translate(655.5 498.5) scale(0.88 1)" font-size="9.2" font-weight="400" fill="#f3e9ea" text-anchor="middle">보령시</text>
<text transform="translate(655.5 531.8) scale(0.88 1)" font-size="9.2" font-weight="400" fill="#f3e9ea" text-anchor="middle">서천군</text>
<text transform="translate(655.5 565.2) scale(0.88 1)" font-size="9.2" font-weight="400" fill="#f3e9ea" text-anchor="middle">군산시</text>
<text transform="translate(655.5 598.6) scale(0.88 1)" font-size="9.2" font-weight="400" fill="#f3e9ea" text-anchor="middle">부안군</text>
<text transform="translate(655.5 631.9) scale(0.88 1)" font-size="9.2" font-weight="400" fill="#f3e9ea" text-anchor="middle">정읍시</text>
<text transform="translate(655.5 665.3) scale(0.88 1)" font-size="9.2" font-weight="400" fill="#f3e9ea" text-anchor="middle">영광군</text>
<text transform="translate(655.5 698.6) scale(0.88 1)" font-size="9.2" font-weight="400" fill="#f3e9ea" text-anchor="middle">함평군</text>
<text transform="translate(655.5 732.0) scale(0.88 1)" font-size="9.2" font-weight="400" fill="#f3e9ea" text-anchor="middle">영암군</text>
<text transform="translate(655.5 765.4) scale(0.88 1)" font-size="9.2" font-weight="400" fill="#f3e9ea" text-anchor="middle">강진군</text>
<text transform="translate(655.5 798.7) scale(0.88 1)" font-size="9.2" font-weight="400" fill="#f3e9ea" text-anchor="middle">완도군</text>
<text transform="translate(692.0 176.4) scale(0.88 1)" font-size="9.2" font-weight="400" fill="#f3e9ea" text-anchor="middle">고양시</text>
<text transform="translate(692.0 186.4) scale(0.88 1)" font-size="9.2" font-weight="400" fill="#f3e9ea" text-anchor="middle">일산서구</text>
<text transform="translate(692.0 214.9) scale(0.88 1)" font-size="9.2" font-weight="400" fill="#f3e9ea" text-anchor="middle">김포시</text>
<text transform="translate(692.0 248.2) scale(0.88 1)" font-size="9.2" font-weight="400" fill="#f3e9ea" text-anchor="middle">계양구</text>
<text transform="translate(692.0 281.6) scale(0.88 1)" font-size="9.2" font-weight="400" fill="#f3e9ea" text-anchor="middle">부평구</text>
<text transform="translate(692.0 314.9) scale(0.88 1)" font-size="9.2" font-weight="400" fill="#f3e9ea" text-anchor="middle">남동구</text>
<text transform="translate(692.0 343.2) scale(0.88 1)" font-size="9.2" font-weight="400" fill="#f3e9ea" text-anchor="middle">안산시</text>
<text transform="translate(692.0 353.2) scale(0.88 1)" font-size="9.2" font-weight="400" fill="#f3e9ea" text-anchor="middle">단원구</text>
<text transform="translate(692.0 381.7) scale(0.88 1)" font-size="9.2" font-weight="400" fill="#f3e9ea" text-anchor="middle">화성시</text>
<text transform="translate(692.0 415.0) scale(0.88 1)" font-size="9.2" font-weight="400" fill="#f3e9ea" text-anchor="middle">당진시</text>
<text transform="translate(692.0 448.4) scale(0.88 1)" font-size="9.2" font-weight="400" fill="#f3e9ea" text-anchor="middle">서산시</text>
<text transform="translate(692.0 481.8) scale(0.88 1)" font-size="9.2" font-weight="400" fill="#f3e9ea" text-anchor="middle">청양군</text>
<text transform="translate(692.0 515.1) scale(0.88 1)" font-size="9.2" font-weight="400" fill="#f3e9ea" text-anchor="middle">부여군</text>
<text transform="translate(692.0 548.5) scale(0.88 1)" font-size="9.2" font-weight="400" fill="#f3e9ea" text-anchor="middle">익산시</text>
<text transform="translate(692.0 581.9) scale(0.88 1)" font-size="9.2" font-weight="400" fill="#f3e9ea" text-anchor="middle">김제시</text>
<text transform="translate(692.0 615.2) scale(0.88 1)" font-size="9.2" font-weight="400" fill="#f3e9ea" text-anchor="middle">순창군</text>
<text transform="translate(692.0 648.6) scale(0.88 1)" font-size="9.2" font-weight="400" fill="#f3e9ea" text-anchor="middle">장성군</text>
<text transform="translate(692.0 682.0) scale(0.88 1)" font-size="9.2" font-weight="400" fill="#f3e9ea" text-anchor="middle">광산구</text>
<text transform="translate(692.0 715.3) scale(0.88 1)" font-size="9.2" font-weight="400" fill="#f3e9ea" text-anchor="middle">서구</text>
<text transform="translate(692.0 748.7) scale(0.88 1)" font-size="9.2" font-weight="400" fill="#f3e9ea" text-anchor="middle">나주시</text>
<text transform="translate(692.0 782.1) scale(0.88 1)" font-size="9.2" font-weight="400" fill="#f3e9ea" text-anchor="middle">장흥군</text>
<text transform="translate(728.5 159.7) scale(0.88 1)" font-size="9.2" font-weight="400" fill="#f3e9ea" text-anchor="middle">고양시</text>
<text transform="translate(728.5 169.7) scale(0.88 1)" font-size="9.2" font-weight="400" fill="#f3e9ea" text-anchor="middle">덕양구</text>
<text transform="translate(728.5 193.1) scale(0.88 1)" font-size="9.2" font-weight="400" fill="#f3e9ea" text-anchor="middle">고양시</text>
<text transform="translate(728.5 203.1) scale(0.88 1)" font-size="9.2" font-weight="400" fill="#f3e9ea" text-anchor="middle">일산동구</text>
<text transform="translate(728.5 231.5) scale(0.88 1)" font-size="9.2" font-weight="400" fill="#f3e9ea" text-anchor="middle">강서구</text>
<text transform="translate(728.5 264.9) scale(0.88 1)" font-size="9.2" font-weight="400" fill="#f3e9ea" text-anchor="middle">양천구</text>
<text transform="translate(728.5 298.3) scale(0.88 1)" font-size="9.2" font-weight="400" fill="#f3e9ea" text-anchor="middle">부천시</text>
<text transform="translate(728.5 331.6) scale(0.88 1)" font-size="9.2" font-weight="400" fill="#f3e9ea" text-anchor="middle">시흥시</text>
<text transform="translate(728.5 359.9) scale(0.88 1)" font-size="9.2" font-weight="400" fill="#f3e9ea" text-anchor="middle">안산시</text>
<text transform="translate(728.5 369.9) scale(0.88 1)" font-size="9.2" font-weight="400" fill="#f3e9ea" text-anchor="middle">상록구</text>
<text transform="translate(728.5 398.4) scale(0.88 1)" font-size="9.2" font-weight="400" fill="#f3e9ea" text-anchor="middle">오산시</text>
<text transform="translate(728.5 431.7) scale(0.88 1)" font-size="9.2" font-weight="400" fill="#f3e9ea" text-anchor="middle">아산시</text>
<text transform="translate(728.5 465.1) scale(0.88 1)" font-size="9.2" font-weight="400" fill="#f3e9ea" text-anchor="middle">예산군</text>
<text transform="translate(728.5 498.5) scale(0.88 1)" font-size="9.2" font-weight="400" fill="#f3e9ea" text-anchor="middle">논산시</text>
<text transform="translate(728.5 531.8) scale(0.88 1)" font-size="9.2" font-weight="400" fill="#f3e9ea" text-anchor="middle">완주군</text>
<text transform="translate(728.5 560.1) scale(0.88 1)" font-size="9.2" font-weight="400" fill="#f3e9ea" text-anchor="middle">전주시</text>
<text transform="translate(728.5 570.1) scale(0.88 1)" font-size="9.2" font-weight="400" fill="#f3e9ea" text-anchor="middle">덕진구</text>
<text transform="translate(728.5 593.5) scale(0.88 1)" font-size="9.2" font-weight="400" fill="#f3e9ea" text-anchor="middle">전주시</text>
<text transform="translate(728.5 603.5) scale(0.88 1)" font-size="9.2" font-weight="400" fill="#f3e9ea" text-anchor="middle">완산구</text>
<text transform="translate(728.5 631.9) scale(0.88 1)" font-size="9.2" font-weight="400" fill="#f3e9ea" text-anchor="middle">남원시</text>
<text transform="translate(728.5 665.3) scale(0.88 1)" font-size="9.2" font-weight="400" fill="#f3e9ea" text-anchor="middle">담양군</text>
<text transform="translate(728.5 698.6) scale(0.88 1)" font-size="9.2" font-weight="400" fill="#f3e9ea" text-anchor="middle">북구</text>
<text transform="translate(728.5 732.0) scale(0.88 1)" font-size="9.2" font-weight="400" fill="#f3e9ea" text-anchor="middle">남구</text>
<text transform="translate(728.5 765.4) scale(0.88 1)" font-size="9.2" font-weight="400" fill="#f3e9ea" text-anchor="middle">보성군</text>
<text transform="translate(728.5 798.7) scale(0.88 1)" font-size="9.2" font-weight="400" fill="#f3e9ea" text-anchor="middle">고흥군</text>
<text transform="translate(764.9 148.1) scale(0.88 1)" font-size="9.2" font-weight="400" fill="#f3e9ea" text-anchor="middle">파주시</text>
<text transform="translate(764.9 181.5) scale(0.88 1)" font-size="9.2" font-weight="400" fill="#f3e9ea" text-anchor="middle">서대문구</text>
<text transform="translate(764.9 214.9) scale(0.88 1)" font-size="9.2" font-weight="400" fill="#f3e9ea" text-anchor="middle">마포구</text>
<text transform="translate(764.9 248.2) scale(0.88 1)" font-size="9.2" font-weight="400" fill="#f3e9ea" text-anchor="middle">구로구</text>
<text transform="translate(764.9 281.6) scale(0.88 1)" font-size="9.2" font-weight="400" fill="#f3e9ea" text-anchor="middle">금천구</text>
<text transform="translate(764.9 314.9) scale(0.88 1)" font-size="9.2" font-weight="400" fill="#f3e9ea" text-anchor="middle">광명시</text>
<text transform="translate(764.9 348.3) scale(0.88 1)" font-size="9.2" font-weight="400" fill="#f3e9ea" text-anchor="middle">군포시</text>
<text transform="translate(764.9 376.6) scale(0.88 1)" font-size="9.2" font-weight="400" fill="#f3e9ea" text-anchor="middle">수원시</text>
<text transform="translate(764.9 386.6) scale(0.88 1)" font-size="9.2" font-weight="400" fill="#f3e9ea" text-anchor="middle">권선구</text>
<text transform="translate(764.9 415.0) scale(0.88 1)" font-size="9.2" font-weight="400" fill="#f3e9ea" text-anchor="middle">평택시</text>
<text transform="translate(764.9 443.3) scale(0.88 1)" font-size="9.2" font-weight="400" fill="#f3e9ea" text-anchor="middle">천안시</text>
<text transform="translate(764.9 453.3) scale(0.88 1)" font-size="9.2" font-weight="400" fill="#f3e9ea" text-anchor="middle">동남구</text>
<text transform="translate(764.9 481.8) scale(0.88 1)" font-size="9.2" font-weight="400" fill="#f3e9ea" text-anchor="middle">공주시</text>
<text transform="translate(764.9 515.1) scale(0.88 1)" font-size="9.2" font-weight="400" fill="#f3e9ea" text-anchor="middle">계룡시</text>
<text transform="translate(764.9 548.5) scale(0.88 1)" font-size="9.2" font-weight="400" fill="#f3e9ea" text-anchor="middle">금산군</text>
<text transform="translate(764.9 581.9) scale(0.88 1)" font-size="9.2" font-weight="400" fill="#f3e9ea" text-anchor="middle">진안군</text>
<text transform="translate(764.9 615.2) scale(0.88 1)" font-size="9.2" font-weight="400" fill="#f3e9ea" text-anchor="middle">임실군</text>
<text transform="translate(764.9 648.6) scale(0.88 1)" font-size="9.2" font-weight="400" fill="#f3e9ea" text-anchor="middle">곡성군</text>
<text transform="translate(764.9 682.0) scale(0.88 1)" font-size="9.2" font-weight="400" fill="#f3e9ea" text-anchor="middle">화순군</text>
<text transform="translate(764.9 715.3) scale(0.88 1)" font-size="9.2" font-weight="400" fill="#f3e9ea" text-anchor="middle">동구</text>
<text transform="translate(764.9 748.7) scale(0.88 1)" font-size="9.2" font-weight="400" fill="#f3e9ea" text-anchor="middle">순천시</text>
<text transform="translate(801.4 131.4) scale(0.88 1)" font-size="9.2" font-weight="400" fill="#f3e9ea" text-anchor="middle">양주시</text>
<text transform="translate(801.4 164.8) scale(0.88 1)" font-size="9.2" font-weight="400" fill="#f3e9ea" text-anchor="middle">은평구</text>
<text transform="translate(801.4 198.2) scale(0.88 1)" font-size="9.2" font-weight="400" fill="#f3e9ea" text-anchor="middle">종로구</text>
<text transform="translate(801.4 231.5) scale(0.88 1)" font-size="9.2" font-weight="400" fill="#f3e9ea" text-anchor="middle">용산구</text>
<text transform="translate(801.4 264.9) scale(0.88 1)" font-size="9.2" font-weight="400" fill="#f3e9ea" text-anchor="middle">영등포구</text>
<text transform="translate(801.4 298.3) scale(0.88 1)" font-size="9.2" font-weight="400" fill="#f3e9ea" text-anchor="middle">관악구</text>
<text transform="translate(801.4 326.5) scale(0.88 1)" font-size="9.2" font-weight="400" fill="#f3e9ea" text-anchor="middle">안양시</text>
<text transform="translate(801.4 336.5) scale(0.88 1)" font-size="9.2" font-weight="400" fill="#f3e9ea" text-anchor="middle">만안구</text>
<text transform="translate(801.4 359.9) scale(0.88 1)" font-size="9.2" font-weight="400" fill="#f3e9ea" text-anchor="middle">수원시</text>
<text transform="translate(801.4 369.9) scale(0.88 1)" font-size="9.2" font-weight="400" fill="#f3e9ea" text-anchor="middle">장안구</text>
<text transform="translate(801.4 393.3) scale(0.88 1)" font-size="9.2" font-weight="400" fill="#f3e9ea" text-anchor="middle">수원시</text>
<text transform="translate(801.4 403.3) scale(0.88 1)" font-size="9.2" font-weight="400" fill="#f3e9ea" text-anchor="middle">팔달구</text>
<text transform="translate(801.4 426.6) scale(0.88 1)" font-size="9.2" font-weight="400" fill="#f3e9ea" text-anchor="middle">천안시</text>
<text transform="translate(801.4 436.6) scale(0.88 1)" font-size="9.2" font-weight="400" fill="#f3e9ea" text-anchor="middle">서북구</text>
<text transform="translate(801.4 460.0) scale(0.88 1)" font-size="9.2" font-weight="400" fill="#f3e9ea" text-anchor="middle">청주시</text>
<text transform="translate(801.4 470.0) scale(0.88 1)" font-size="9.2" font-weight="400" fill="#f3e9ea" text-anchor="middle">흥덕구</text>
<text transform="translate(801.4 498.5) scale(0.88 1)" font-size="9.2" font-weight="400" fill="#f3e9ea" text-anchor="middle">세종시</text>
<text transform="translate(801.4 531.8) scale(0.88 1)" font-size="9.2" font-weight="400" fill="#f3e9ea" text-anchor="middle">유성구</text>
<text transform="translate(801.4 565.2) scale(0.88 1)" font-size="9.2" font-weight="400" fill="#f3e9ea" text-anchor="middle">서구</text>
<text transform="translate(801.4 598.6) scale(0.88 1)" font-size="9.2" font-weight="400" fill="#f3e9ea" text-anchor="middle">무주군</text>
<text transform="translate(801.4 631.9) scale(0.88 1)" font-size="9.2" font-weight="400" fill="#f3e9ea" text-anchor="middle">장수군</text>
<text transform="translate(801.4 665.3) scale(0.88 1)" font-size="9.2" font-weight="400" fill="#f3e9ea" text-anchor="middle">구례군</text>
<text transform="translate(801.4 698.6) scale(0.88 1)" font-size="9.2" font-weight="400" fill="#f3e9ea" text-anchor="middle">광양시</text>
<text transform="translate(801.4 732.0) scale(0.88 1)" font-size="9.2" font-weight="400" fill="#f3e9ea" text-anchor="middle">여수시</text>
<text transform="translate(837.8 81.4) scale(0.88 1)" font-size="9.2" font-weight="400" fill="#f3e9ea" text-anchor="middle">연천군</text>
<text transform="translate(837.8 114.8) scale(0.88 1)" font-size="9.2" font-weight="400" fill="#f3e9ea" text-anchor="middle">동두천시</text>
<text transform="translate(837.8 148.1) scale(0.88 1)" font-size="9.2" font-weight="400" fill="#f3e9ea" text-anchor="middle">강북구</text>
<text transform="translate(837.8 181.5) scale(0.88 1)" font-size="9.2" font-weight="400" fill="#f3e9ea" text-anchor="middle">성북구</text>
<text transform="translate(837.8 214.9) scale(0.88 1)" font-size="9.2" font-weight="400" fill="#f3e9ea" text-anchor="middle">중구</text>
<text transform="translate(837.8 248.2) scale(0.88 1)" font-size="9.2" font-weight="400" fill="#f3e9ea" text-anchor="middle">동작구</text>
<text transform="translate(837.8 281.6) scale(0.88 1)" font-size="9.2" font-weight="400" fill="#f3e9ea" text-anchor="middle">서초구</text>
<text transform="translate(837.8 309.8) scale(0.88 1)" font-size="9.2" font-weight="400" fill="#f3e9ea" text-anchor="middle">안양시</text>
<text transform="translate(837.8 319.8) scale(0.88 1)" font-size="9.2" font-weight="400" fill="#f3e9ea" text-anchor="middle">동안구</text>
<text transform="translate(837.8 348.3) scale(0.88 1)" font-size="9.2" font-weight="400" fill="#f3e9ea" text-anchor="middle">의왕시</text>
<text transform="translate(837.8 376.6) scale(0.88 1)" font-size="9.2" font-weight="400" fill="#f3e9ea" text-anchor="middle">수원시</text>
<text transform="translate(837.8 386.6) scale(0.88 1)" font-size="9.2" font-weight="400" fill="#f3e9ea" text-anchor="middle">영통구</text>
<text transform="translate(837.8 415.0) scale(0.88 1)" font-size="9.2" font-weight="400" fill="#f3e9ea" text-anchor="middle">진천군</text>
<text transform="translate(837.8 443.3) scale(0.88 1)" font-size="9.2" font-weight="400" fill="#f3e9ea" text-anchor="middle">청주시</text>
<text transform="translate(837.8 453.3) scale(0.88 1)" font-size="9.2" font-weight="400" fill="#f3e9ea" text-anchor="middle">청원구</text>
<text transform="translate(837.8 476.7) scale(0.88 1)" font-size="9.2" font-weight="400" fill="#f3e9ea" text-anchor="middle">청주시</text>
<text transform="translate(837.8 486.7) scale(0.88 1)" font-size="9.2" font-weight="400" fill="#f3e9ea" text-anchor="middle">서원구</text>
<text transform="translate(837.8 515.1) scale(0.88 1)" font-size="9.2" font-weight="400" fill="#f3e9ea" text-anchor="middle">대덕구</text>
<text transform="translate(837.8 548.5) scale(0.88 1)" font-size="9.2" font-weight="400" fill="#f3e9ea" text-anchor="middle">중구</text>
<text transform="translate(837.8 581.9) scale(0.88 1)" font-size="9.2" font-weight="400" fill="#f3e9ea" text-anchor="middle">거창군</text>
<text transform="translate(837.8 615.2) scale(0.88 1)" font-size="9.2" font-weight="400" fill="#f3e9ea" text-anchor="middle">함양군</text>
<text transform="translate(837.8 648.6) scale(0.88 1)" font-size="9.2" font-weight="400" fill="#f3e9ea" text-anchor="middle">산청군</text>
<text transform="translate(837.8 682.0) scale(0.88 1)" font-size="9.2" font-weight="400" fill="#f3e9ea" text-anchor="middle">하동군</text>
<text transform="translate(837.8 715.3) scale(0.88 1)" font-size="9.2" font-weight="400" fill="#f3e9ea" text-anchor="middle">남해군</text>
<text transform="translate(874.2 98.1) scale(0.88 1)" font-size="9.2" font-weight="400" fill="#f3e9ea" text-anchor="middle">의정부시</text>
<text transform="translate(874.2 131.4) scale(0.88 1)" font-size="9.2" font-weight="400" fill="#f3e9ea" text-anchor="middle">도봉구</text>
<text transform="translate(874.2 164.8) scale(0.88 1)" font-size="9.2" font-weight="400" fill="#f3e9ea" text-anchor="middle">노원구</text>
<text transform="translate(874.2 198.2) scale(0.88 1)" font-size="9.2" font-weight="400" fill="#f3e9ea" text-anchor="middle">동대문구</text>
<text transform="translate(874.2 231.5) scale(0.88 1)" font-size="9.2" font-weight="400" fill="#f3e9ea" text-anchor="middle">성동구</text>
<text transform="translate(874.2 264.9) scale(0.88 1)" font-size="9.2" font-weight="400" fill="#f3e9ea" text-anchor="middle">강남구</text>
<text transform="translate(874.2 298.3) scale(0.88 1)" font-size="9.2" font-weight="400" fill="#f3e9ea" text-anchor="middle">과천시</text>
<text transform="translate(874.2 326.5) scale(0.88 1)" font-size="9.2" font-weight="400" fill="#f3e9ea" text-anchor="middle">용인시</text>
<text transform="translate(874.2 336.5) scale(0.88 1)" font-size="9.2" font-weight="400" fill="#f3e9ea" text-anchor="middle">수지구</text>
<text transform="translate(874.2 359.9) scale(0.88 1)" font-size="9.2" font-weight="400" fill="#f3e9ea" text-anchor="middle">용인시</text>
<text transform="translate(874.2 369.9) scale(0.88 1)" font-size="9.2" font-weight="400" fill="#f3e9ea" text-anchor="middle">기흥구</text>
<text transform="translate(874.2 398.4) scale(0.88 1)" font-size="9.2" font-weight="400" fill="#f3e9ea" text-anchor="middle">음성군</text>
<text transform="translate(874.2 431.7) scale(0.88 1)" font-size="9.2" font-weight="400" fill="#f3e9ea" text-anchor="middle">증평군</text>
<text transform="translate(874.2 460.0) scale(0.88 1)" font-size="9.2" font-weight="400" fill="#f3e9ea" text-anchor="middle">청주시</text>
<text transform="translate(874.2 470.0) scale(0.88 1)" font-size="9.2" font-weight="400" fill="#f3e9ea" text-anchor="middle">상당구</text>
<text transform="translate(874.2 498.5) scale(0.88 1)" font-size="9.2" font-weight="400" fill="#f3e9ea" text-anchor="middle">옥천군</text>
<text transform="translate(874.2 531.8) scale(0.88 1)" font-size="9.2" font-weight="400" fill="#f3e9ea" text-anchor="middle">동구</text>
<text transform="translate(874.2 565.2) scale(0.88 1)" font-size="9.2" font-weight="400" fill="#f3e9ea" text-anchor="middle">합천군</text>
<text transform="translate(874.2 598.6) scale(0.88 1)" font-size="9.2" font-weight="400" fill="#f3e9ea" text-anchor="middle">의령군</text>
<text transform="translate(874.2 631.9) scale(0.88 1)" font-size="9.2" font-weight="400" fill="#f3e9ea" text-anchor="middle">진주시</text>
<text transform="translate(874.2 665.3) scale(0.88 1)" font-size="9.2" font-weight="400" fill="#f3e9ea" text-anchor="middle">사천시</text>
<text transform="translate(874.2 698.6) scale(0.88 1)" font-size="9.2" font-weight="400" fill="#f3e9ea" text-anchor="middle">고성군</text>
<text transform="translate(874.2 732.0) scale(0.88 1)" font-size="9.2" font-weight="400" fill="#f3e9ea" text-anchor="middle">통영시</text>
<text transform="translate(910.7 81.4) scale(0.88 1)" font-size="9.2" font-weight="400" fill="#f3e9ea" text-anchor="middle">철원군</text>
<text transform="translate(910.7 114.8) scale(0.88 1)" font-size="9.2" font-weight="400" fill="#f3e9ea" text-anchor="middle">포천시</text>
<text transform="translate(910.7 148.1) scale(0.88 1)" font-size="9.2" font-weight="400" fill="#f3e9ea" text-anchor="middle">구리시</text>
<text transform="translate(910.7 181.5) scale(0.88 1)" font-size="9.2" font-weight="400" fill="#f3e9ea" text-anchor="middle">중랑구</text>
<text transform="translate(910.7 214.9) scale(0.88 1)" font-size="9.2" font-weight="400" fill="#f3e9ea" text-anchor="middle">광진구</text>
<text transform="translate(910.7 248.2) scale(0.88 1)" font-size="9.2" font-weight="400" fill="#f3e9ea" text-anchor="middle">송파구</text>
<text transform="translate(910.7 276.5) scale(0.88 1)" font-size="9.2" font-weight="400" fill="#f3e9ea" text-anchor="middle">성남시</text>
<text transform="translate(910.7 286.5) scale(0.88 1)" font-size="9.2" font-weight="400" fill="#f3e9ea" text-anchor="middle">수정구</text>
<text transform="translate(910.7 309.8) scale(0.88 1)" font-size="9.2" font-weight="400" fill="#f3e9ea" text-anchor="middle">성남시</text>
<text transform="translate(910.7 319.8) scale(0.88 1)" font-size="9.2" font-weight="400" fill="#f3e9ea" text-anchor="middle">분당구</text>
<text transform="translate(910.7 343.2) scale(0.88 1)" font-size="9.2" font-weight="400" fill="#f3e9ea" text-anchor="middle">용인시</text>
<text transform="translate(910.7 353.2) scale(0.88 1)" font-size="9.2" font-weight="400" fill="#f3e9ea" text-anchor="middle">처인구</text>
<text transform="translate(910.7 381.7) scale(0.88 1)" font-size="9.2" font-weight="400" fill="#f3e9ea" text-anchor="middle">안성시</text>
<text transform="translate(910.7 415.0) scale(0.88 1)" font-size="9.2" font-weight="400" fill="#f3e9ea" text-anchor="middle">충주시</text>
<text transform="translate(910.7 448.4) scale(0.88 1)" font-size="9.2" font-weight="400" fill="#f3e9ea" text-anchor="middle">괴산군</text>
<text transform="translate(910.7 481.8) scale(0.88 1)" font-size="9.2" font-weight="400" fill="#f3e9ea" text-anchor="middle">보은군</text>
<text transform="translate(910.7 515.1) scale(0.88 1)" font-size="9.2" font-weight="400" fill="#f3e9ea" text-anchor="middle">영동군</text>
<text transform="translate(910.7 548.5) scale(0.88 1)" font-size="9.2" font-weight="400" fill="#f3e9ea" text-anchor="middle">창녕군</text>
<text transform="translate(910.7 581.9) scale(0.88 1)" font-size="9.2" font-weight="400" fill="#f3e9ea" text-anchor="middle">함안군</text>
<text transform="translate(910.7 610.1) scale(0.88 1)" font-size="9.2" font-weight="400" fill="#f3e9ea" text-anchor="middle">창원시</text>
<text transform="translate(910.7 620.1) scale(0.88 1)" font-size="9.2" font-weight="400" fill="#f3e9ea" text-anchor="middle">의창구</text>
<text transform="translate(910.7 643.5) scale(0.88 1)" font-size="9.2" font-weight="400" fill="#f3e9ea" text-anchor="middle">창원시</text>
<text transform="translate(910.7 653.5) scale(0.88 1)" font-size="9.2" font-weight="400" fill="#f3e9ea" text-anchor="middle">마산회원구</text>
<text transform="translate(910.7 676.9) scale(0.88 1)" font-size="9.2" font-weight="400" fill="#f3e9ea" text-anchor="middle">창원시</text>
<text transform="translate(910.7 686.9) scale(0.88 1)" font-size="9.2" font-weight="400" fill="#f3e9ea" text-anchor="middle">마산합포구</text>
<text transform="translate(910.7 715.3) scale(0.88 1)" font-size="9.2" font-weight="400" fill="#f3e9ea" text-anchor="middle">거제시</text>
<text transform="translate(947.1 98.1) scale(0.88 1)" font-size="9.2" font-weight="400" fill="#f3e9ea" text-anchor="middle">화천군</text>
<text transform="translate(947.1 131.4) scale(0.88 1)" font-size="9.2" font-weight="400" fill="#f3e9ea" text-anchor="middle">춘천시</text>
<text transform="translate(947.1 164.8) scale(0.88 1)" font-size="9.2" font-weight="400" fill="#f3e9ea" text-anchor="middle">가평군</text>
<text transform="translate(947.1 198.2) scale(0.88 1)" font-size="9.2" font-weight="400" fill="#f3e9ea" text-anchor="middle">남양주시</text>
<text transform="translate(947.1 231.5) scale(0.88 1)" font-size="9.2" font-weight="400" fill="#f3e9ea" text-anchor="middle">강동구</text>
<text transform="translate(947.1 264.9) scale(0.88 1)" font-size="9.2" font-weight="400" fill="#f3e9ea" text-anchor="middle">하남시</text>
<text transform="translate(947.1 293.2) scale(0.88 1)" font-size="9.2" font-weight="400" fill="#f3e9ea" text-anchor="middle">성남시</text>
<text transform="translate(947.1 303.2) scale(0.88 1)" font-size="9.2" font-weight="400" fill="#f3e9ea" text-anchor="middle">중원구</text>
<text transform="translate(947.1 331.6) scale(0.88 1)" font-size="9.2" font-weight="400" fill="#f3e9ea" text-anchor="middle">이천시</text>
<text transform="translate(947.1 365.0) scale(0.88 1)" font-size="9.2" font-weight="400" fill="#f3e9ea" text-anchor="middle">단양군</text>
<text transform="translate(947.1 398.4) scale(0.88 1)" font-size="9.2" font-weight="400" fill="#f3e9ea" text-anchor="middle">제천시</text>
<text transform="translate(947.1 431.7) scale(0.88 1)" font-size="9.2" font-weight="400" fill="#f3e9ea" text-anchor="middle">성주군</text>
<text transform="translate(947.1 465.1) scale(0.88 1)" font-size="9.2" font-weight="400" fill="#f3e9ea" text-anchor="middle">고령군</text>
<text transform="translate(947.1 498.5) scale(0.88 1)" font-size="9.2" font-weight="400" fill="#f3e9ea" text-anchor="middle">달서구</text>
<text transform="translate(947.1 531.8) scale(0.88 1)" font-size="9.2" font-weight="400" fill="#f3e9ea" text-anchor="middle">달성군</text>
<text transform="translate(947.1 565.2) scale(0.88 1)" font-size="9.2" font-weight="400" fill="#f3e9ea" text-anchor="middle">밀양시</text>
<text transform="translate(947.1 598.6) scale(0.88 1)" font-size="9.2" font-weight="400" fill="#f3e9ea" text-anchor="middle">김해시</text>
<text transform="translate(947.1 626.8) scale(0.88 1)" font-size="9.2" font-weight="400" fill="#f3e9ea" text-anchor="middle">창원시</text>
<text transform="translate(947.1 636.8) scale(0.88 1)" font-size="9.2" font-weight="400" fill="#f3e9ea" text-anchor="middle">성산구</text>
<text transform="translate(947.1 660.2) scale(0.88 1)" font-size="9.2" font-weight="400" fill="#f3e9ea" text-anchor="middle">창원시</text>
<text transform="translate(947.1 670.2) scale(0.88 1)" font-size="9.2" font-weight="400" fill="#f3e9ea" text-anchor="middle">진해구</text>
<text transform="translate(947.1 698.6) scale(0.88 1)" font-size="9.2" font-weight="400" fill="#f3e9ea" text-anchor="middle">사하구</text>
<text transform="translate(983.6 81.4) scale(0.88 1)" font-size="9.2" font-weight="400" fill="#f3e9ea" text-anchor="middle">양구군</text>
<text transform="translate(983.6 114.8) scale(0.88 1)" font-size="9.2" font-weight="400" fill="#f3e9ea" text-anchor="middle">인제군</text>
<text transform="translate(983.6 148.1) scale(0.88 1)" font-size="9.2" font-weight="400" fill="#f3e9ea" text-anchor="middle">홍천군</text>
<text transform="translate(983.6 181.5) scale(0.88 1)" font-size="9.2" font-weight="400" fill="#f3e9ea" text-anchor="middle">횡성군</text>
<text transform="translate(983.6 214.9) scale(0.88 1)" font-size="9.2" font-weight="400" fill="#f3e9ea" text-anchor="middle">양평군</text>
<text transform="translate(983.6 248.2) scale(0.88 1)" font-size="9.2" font-weight="400" fill="#f3e9ea" text-anchor="middle">광주시</text>
<text transform="translate(983.6 281.6) scale(0.88 1)" font-size="9.2" font-weight="400" fill="#f3e9ea" text-anchor="middle">여주시</text>
<text transform="translate(983.6 314.9) scale(0.88 1)" font-size="9.2" font-weight="400" fill="#f3e9ea" text-anchor="middle">문경시</text>
<text transform="translate(983.6 348.3) scale(0.88 1)" font-size="9.2" font-weight="400" fill="#f3e9ea" text-anchor="middle">상주시</text>
<text transform="translate(983.6 381.7) scale(0.88 1)" font-size="9.2" font-weight="400" fill="#f3e9ea" text-anchor="middle">구미시</text>
<text transform="translate(983.6 415.0) scale(0.88 1)" font-size="9.2" font-weight="400" fill="#f3e9ea" text-anchor="middle">김천시</text>
<text transform="translate(983.6 448.4) scale(0.88 1)" font-size="9.2" font-weight="400" fill="#f3e9ea" text-anchor="middle">북구</text>
<text transform="translate(983.6 481.8) scale(0.88 1)" font-size="9.2" font-weight="400" fill="#f3e9ea" text-anchor="middle">서구</text>
<text transform="translate(983.6 515.1) scale(0.88 1)" font-size="9.2" font-weight="400" fill="#f3e9ea" text-anchor="middle">남구</text>
<text transform="translate(983.6 548.5) scale(0.88 1)" font-size="9.2" font-weight="400" fill="#f3e9ea" text-anchor="middle">양산시</text>
<text transform="translate(983.6 581.9) scale(0.88 1)" font-size="9.2" font-weight="400" fill="#f3e9ea" text-anchor="middle">강서구</text>
<text transform="translate(983.6 615.2) scale(0.88 1)" font-size="9.2" font-weight="400" fill="#f3e9ea" text-anchor="middle">사상구</text>
<text transform="translate(983.6 648.6) scale(0.88 1)" font-size="9.2" font-weight="400" fill="#f3e9ea" text-anchor="middle">중구</text>
<text transform="translate(983.6 682.0) scale(0.88 1)" font-size="9.2" font-weight="400" fill="#f3e9ea" text-anchor="middle">서구</text>
<text transform="translate(1020.0 64.7) scale(0.88 1)" font-size="9.2" font-weight="400" fill="#f3e9ea" text-anchor="middle">고성군</text>
<text transform="translate(1020.0 98.1) scale(0.88 1)" font-size="9.2" font-weight="400" fill="#f3e9ea" text-anchor="middle">속초시</text>
<text transform="translate(1020.0 131.4) scale(0.88 1)" font-size="9.2" font-weight="400" fill="#f3e9ea" text-anchor="middle">양양군</text>
<text transform="translate(1020.0 164.8) scale(0.88 1)" font-size="9.2" font-weight="400" fill="#f3e9ea" text-anchor="middle">평창군</text>
<text transform="translate(1020.0 198.2) scale(0.88 1)" font-size="9.2" font-weight="400" fill="#f3e9ea" text-anchor="middle">원주시</text>
<text transform="translate(1020.0 231.5) scale(0.88 1)" font-size="9.2" font-weight="400" fill="#f3e9ea" text-anchor="middle">영월군</text>
<text transform="translate(1020.0 264.9) scale(0.88 1)" font-size="9.2" font-weight="400" fill="#f3e9ea" text-anchor="middle">영주시</text>
<text transform="translate(1020.0 298.3) scale(0.88 1)" font-size="9.2" font-weight="400" fill="#f3e9ea" text-anchor="middle">예천군</text>
<text transform="translate(1020.0 331.6) scale(0.88 1)" font-size="9.2" font-weight="400" fill="#f3e9ea" text-anchor="middle">안동시</text>
<text transform="translate(1020.0 365.0) scale(0.88 1)" font-size="9.2" font-weight="400" fill="#f3e9ea" text-anchor="middle">의성군</text>
<text transform="translate(1020.0 398.4) scale(0.88 1)" font-size="9.2" font-weight="400" fill="#f3e9ea" text-anchor="middle">칠곡군</text>
<text transform="translate(1020.0 431.7) scale(0.88 1)" font-size="9.2" font-weight="400" fill="#f3e9ea" text-anchor="middle">동구</text>
<text transform="translate(1020.0 465.1) scale(0.88 1)" font-size="9.2" font-weight="400" fill="#f3e9ea" text-anchor="middle">수성구</text>
<text transform="translate(1020.0 498.5) scale(0.88 1)" font-size="9.2" font-weight="400" fill="#f3e9ea" text-anchor="middle">중구</text>
<text transform="translate(1020.0 531.8) scale(0.88 1)" font-size="9.2" font-weight="400" fill="#f3e9ea" text-anchor="middle">울주군</text>
<text transform="translate(1020.0 565.2) scale(0.88 1)" font-size="9.2" font-weight="400" fill="#f3e9ea" text-anchor="middle">북구</text>
<text transform="translate(1020.0 598.6) scale(0.88 1)" font-size="9.2" font-weight="400" fill="#f3e9ea" text-anchor="middle">부산진구</text>
<text transform="translate(1020.0 631.9) scale(0.88 1)" font-size="9.2" font-weight="400" fill="#f3e9ea" text-anchor="middle">동구</text>
<text transform="translate(1020.0 665.3) scale(0.88 1)" font-size="9.2" font-weight="400" fill="#f3e9ea" text-anchor="middle">영도구</text>
<text transform="translate(1056.5 148.1) scale(0.88 1)" font-size="9.2" font-weight="400" fill="#f3e9ea" text-anchor="middle">강릉시</text>
<text transform="translate(1056.5 181.5) scale(0.88 1)" font-size="9.2" font-weight="400" fill="#f3e9ea" text-anchor="middle">정선군</text>
<text transform="translate(1056.5 214.9) scale(0.88 1)" font-size="9.2" font-weight="400" fill="#f3e9ea" text-anchor="middle">태백시</text>
<text transform="translate(1056.5 248.2) scale(0.88 1)" font-size="9.2" font-weight="400" fill="#f3e9ea" text-anchor="middle">봉화군</text>
<text transform="translate(1056.5 281.6) scale(0.88 1)" font-size="9.2" font-weight="400" fill="#f3e9ea" text-anchor="middle">영양군</text>
<text transform="translate(1056.5 314.9) scale(0.88 1)" font-size="9.2" font-weight="400" fill="#f3e9ea" text-anchor="middle">청송군</text>
<text transform="translate(1056.5 348.3) scale(0.88 1)" font-size="9.2" font-weight="400" fill="#f3e9ea" text-anchor="middle">군위군</text>
<text transform="translate(1056.5 381.7) scale(0.88 1)" font-size="9.2" font-weight="400" fill="#f3e9ea" text-anchor="middle">영천시</text>
<text transform="translate(1056.5 415.0) scale(0.88 1)" font-size="9.2" font-weight="400" fill="#f3e9ea" text-anchor="middle">경산시</text>
<text transform="translate(1056.5 448.4) scale(0.88 1)" font-size="9.2" font-weight="400" fill="#f3e9ea" text-anchor="middle">청도군</text>
<text transform="translate(1056.5 481.8) scale(0.88 1)" font-size="9.2" font-weight="400" fill="#f3e9ea" text-anchor="middle">중구</text>
<text transform="translate(1056.5 515.1) scale(0.88 1)" font-size="9.2" font-weight="400" fill="#f3e9ea" text-anchor="middle">남구</text>
<text transform="translate(1056.5 548.5) scale(0.88 1)" font-size="9.2" font-weight="400" fill="#f3e9ea" text-anchor="middle">금정구</text>
<text transform="translate(1056.5 581.9) scale(0.88 1)" font-size="9.2" font-weight="400" fill="#f3e9ea" text-anchor="middle">동래구</text>
<text transform="translate(1056.5 615.2) scale(0.88 1)" font-size="9.2" font-weight="400" fill="#f3e9ea" text-anchor="middle">연제구</text>
<text transform="translate(1056.5 648.6) scale(0.88 1)" font-size="9.2" font-weight="400" fill="#f3e9ea" text-anchor="middle">남구</text>
<text transform="translate(1093.0 198.2) scale(0.88 1)" font-size="9.2" font-weight="400" fill="#f3e9ea" text-anchor="middle">동해시</text>
<text transform="translate(1093.0 231.5) scale(0.88 1)" font-size="9.2" font-weight="400" fill="#f3e9ea" text-anchor="middle">삼척시</text>
<text transform="translate(1093.0 264.9) scale(0.88 1)" font-size="9.2" font-weight="400" fill="#f3e9ea" text-anchor="middle">울진군</text>
<text transform="translate(1093.0 298.3) scale(0.88 1)" font-size="9.2" font-weight="400" fill="#f3e9ea" text-anchor="middle">영덕군</text>
<text transform="translate(1093.0 331.6) scale(0.88 1)" font-size="9.2" font-weight="400" fill="#f3e9ea" text-anchor="middle">울릉군</text>
<text transform="translate(1093.0 359.9) scale(0.88 1)" font-size="9.2" font-weight="400" fill="#f3e9ea" text-anchor="middle">포항시</text>
<text transform="translate(1093.0 369.9) scale(0.88 1)" font-size="9.2" font-weight="400" fill="#f3e9ea" text-anchor="middle">북구</text>
<text transform="translate(1093.0 393.3) scale(0.88 1)" font-size="9.2" font-weight="400" fill="#f3e9ea" text-anchor="middle">포항시</text>
<text transform="translate(1093.0 403.3) scale(0.88 1)" font-size="9.2" font-weight="400" fill="#f3e9ea" text-anchor="middle">남구</text>
<text transform="translate(1093.0 431.7) scale(0.88 1)" font-size="9.2" font-weight="400" fill="#f3e9ea" text-anchor="middle">경주시</text>
<text transform="translate(1093.0 465.1) scale(0.88 1)" font-size="9.2" font-weight="400" fill="#f3e9ea" text-anchor="middle">북구</text>
<text transform="translate(1093.0 498.5) scale(0.88 1)" font-size="9.2" font-weight="400" fill="#f3e9ea" text-anchor="middle">동구</text>
<text transform="translate(1093.0 531.8) scale(0.88 1)" font-size="9.2" font-weight="400" fill="#f3e9ea" text-anchor="middle">기장군</text>
<text transform="translate(1093.0 565.2) scale(0.88 1)" font-size="9.2" font-weight="400" fill="#f3e9ea" text-anchor="middle">해운대구</text>
<text transform="translate(1093.0 598.6) scale(0.88 1)" font-size="9.2" font-weight="400" fill="#f3e9ea" text-anchor="middle">수영구</text>
<text transform="translate(948.0 770.6) scale(0.88 1)" font-size="9.2" font-weight="400" fill="#f3e9ea" text-anchor="middle">제주시</text>
<text transform="translate(948.0 803.9) scale(0.88 1)" font-size="9.2" font-weight="400" fill="#f3e9ea" text-anchor="middle">서귀포시</text>
</g>
<polyline points="898.5,800 898.5,774.6 915,739.5 1004.5,739.5" fill="none" stroke="#333" stroke-width="0.9"/>
<text transform="translate(664.3 157.4) scale(0.9 1)" font-size="16.5" font-weight="500" fill="#111" text-anchor="middle" stroke="#fff" stroke-width="2.6" paint-order="stroke" stroke-linejoin="round">경기</text>
<text transform="translate(812.3 216.4) scale(0.9 1)" font-size="16.5" font-weight="500" fill="#111" text-anchor="middle" stroke="#fff" stroke-width="2.6" paint-order="stroke" stroke-linejoin="round">서울</text>
<text transform="translate(590.3 278.1) scale(0.9 1)" font-size="16.5" font-weight="500" fill="#111" text-anchor="middle" stroke="#fff" stroke-width="2.6" paint-order="stroke" stroke-linejoin="round">인천</text>
<text transform="translate(1077.2 116.9) scale(0.9 1)" font-size="16.5" font-weight="500" fill="#111" text-anchor="middle" stroke="#fff" stroke-width="2.6" paint-order="stroke" stroke-linejoin="round">강원</text>
<text transform="translate(617.6 485.9) scale(0.9 1)" font-size="16.5" font-weight="500" fill="#111" text-anchor="middle" stroke="#fff" stroke-width="2.6" paint-order="stroke" stroke-linejoin="round">충남</text>
<text transform="translate(828.0 533.5) scale(0.9 1)" font-size="16.5" font-weight="500" fill="#111" text-anchor="middle" stroke="#fff" stroke-width="2.6" paint-order="stroke" stroke-linejoin="round">대전</text>
<text transform="translate(617.6 584.7) scale(0.9 1)" font-size="16.5" font-weight="500" fill="#111" text-anchor="middle" stroke="#fff" stroke-width="2.6" paint-order="stroke" stroke-linejoin="round">전북</text>
<text transform="translate(584.0 699.6) scale(0.9 1)" font-size="16.5" font-weight="500" fill="#111" text-anchor="middle" stroke="#fff" stroke-width="2.6" paint-order="stroke" stroke-linejoin="round">전남</text>
<text transform="translate(720.8 715.5) scale(0.9 1)" font-size="16.5" font-weight="500" fill="#111" text-anchor="middle" stroke="#fff" stroke-width="2.6" paint-order="stroke" stroke-linejoin="round">광주</text>
<text transform="translate(885.4 447.4) scale(0.9 1)" font-size="16.5" font-weight="500" fill="#111" text-anchor="middle" stroke="#fff" stroke-width="2.6" paint-order="stroke" stroke-linejoin="round">충북</text>
<text transform="translate(1006.0 481.2) scale(0.9 1)" font-size="16.5" font-weight="500" fill="#111" text-anchor="middle" stroke="#fff" stroke-width="2.6" paint-order="stroke" stroke-linejoin="round">대구</text>
<text transform="translate(1129.8 349.9) scale(0.9 1)" font-size="16.5" font-weight="500" fill="#111" text-anchor="middle" stroke="#fff" stroke-width="2.6" paint-order="stroke" stroke-linejoin="round">경북</text>
<text transform="translate(1129.8 480.3) scale(0.9 1)" font-size="16.5" font-weight="500" fill="#111" text-anchor="middle" stroke="#fff" stroke-width="2.6" paint-order="stroke" stroke-linejoin="round">울산</text>
<text transform="translate(1096.6 647.5) scale(0.9 1)" font-size="16.5" font-weight="500" fill="#111" text-anchor="middle" stroke="#fff" stroke-width="2.6" paint-order="stroke" stroke-linejoin="round">부산</text>
<text transform="translate(984.8 787.9) scale(0.9 1)" font-size="16.5" font-weight="500" fill="#111" text-anchor="middle" stroke="#fff" stroke-width="2.6" paint-order="stroke" stroke-linejoin="round">제주</text>
<g transform="translate(670 646.5) scale(0.845)" stroke-linejoin="round">
<polygon points="537.7,85.5 542.5,89 503,128 475,166 471.2,163.3 499.8,128.4" fill="#cfcfcf"/>
<polygon points="455.4,63 494.8,101.3 496,123 455.4,85.5" fill="#4d4d4d" stroke="#222" stroke-width="1"/>
<rect x="458.5" y="79.0" width="17.0" height="10.0" rx="1.2" transform="rotate(38 467.0 84.0)" fill="#c9c9c9" stroke="#777" stroke-width="0.6"/>
<rect x="464.0" y="86.0" width="18.0" height="10.0" rx="1.2" transform="rotate(25 473.0 91.0)" fill="#dcdcdc" stroke="#777" stroke-width="0.6"/>
<rect x="469.0" y="94.0" width="18.0" height="10.0" rx="1.2" transform="rotate(40 478.0 99.0)" fill="#bdbdbd" stroke="#777" stroke-width="0.6"/>
<rect x="477.0" y="99.5" width="16.0" height="9.0" rx="1.2" transform="rotate(-20 485.0 104.0)" fill="#e6e6e6" stroke="#777" stroke-width="0.6"/>
<rect x="478.5" y="106.0" width="17.0" height="10.0" rx="1.2" transform="rotate(30 487.0 111.0)" fill="#d0d0d0" stroke="#777" stroke-width="0.6"/>
<polygon points="537.7,60.7 537.7,85.5 497.5,123.5 494.8,101.3" fill="#a2a2a2" stroke="#222" stroke-width="1"/>
<polygon points="497.8,20.1 537.7,60.7 494.8,101.3 455.4,63" fill="#d5d5d5" stroke="#222" stroke-width="1.1"/>
<rect x="443.8" y="91.3" width="21.0" height="11.0" rx="1.5" transform="rotate(10 454.3 96.8)" fill="#fff" stroke="#333" stroke-width="0.9"/>
<rect x="437.5" y="109.3" width="20.0" height="11.0" rx="1.5" transform="rotate(36 447.5 114.8)" fill="#fff" stroke="#333" stroke-width="0.9"/>
<rect x="451.0" y="113.0" width="20.0" height="11.0" rx="1.5" transform="rotate(42 461.0 118.5)" fill="#fff" stroke="#333" stroke-width="0.9"/>
<rect x="428.0" y="120.5" width="17.0" height="11.0" rx="1.5" transform="rotate(-6 436.5 126.0)" fill="#fff" stroke="#333" stroke-width="0.9"/>
<rect x="446.5" y="125.8" width="11.0" height="21.0" rx="1.5" transform="rotate(-10 452.0 136.3)" fill="#fff" stroke="#333" stroke-width="0.9"/>
<rect x="445.0" y="142.5" width="20.0" height="11.0" rx="1.5" transform="rotate(22 455.0 148.0)" fill="#fff" stroke="#333" stroke-width="0.9"/>
<rect x="410.5" y="123.7" width="11.0" height="22.0" rx="1.5" transform="rotate(12 416.0 134.7)" fill="#fff" stroke="#333" stroke-width="0.9"/>
<rect x="423.5" y="150.5" width="21.0" height="11.0" rx="1.5" transform="rotate(-22 434.0 156.0)" fill="#fff" stroke="#333" stroke-width="0.9"/>
<rect x="436.4" y="170.4" width="11.0" height="22.0" rx="1.5" transform="rotate(-12 441.9 181.4)" fill="#fff" stroke="#333" stroke-width="0.9"/>
<rect x="461.0" y="107.0" width="18.0" height="10.0" rx="1.5" transform="rotate(-25 470.0 112.0)" fill="#fff" stroke="#333" stroke-width="0.9"/>
<rect x="468.0" y="115.5" width="16.0" height="9.0" rx="1.5" transform="rotate(20 476.0 120.0)" fill="#fff" stroke="#333" stroke-width="0.9"/>
<polygon points="467.8,137.4 497.1,103.6 499.8,104.7 471,139.5" fill="#eef1f5" stroke="#222" stroke-width="0.8"/>
<polygon points="467.8,137.4 471,139.5 471.2,163.3 467.8,161.5" fill="#8d8d8d" stroke="#222" stroke-width="0.8"/>
<polygon points="471,139.5 499.8,104.7 499.8,128.4 471.2,163.3" fill="#b4b4b4" stroke="#222" stroke-width="0.9"/>
<polygon points="481.3,139.5 488,131.3 488,133.8 481.3,142" fill="#222"/>
</g>
<text transform="translate(558.0 823.8) scale(0.9 1)" font-size="9" font-weight="400" fill="#444" text-anchor="start" font-style="italic">자료/ 중앙선거관리위원회</text>
<text transform="translate(777.5 823.9) scale(0.96 1)" font-size="9.3" font-weight="400" fill="#333" text-anchor="start" font-style="italic">*전국 시군구별 득표율 우세 지역</text>
<g transform="translate(1108.0 821.3) scale(1.04)">
<path d="M0.6 -5.3 C3.6 -5.3 5 -2.6 4.4 0.4 C3.8 3.4 1.2 5 -1.2 5.6 C-2.2 5.9 -3 5.4 -2.4 4.6 C-4.6 3.4 -5 0.4 -4 -2.2 C-3.2 -4.2 -1.4 -5.3 0.6 -5.3 Z" fill="#1f8bd0"/>
<path d="M1.4 -2.8 L-0.6 2.6 M-1.6 -0.6 L2.2 -1.2" stroke="#e9f4fb" stroke-width="0.9" fill="none" stroke-linecap="round"/>
<text x="5.8" y="3.4" font-size="7.7" font-weight="900" fill="#1d3d6e" textLength="26" lengthAdjust="spacingAndGlyphs">연합뉴스</text>
</g>
</g>
<text x="553" y="842.6" font-size="9.2" fill="#222" transform="scale(0.9 1)" style="transform-origin:553px 841px"><tspan font-weight="700">김토일 기자</tspan> 20220310</text>
</svg></body></html>
